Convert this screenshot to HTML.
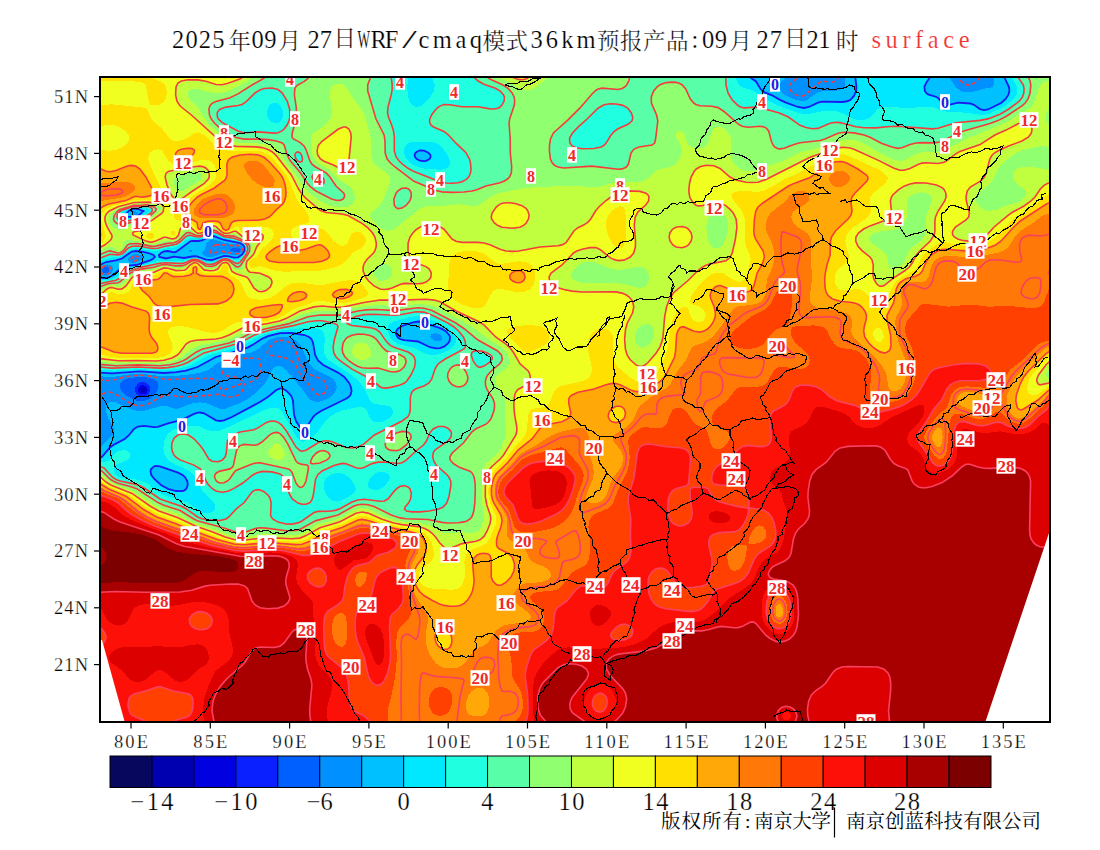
<!DOCTYPE html><html><head><meta charset="utf-8"><title>WRF/cmaq surface</title>
<style>html,body{margin:0;padding:0;background:#fff}svg{display:block}text{font-family:'Liberation Serif','Noto Serif CJK SC',serif}</style></head><body>
<svg width="1100" height="850" viewBox="0 0 1100 850">
<rect width="1100" height="850" fill="#fff"/>
<defs><clipPath id="mc"><rect x="100" y="77" width="950" height="645"/></clipPath></defs>
<g clip-path="url(#mc)">
<g shape-rendering="crispEdges"><rect x="100" y="77" width="950" height="645" fill="#0000b0"/>
<path fill="#0000e0" d="M96,73 1054,73 1054,725 96,725ZM142,387.8 140.8,389 140.9,391 142,392 144,391.9 144.9,391 145,389 144,387.9Z"/>
<path fill="#0a20ff" d="M96,73 1054,73 1054,725 96,725ZM140,386.1 138.2,389 138.2,391 139.3,393 142,394.5 144,394.4 146,393.3 147.5,391 147.6,389 146.7,387 144,385.3 142,385.2Z"/>
<path fill="#0060ff" d="M96,73 1054,73 1054,725 96,725ZM140,382.5 138,383.6 135.5,387 135,391 135.9,393 137.4,395 140,396.5 144,396.8 146,396.1 149.3,393 150.4,389 149.9,387 148.8,385 146,382.8 144,382.1Z"/>
<path fill="#0090ff" d="M96,73 1054,73 1054,725 96,725ZM106,266.9 104,267.5 102.6,269 102.2,271 104,273.2 106,273.5 107.3,273 109.1,271 109.1,269 108,267.6ZM136,376.9 125.9,379 122,381 120.4,383 119.9,385 120.5,389 122,391.5 125.6,395 134,399.9 138,401.1 142,401.2 146,400.3 150,398.3 155.9,393 157.3,391 158.6,387 158.3,383 156.9,381 153.1,379 146,377.3ZM230,248.9 228.6,249 230,249.2 231.4,251 236,252.4 238,252.4 240,251.5 240.7,249 238,247.3Z"/>
<path fill="#00c0ff" d="M96,73 789.6,73 788.9,75 787.1,77 782,80.7 780.2,83 779.4,85 779.8,89 782.4,93 786,95.7 793.3,99 802,101.4 806,100.7 816,93.5 820,91.6 824,91 836,91 842,88.9 844.3,87 845.3,85 845.4,73 948.9,73 950.4,79 956,87.5 960.8,91 964,92 968,92.3 974,91.6 984,88.7 992,87.4 993.7,85 994,83 993.1,73 1054,73 1054,725 96,725 96,451.6 98,451 100,449.1 104.2,443 110.8,437 113.7,433 114.1,431 113.4,427 108,417.7 106.4,413 106,407 107.9,403 110,401.9 114,402 118,403.3 130,409.1 138,411 146,410.4 162,405.6 166,406 174,408.6 178,408.7 190,404 196,402.7 200,402.4 208,403.7 220,409 224,409.1 240,403 247.5,399 253.1,395 259.9,389 264,384.4 267.6,379 272.7,369 274.9,367 278,366 282,366.8 286,369.9 302.1,389 308,397.4 310,399.5 312.5,401 316,401.8 320,401.6 328,398.6 332,395.8 334.7,393 336,390.5 336.7,387 336.1,383 333.2,379 330,376.8 316,370.1 310.2,365 306.7,359 301.8,347 297.1,341 292,338.1 288.4,337 284,336.5 277.2,337 271.2,339 267.6,341 258.2,349 254.9,351 250,352.7 238,355.4 225.7,359 218,363 208,370 204,371.7 198,373.3 182,375.4 168,376.4 162,376.3 140,373.6 130,374.3 114,376.8 108,376.9 96,375.9ZM104,264.9 101,267 99.8,269 99.5,271 100,273 101.9,275 104,275.8 108,275.4 111.4,273 112.6,271 113,269 112.4,267 110.1,265 108,264.4ZM132,212.4 131,215 134,215.5 136.2,215 138.3,213 138,212.2 136,211.3 134,211.2ZM190,249.8 188.8,251 190,252.3 192,251.9 192.9,251 192,249.9ZM208,240.9 206.3,243 205,249 201.9,253 202.8,255 207.7,257 212.6,257 220,254.4 224,253.6 234,255 238,254.8 240,254 242.7,251 243.2,249 242.8,247 240,244.6 232,244 224,242.6 214,239.4 212,239.4ZM432,333.9 430.6,335 430.4,337 431.8,339 434,340.4 438,341.4 440,341 442.2,339 442.4,337 440,334.3 436,333.1ZM132,254.9 129.2,257 127.8,259 128.1,261 132,262.8 136,262.6 139.6,261 142.5,259 143.8,257 141.3,255 138,254.2 134,254.3Z"/>
<path fill="#00e8ff" d="M96,73 747.5,73 748.1,75 749.6,77 756,81.5 760.5,89 764,92.2 772,95.3 780,99.9 786,102.6 798,107 804,108 808.9,107 818,102.7 822,101.7 842,102 846,101.5 850,100.1 854,96 856.1,91 856.4,87 854.9,73 930.9,73 930.1,77 926,83.3 924.4,87 924.9,91 926.2,93 928,94.4 936.5,97 938,98 942.4,103 946,104.7 950,104.6 958,102.7 970,103.5 974,104.8 980,109.1 984,110.2 988,109.5 1001.1,103 1005.7,99 1008.3,95 1009.4,91 1009,87 1004.2,77 1003.5,73 1054,73 1054,725 96,725 96,458.7 100,458 102,456.9 110,447.4 114,444.6 124.7,439 129.2,435 134,428.9 138,426.5 144,425.8 154,427.1 158,426.9 168,423.4 182,419.8 194,413.9 198,412.6 200,412.5 204,413.3 216,420.3 220,421 224,420.4 232,417 260,402 267.8,397 276,390.3 280,388.4 282,388.4 286,390.4 290.6,395 292,397.6 293,401 294,414.5 296,421 300,427.2 302,428.3 304,428.3 306,427.1 308,425 313.1,417 316,414.2 321,411 346,398.8 348.7,397 350.5,395 351.6,391 350.9,387 349.1,383 344.3,377 338,372.6 323.2,365 318,360.5 315.1,355 313.1,343 311.4,339 309.1,337 304.4,335 292.2,333 280,333.2 268,336.1 261.6,339 254,344.1 248,347.4 242,349.6 215.8,357 197.5,367 186,370.6 176,372.2 164,373 140,371.3 112,373.4 96,372.3ZM134,208.7 128.7,211 126,213.8 123.8,215 124,215.4 126,216.7 134.1,217 138,215.6 141.5,213 142,211.9 144.3,211 142,210.7 137.8,209ZM210,236.4 202,240.4 198,241 192,240.9 190,241.5 176,251.9 174,252.4 168,251 164,251.4 160.9,253 158.9,255 159.4,257 166,258.5 174,256.6 184,258 192,256.5 196,256.2 206,259.7 212,260 224,255.9 228,256.1 234,257.6 238,257.3 242,254.6 244.4,251 244.4,247 243.1,245 240,243.1 224,240 214,236.1ZM412,322.7 402,326 397.6,329 396.4,331 396,333 396.3,335 398,337.6 400,339 404,340.2 418,341.5 430,347.2 436,348.4 440,348.1 444,346.6 448,343.4 449.6,341 450,337 449.1,335 446,331.5 442,328.9 422,322 418,321.5ZM418,151 415.3,153 414.6,155 415.1,157 416.7,159 420,160.7 424,161.2 426,160.8 429.5,159 430.6,157 430.4,155 428,152.4 424,150.7 420,150.5ZM154,466.4 151.1,469 150.5,471 151.3,475 154.3,479 161,485 168,488.8 176,491 182,491.2 184,490.6 186.2,489 187.8,485 187.3,481 184.9,477 182.6,475 178,472.6 160,466.3 156,465.9ZM130,252.7 122,258.5 116,260.4 106,262 100,264.9 96.6,269 96.2,273 97.3,275 102,277.8 104,278.1 108,277.7 113.6,275 118,270.8 124,266.8 128,265.7 136.1,265 150,260.3 152.9,259 155,257 153.5,255 148.5,253 142,251.6 136,251 132,251.7Z"/>
<path fill="#20ffe0" d="M96,73 408,73 407.3,89 408.7,99 410,102.2 412.2,105 414,106.3 418,107 422,105.4 426,102 430.4,97 433.9,91 434.8,85 431.6,77 430.8,73 735.3,73 735.6,77 736.8,81 739.3,85 741.6,87 752,90.2 764,98.1 776,104.5 784,107.8 798,113 804,114.1 810,113.8 824,110.9 830,110.8 836,111.3 842,113 854,119 860,120.3 864,120 868,118.5 870.3,117 878,108.9 882,107 886,106.5 906,108.1 930,106.7 934,107.5 942,110.6 946,111.5 968,112.8 982,115 988,114.2 1000,108.9 1006,105.4 1013.7,99 1016.5,95 1017.3,91 1016.9,87 1015.1,83 1011.1,77 1010.2,73 1054,73 1054,725 96,725 96,462.7 104,462.2 108.1,461 110,459.4 114,454 118.5,451 124,450.1 127.7,451 129.9,453 130.4,455 129.9,457 128.5,459 124,461.7 116,464.4 113.8,467 114,471 114.8,473 118,476.3 120,477.4 124,478.4 136,479.5 142,480.9 148,484.1 158,491.7 163.7,495 188,502.6 192,505.2 198.7,511 202,512.8 206,513.5 210,513.1 213.8,511 214.9,509 215,505 214.2,503 202.7,491 196.6,479 194,475.1 188,470.3 176,464.8 170,461.3 167.3,459 164.7,455 163.3,449 164,441 166.8,435 172,430.4 180,427.3 194,425.6 200,426.5 206,429.6 210,430.9 214,431.3 220,430.5 232,425.6 262,411 270,408.3 276,407.5 278,407.9 280,409 282,411.3 294,432.8 298,439 300,440.8 302,441.6 304,441.6 309.8,439 314.7,435 318.3,431 325.4,421 329.6,417 336.3,413 342,410.6 356,407.4 360,407.1 364,407.7 366.1,409 369.5,417 372,420.5 374,421.8 378,422.6 384,421.3 388.3,419 392.3,415 393.1,411 392,408.4 390.6,407 388,405.8 376,404 372,402.8 370,400.7 366.7,393 363.5,387 358.6,381 348.8,373 332,362.5 327.5,359 325.8,357 324.2,353 324,349 324.9,339 324,333.5 322.3,331 320,329.4 316,328.2 310,327.8 300,328.4 280,330.6 268,333.1 257.7,337 248,342.6 242,345.5 234,348.2 210,354.8 205,357 190.9,365 185.4,367 178,368.8 162,370.4 140,369.1 114,370.6 96,369.4 96,279.6 104,280.4 111.3,279 116.3,277 124,271 128,268.8 158,261.1 172,260.7 182,261.1 194,257.9 198,258.4 206,261.9 210,262.4 214,261.8 222,257.9 226,257.4 230,258.3 234,260.1 236,260.5 238,260.2 240,258.9 244,254.7 245.9,251 246.2,249 245,245 242,242.6 236,240.6 224,238.2 216,234.5 212,233.7 210,234.2 202,238.1 200,238.5 190,238 187.4,239 180,244.7 176,246.9 172,248.1 164,248.8 156,251.3 140,248.6 136,248.4 132,248.9 130,249.8 122,255.9 118,256.9 110,257.7 104,259.9 96,263.9ZM130,208.9 124,211 120.7,213 119.6,215 120,217.3 122,219 124,219.3 136,218 142,214.9 148,213.4 150,211 149.5,209 146,207.7 142,208.2 134,207.6ZM274,102.7 272,103.2 270,104.5 268.3,107 267.3,111 267.2,115 268.4,119 270,121 273.5,123 276,123.3 278,123 280,121.9 282,119.7 283.1,117 283.3,113 282,108.3 280,105.3 278,103.6ZM410,142.5 406,145 404.8,147 404,149.1 403.8,153 405,157 406.3,159 410,162.6 414,165.3 418,167.1 424,168.6 438,169.6 442,169.5 446,168.5 448.5,167 449.7,165 450,161 447.7,155 442,147.1 438,144 434,142.5 426,141.5 416,141.5ZM338,472.8 332,474.2 328,476.4 325.4,479 323.9,483 324.3,489 325.6,493 327.8,497 332,500.5 336,501.6 340.3,501 348.5,497 353.6,493 355,491 355.7,489 354.8,485 352.1,481 348.3,477 344,474.1 340.8,473ZM376,473 373.1,475 369.7,479 368,483 367.7,485 368.3,487 370.6,489 376,490.2 380,489.3 384,486.5 388.8,481 390,477 389.3,475 388,473.7 384,471.9 380,471.6ZM410,317 394,321.5 390.4,323 388.4,325 387.7,329 389,335 391.3,339 396,342.9 400,344.6 414,348.1 426,354.1 432,354.9 438,354.4 444,352.6 450.6,349 454.6,345 456.3,341 456.2,337 455.3,335 452.1,331 446.9,327 440,323.4 424,316.4 418,315.6Z"/>
<path fill="#58ffa8" d="M96,73 390.4,73 392,83 392.2,89 391.2,95 388,107 387.5,113 388.4,117 391.7,125 393.5,131 394.3,137 394.3,151 396.1,157 399.1,161 403.4,165 408,168.3 414,171.6 440,181.7 446,183 452,183.3 458,182.8 462,181.7 466,179.6 468.7,177 470.5,173 471,169 470.5,163 469.5,159 466,152.7 456,143.2 448,134.5 444,131.4 433.6,127 430.9,125 429.8,123 429.6,121 429.9,119 431.6,115 434.5,111 438,107.4 440,106.1 444,104.6 450,104.7 462,106.8 478,106.8 490,108.9 494,109 498,108.2 500,107 502,105 504.1,101 504.4,97 503.6,95 500.2,91 496,88.6 484,84.2 478.2,81 473.9,77 472.5,73 725.7,73 726,85 728,93 732,99.7 738,105.5 740,106.7 744,107.9 756,107.1 760,107.5 779.3,113 788.4,117 800,125.3 806,127.6 812,128.8 818,128.4 830,123.2 836,122.3 840,122.6 856,126.8 864,127.7 876,127.9 890,126.5 898,126.3 932,128.9 938,128.3 956,122.8 980,120.4 988,118.9 1000,114.2 1008.9,109 1019.5,101 1022.5,97 1023.8,93 1024.1,89 1023.4,85 1017.9,77 1016.7,73 1054,73 1054,725 96,725 96,466.2 100,466.5 104,468 112.2,477 116,479.5 120,481.1 134,483.9 140,485.8 145.7,489 160,499 182,506.5 186,508.7 197.6,517 202,518.7 208,519.9 220,520.5 226.1,519 228.9,517 236,509.2 244,502.8 252,492 254,490.5 258,489.6 260,489.9 264,491.7 267.9,495 269.3,497 270.3,499 271.1,503 270.6,515 271.2,517 272.7,519 278,522.1 286,524 292,524.1 298,522.9 302,521 314,512.5 318,511.4 330,511.2 336,510.1 340,508.7 352,502.1 358,500 364,499.3 380,501.3 384.2,501 388,499 394,491.4 398,487.7 400,486.5 404,485.6 408.1,487 410,489 411.3,493 410.6,499 408.5,503 405.2,507 404.5,509 406.5,511 412,511.9 420,511.9 429.3,511 438.8,509 443.1,507 446.7,503 448.9,497 451,485 450.7,481 448.9,477 446,473.8 436.1,465 433.7,461 432.7,457 433.2,453 434.2,451 436.2,449 448,441 451,437 451.5,433 450.7,431 448,428.2 444,426.5 438,426.5 433.1,429 430,432.6 426.4,441 423.5,445 416,451 406,460.4 402,462.8 398,463.5 384,462 378,462.1 372,463.6 364,467.4 360,468.5 356,467.8 346,463.8 342,463.4 334,465.5 322.1,471 318,474.4 315.6,479 313.3,495 312,499.7 310,502.6 306,504.3 302,504.3 298,503.1 292.3,499 288.9,493 286,481 284,477 280,473.9 272,471.9 262,471.4 256.4,473 252.8,475 242.8,483 234,488.4 228,491.2 222,492.3 216,491 212,488.5 208,484.2 206,480.8 202,471.3 200,468.7 194,465.1 180,459.9 175.7,457 174,455 172.2,451 171.6,447 172,443 174,438.3 178,434.9 180,434.2 184,433.9 188.5,435 194,438.8 199.7,445 202.8,449 208.7,459 212,461.2 218,461.7 222,460.3 225.1,457 226.3,453 227.4,441 229.9,437 232,435.4 240,431.9 254,429.7 258,427.9 266,422.7 270,421.3 274,421.1 278,422.2 282,425.3 286.4,431 296,447.1 300,450.7 302,451.2 306,450.2 318,442.7 324,440.9 328,440.9 332,441.7 346,447.5 352,448 358,446.9 364,443.9 374.4,435 402.2,421 407.7,417 409,415 410.2,411 410.4,397 411.4,393 412.7,391 415.4,389 424,386 429,383 431.8,379 435,369 437.3,365 439.3,363 445.2,359 464,349 465.4,347 465.6,345 465.1,341 463.4,337 458.6,331 454.1,327 447.8,323 434,316 424,312.1 416,311.7 400,314.8 394,315.3 374,314.3 364,314.6 356,316.4 350.2,319 347.7,321 346.8,323 348,324 352,325.5 370,327.6 376,329.3 380,332.3 386,341.1 390,345.1 394,347.3 408,352 412,354.6 414.1,357 415.4,361 414.6,367 410.9,375 406.8,381 404,383.3 400,385 392,387.1 386,388.1 382,387.6 380,386.7 370.7,379 352,369.1 340.4,361 336.1,357 333.8,353 333.1,347 334.5,339 338,327 337.3,325 333.7,323 322,320.7 316,320.7 308,321.7 292,325.9 272,329.7 260,332.9 254.5,335 242,341.6 236,344.1 204,352.9 188,362.3 182,364.7 176,366.3 168,367.6 160,368.1 138,367 112,368.1 96,366.7 96,283.8 102,283.3 116,280.3 120,278.3 126,273 130,270.7 142,267.1 160,263.2 166,262.8 182,263.6 186,262.4 192,259.6 194,259.3 198,259.8 206,264 210,264.5 214,263.9 222,259.2 226,258.6 230,259.9 236,263.4 238,263.4 240,262.2 245.6,255 246.8,253 247.8,249 246.9,245 245,243 242,241.2 234,238.2 224,236.8 216,232.6 212,231.7 210,232.2 204,235.8 200,237 196,236.7 190,235.2 188,235.5 186,236.5 180,242 176,244.2 164,246.5 158,248.2 152,248.5 138,246 132,246.2 128,248.2 124,252.6 122,254 118,254.9 110,254.2 100,258.3 96,259.3ZM132,207 122,210.2 120,211.3 118.2,213 117.2,215 116.9,217 118,219.5 120,221 124,221.6 136,219.4 142,216.7 148.3,215 151,213 152.2,211 152.2,209 150,207 148,206.3 140,206.8 136,206.4ZM264,88.5 260,89.9 255,93 246,101.9 242,104.4 238,105.5 226,107.1 220,109.3 218.2,111 217.2,113 217.4,117 218.4,119 222,122.4 226,124.8 237.9,131 242,132.3 246,132.7 258,131.9 274,133.1 278,132.7 282,130.9 284.2,129 287.1,125 288.9,121 290,117 289.6,109 287.2,101 282.3,93 278,89.6 272,88ZM296,152.5 294.8,155 296,159 298,161.2 300,162.2 302,161.5 302.5,159 301.6,155 300,152.8 298,151.9ZM314,174.3 312.7,175 312,177 313.9,181 315.9,183 320,184.9 322,184.8 323.9,183 324.2,181 323.7,179 322,176.6 318,174.4ZM476,350.7 474,351.1 472,352.4 471.2,355 473.2,361 476,365 478,366.7 480,367.3 484,366.1 488.7,363 492.2,359 492.2,357 490.7,355 487.4,353 482,351.1ZM604,104.7 598,108.2 587.1,119 578,127.1 572.5,133 570.1,137 569.5,139 569.9,143 572,145.7 576,147.7 582,148.7 594,148.5 601.3,147 604,145.4 606,143.3 611,135 614,131.6 618,128.8 628,124.3 631.9,121 632.6,119 632.7,117 631.4,113 628.6,109 626,106.9 622,105.1 616,104 610,103.8Z"/>
<path fill="#90ff70" d="M96,73 267.6,73 267,75 265.5,77 262.7,79 252,85 238,93.9 230,97.7 216,101.5 212,103.4 210,105.6 208.9,109 209.5,115 211.3,119 214.4,123 220,128 230,134.6 236,137.5 244,139.1 260,139.1 268,139.6 276.4,141 282.2,143 284.2,145 287.2,155 290,160.5 300.6,173 307.2,183 310,186.3 314,189.7 320,193.3 331.5,199 338,200.6 342,199.7 344,197.8 344.5,195 343.6,193 336,186 329.9,177 326.2,173 315.6,167 312,164.2 309.9,161 306,149.6 304,145.9 300,142.3 293.4,139 292,137 292.2,133 295.7,121 296.6,115 296.2,107 294.4,95 294.8,89 295.7,87 297.8,85 304,81.7 307.5,79 308.8,77 309.7,73 370.8,73 370,78.7 367.7,85 367.7,91 376,119 384.1,135 385,141 385.2,153 387.2,159 390.5,163 395,167 414,181.3 436,190.5 442,191.9 452,192.4 464,192 472,191 476,190 486,185.9 500,182.7 504.4,181 507.5,179 509.5,177 511.3,173 511.7,167 510.3,153 510.2,139 509.1,123 509.7,119 514.3,105 514.7,101 514.1,97 512.1,93 508,88.4 503,85 489.8,79 487.2,77 485.8,75 485.3,73 630,73 629.4,79 627.9,83 624.6,87 622,88.5 616,89.5 602,88.1 598,89.1 594,91.9 582,105.9 568,119.8 554,132.3 551.1,137 549.7,143 549.5,153 550.4,159 552,162.5 554,164.8 557.8,167 562,167.9 566,168.1 586,166.3 594,166.2 618,169.3 622,168.9 626.4,167 627.9,165 628.7,163 631,153 634,149.1 639.1,147 652,145.1 654.6,143 655.6,139 657.8,121 656.6,115 651.4,103 651.3,97 653.7,91 656.9,87 660,84.7 666,82.6 672,82.1 676,82.4 678.6,83 682,84.7 685.7,89 690.3,99 694,103.3 696,104.5 700,105.8 712,106.3 718,107.6 724,111.5 738,123.9 742,126.3 748,127.2 760,126.3 764,126.9 766,127.9 768.7,131 771.3,141 773.1,145 774.8,147 778,148.7 780,148.9 784,148.2 794,144.4 800,142.8 820,140.5 824.9,139 838,133.2 844,132.3 854,132.9 864,134.9 869.5,137 882,143.4 892,147 898,148.4 902,147.8 910,144.4 916,143 922,142.6 934,142.9 940,142 962,131.4 988,124.3 1000,119.7 1008,115.2 1020.6,107 1025.2,103 1028,99 1030.1,93 1030.8,85 1030.1,81 1027.3,75 1026.9,73 1054,73 1054,725 96,725 96,469.4 100,470.1 102,471.1 110,479 114,481.5 118,483.2 132,487 137.3,489 158,502.6 164,505.2 180,510.6 193.8,519 198,521 224,527.9 238,532.7 244,532.6 256,528.4 260,527.7 266,528.1 286,530.8 296,530.5 300.6,529 316,520.6 338,515 354,506 358,504.7 362,504.2 368,504.8 374,506.5 391.2,515 400,517.9 406,518.7 428,519.5 442,522.4 447.6,523 458,522.8 464,521.9 466.9,521 470.1,519 472,516.6 473.8,511 474.8,503 475.3,491 475.1,483 474.1,477 472.1,473 470,471.2 460,467.6 454,464 451,461 450,459 449.8,457 452.2,453 463.4,443 472,431.8 476,428.8 486,424.1 488,422.5 490.9,419 493.9,411 494.5,407 494.4,403 493.1,399 486.7,389 485.5,385 485.4,381 486.5,377 487.7,375 491.3,371 500,363.5 501.7,361 502.3,359 501.4,355 497.7,351 478,340 464.5,329 455.9,323 432,310.5 424,308.2 418,307.8 396,310.6 376,309.5 366,309.9 358,311 340,315.1 320,315 308,316.8 288,323.9 264,329.2 254,332 248,334.5 238,339.7 229.2,343 202,349.3 196,352.2 186.4,359 182.6,361 177.3,363 170,364.7 160,365.8 138,364.9 116,365.7 96,364 96,287.5 100,286.8 108,283.7 118,282.7 120,281.9 128,274.7 130.4,273 135.1,271 142,269.1 154,267.2 162,264.8 166,264.5 176,265.9 182,265.9 186,264.5 192,260.9 196,260.5 200,262.1 206,266 212,266.4 216,265 222,260.5 226,259.8 229.3,261 236,266.7 238,266.9 240,266.1 242,263.5 248.7,253 249.8,249 249.2,245 247.7,243 244.6,241 234,236.1 224,235.5 220,233.5 216,230.7 212,229.7 210,230.2 204,234.4 200,235.8 196,235.3 190,232.7 188,232.6 186,233.2 178.1,241 174,242.7 166,243.6 156,246.1 152,246.4 138,243.6 130,243.7 127.4,245 123.2,251 120,252.8 117.9,253 110,250.9 108,251.3 100,254.6 96,255.3ZM146,204.8 140,205.5 134,205.4 120,209.5 117.6,211 114.4,215 113.5,219 114.2,221 116,222.9 118,224.1 122,224.7 136,221.2 142,218.5 150,216 155.5,211 156.3,209 154.1,207 148.3,205ZM402,188.3 398,190.8 396.2,193 393.9,199 394.2,205 396,207.7 398,208.6 402,208.1 406,205.4 409.7,201 411.2,197 411.2,193 410,190.4 408.6,189 406,188ZM352.9,335 358,334.1 364,334.2 370,335.4 373.5,337 376.1,339 382.1,347 386,350.7 390,352.4 400,354.7 404.1,357 405.5,359 406,361 405.9,363 404.1,367 400,370.6 398,371.4 394,372 390,371.5 378,368.1 368,368.3 362,367.7 358,366.4 354,364.3 349.2,361 345,357 342.8,353 342.1,349 343.1,343 345.6,339 348,337ZM455.9,365 460,365.1 462.6,367 466,371.8 467.9,377 467.4,381 466,383.5 464,385.4 460,386.9 456,386.5 452,384.5 449,381 447.6,377 448,373 450,369.1 452,367ZM273.1,433 276,432.4 278,432.6 280,433.6 283.5,437 288,444.3 296,461 298,463 302,464.4 307,465 308,465.7 308.4,467 308,471 306,481 304,485.3 302.2,487 300,487.3 298,486 295.9,483 292,472.3 290,469.9 288.4,469 260,462.8 256,463 252,464.1 236,470.4 234,472.5 229.7,479 227.3,481 224,482.7 220,483 218,482.2 216,480.5 214.5,477 214.8,475 216.3,473 220,471.1 230,468.9 232.6,467 233.5,465 236.4,451 238,447.7 240,445.6 244,444.4 254,445.2 258,444.5 262,442 270,434.6ZM396.3,433 402,431.4 406,431.6 408,432.2 409.3,433 410.8,435 411.1,437 410.6,439 406.2,445 400,449.7 396,450.8 390,450.1 387.6,449 385.8,447 385.2,445 385.4,443 387.5,439 389.5,437ZM319.9,451 324,450.6 328,452.3 329.9,455 329.7,457 328.1,459 326,460.4 320,463 314,463.8 312,463.8 310.6,463 310.8,461 312.6,457 316.4,453Z"/>
<path fill="#c0ff40" d="M96,73 255,73 254.5,75 253.2,77 250,79.6 236,87.5 226,91.9 220,93.3 214,93.2 208,92 198.4,89 194,88.7 191.8,89 188.4,91 187.5,93 187.5,95 189.7,99 198,107.4 204.9,119 207.9,123 214,129.1 222,135.5 228,139.3 236,142.2 242,143.1 262,143.6 268,144.7 274,147 276.9,149 280,152.6 286.7,163 296.2,175 303.6,187 308,192 320,200.8 326,204.3 332,206.4 340,207.3 348,206.5 351.5,205 353.5,203 354.4,201 354.9,197 353.5,191 350.7,187 340,180.3 330,170 320,164.4 315.7,161 313.2,157 312.1,153 310.6,139 310.7,137 312,133.9 324,126.1 328.6,121 330.9,117 332,111 329.9,97 329.9,93 330.6,89 331.6,87 334,84.8 338,83.7 342,84.1 344,85 347.9,89 353.5,99 361.5,109 364.6,115 371.1,139 371.1,155 372.5,161 375.6,165 386.6,173 389.9,177 390.4,179 389.6,183 382.8,201 380,205.2 370.7,213 370.1,215 370.5,217 371.7,219 380,227.6 384,230.2 388,230.9 392,230 396,227.9 420,208.7 426,205.9 430,205.5 442,205.9 458,204.2 472,205.9 476,205.9 480,204.6 490.3,197 498,193.2 526,187.8 572,185.5 596,187.5 600,186.9 610,183.7 616,182.5 636,182.3 643.4,181 647.2,179 653,173 656,170.7 660,169.1 672,166.4 676,163.7 678,161.2 681,155 681.9,149 680.7,145 675.8,137 675.5,135 676,133 678,131.2 680,131 682,131.9 684,134 687.1,143 688.6,145 694,148 700,148.6 704,147.2 706.5,145 708.8,141 712,131.6 714,128.5 716,127 718,126.4 722,127.3 726.7,131 730.5,137 731.3,143 730.2,155 732.3,161 735.1,165 738,167.9 742,170.3 746,171.3 752,171.2 758,169.8 768,165.8 782,161.3 802,151.7 822,146.9 840,140.8 846,139.9 854,140.3 860,141.8 892,158.8 898,160.8 902,160.8 906,159.5 916,153.9 920,152.6 924,152.1 936,152.4 942,151.2 964,139.8 1004,123.6 1026,110.8 1031.1,107 1034.8,101 1039,87 1040.1,85 1042,83 1046,81.4 1054,81 1054,105.3 1050,106.9 1048.2,109 1046.4,113 1045.9,117 1046.6,121 1048,123.7 1050,125.6 1054,126.6 1054,147.6 1042,146.2 1036,146.9 1020.3,151 1012.6,155 1000,166.2 996.8,171 990.9,183 986.8,187 977.9,193 976,196.2 975.6,199 976.9,203 980,207.1 984,209.5 988,210.5 992,210.6 996,209.8 1006,205.7 1016,202.8 1020,201.1 1023,199 1024.8,197 1025.7,195 1025.8,193 1025.1,191 1023.6,189 1015.9,183 1013.2,179 1012.6,175 1013,173 1014.1,171 1016,169.2 1020,167.6 1028,166.9 1036,167.6 1048,169.7 1054,170 1054,366.2 1052,366.7 1049.1,369 1047.7,371 1046.2,375 1047,377 1048,377.6 1054,378.4 1054,725 96,725 96,472.5 100,473.5 108,480.6 112,483.2 118,485.7 130,489.4 136,492.2 151.6,503 160,507.7 178,514 191,521 198,524.1 212,528.4 229.1,535 236,537 240,537.5 246,537.2 264,534 290,535.4 298,534.8 302.9,533 318,524.5 338,519.1 342.6,517 354,510.2 358,508.7 362,508.2 370,509.7 385.2,517 396,520.6 404,521.9 420,523.2 426,524.4 432,526.6 440,531.3 444,532.8 448,533.1 460,532.4 474,533 478,531.3 480,529.2 482.1,525 483.6,519 483.6,515 481.7,499 481.5,491 482.1,477 483.6,469 486.6,463 496,454.7 500,449.7 504.2,441 506.1,435 506.3,431 505.3,419 505.4,405 504.9,399 502.7,393 497.9,387 496,383.7 495.3,379 496,377 498,374.4 505.4,369 507.4,367 508.5,365 509.4,361 508.1,355 503.6,349 500,346.2 488.1,339 472,326.7 438,307.9 430,305.2 420,304 398,305.9 380,305.3 370,305.6 360,306.9 340,311 320,310.5 310,312.1 302,314.4 290,320.1 284,322.3 256,328.4 248,330.6 232,338.4 224.6,341 198,345.8 192,348.8 182.3,357 178.9,359 173.7,361 166,362.8 158,363.5 138,362.8 116,363.3 96,361.3 96,291.2 100,290.4 106,286.7 110,285.2 118,285.7 121,285 124,282.9 131.5,275 138,272.1 144,270.8 154,269.6 164,266.2 168,266.4 176,268.2 182,268.2 186,266.8 190.5,263 194,261.6 198,262.3 204,267.3 206,268.2 210,268.7 214,268.2 216,267.4 222,261.9 224,261 226,261 229.7,263 234,269 236,270.1 240,270.5 242.4,269 245.2,261 251.1,253 252.3,249 252.6,245 252.1,243 250,241.2 242,238.1 236,234.4 234,233.8 228,234.7 224,234.3 221.3,233 216,228.7 212,227.7 210,228.1 208,229.3 204,233 200,234.6 196,233.8 190,230 186,229.8 183.7,231 178,238.9 174,240.8 166,240.8 152,244.3 148,244 136,240.7 128,240.2 126,240.6 124,242 122.1,249 120,250.5 118,250.7 112,246.8 110,246.7 100,251 96,251.6ZM132,204.6 118,208.7 114.4,211 110.1,215 109.1,217 109,221 111,225 114,228.1 118,230.1 122,230 132,225.1 138,224 142.1,221 150,218.1 152,216.9 160,211 160.9,209 160.6,207 158,205.3 148,203.6 136,204ZM188,173 179.5,175 175.9,177 174.4,179 173.9,181 174.5,185 176,188.2 178,190.4 180,191.1 182,190.9 186,189.1 199.1,181 201.1,179 202,177 201.8,175 200.1,173 198,172.2 194,172.1ZM380,264.5 376.3,267 374.8,269 374,271.2 374.1,275 376,278 380,280.6 382,280.9 386,280.1 390,277.6 391.9,275 392.5,273 392.1,269 390.9,267 388,264.8 384,263.9ZM584,262.5 578,265.6 574.4,269 571.6,273 571,275 571.1,277 572.4,279 575.5,281 580,282.4 584,283 606,282.5 616,283 622,283.8 636,287.3 640,287.9 644,287 646,285.6 648.7,281 649.2,277 648.3,273 645.7,269 642,266.8 638,266.5 624,269.4 618,269.8 610,268.4 598,263.4 594,262.3 588,261.9ZM716,212.6 712,214.4 709.1,217 707.1,221 706.3,227 707.2,237 709,243 712,247 716,248.5 720,247.3 722,245.4 724,242.4 726,238 727.4,233 728.3,225 727.1,219 724.3,215 720,212.5ZM916,193 911.7,195 909.3,197 907.9,199 906.8,203 907.2,213 906.8,217 905.3,221 902,225.3 898,228.2 894,229.6 882,231.1 876,232.7 871.5,235 869.6,237 869.1,239 869.7,241 871.4,243 882,250.2 886,254.4 887.3,257 889.1,267 891.1,269 894,269.2 896,268.7 899.6,267 902,265 904,262 906.8,255 909,251 912.8,247 922,239.9 925.1,235 925.9,231 925.9,219 926.5,215 931.1,203 931.9,199 931.4,197 930,195.3 926,193.1 920,192.3ZM644,324.4 640,326.6 637.7,329 635.5,333 634.6,337 635,341 637,345 640,347.4 642,347.7 646,346.4 650,343.4 653.2,339 654.4,335 654,329.6 652,325.8 650,324.3 648,323.9ZM495.3,73 548.5,73 547.4,77 546.1,79 540,84.5 532,89.4 526,90.6 522,89.9 510.5,83 498,77 496,75ZM357.8,343 360,342.5 364,342.9 367.8,345 369.5,347 371.1,351 371,355 369.9,357 367.4,359 364,360.2 360,360.1 356,358.2 353.1,355 352.3,353 352.3,349 354.7,345ZM273.1,445 276,443.5 278,443.4 280,444.4 282,446.6 284.1,451 284.8,455 284.4,457 282.8,459 280,460 278,460.1 274,459.2 270.1,457 268.6,455 268.3,453 268.7,451 271,447Z"/>
<path fill="#f0ff20" d="M96,73 245.4,73 244.7,75 243,77 239.9,79 228,83.3 222,84.8 216,84.5 206,81.3 198,79.9 188,79.8 181.3,81 178,83 176,87 175.6,95 176.9,101 179.4,105 181.4,107 191.4,115 218,139 224,143.2 230,145.4 236,146.4 256,146.9 262,147.6 268,149.5 272,151.7 276,155.3 291.3,175 298.6,189 302,194.2 306,198.4 320,210.3 326,212.5 342,214 348,215.5 362,223.4 368,227.9 372.6,233 374.9,237 376.3,243 376.1,247 374.8,251 373.5,253 367.4,259 364.4,263 363.1,267 363.1,271 365.5,277 370,282.5 376,287.2 382,289.4 386,289.4 390,288.6 400,284.4 404,283.4 418,283.8 422,283.4 426,282.1 429.8,279 430.9,277 431.2,273 429.3,269 426,266.6 418,263.7 413.2,261 409.8,257 408,251 408.1,243 410,237 412.8,233 416,229.7 422,225.9 426,225 430,224.8 436,225.5 440,226.7 444,229.2 452,239 456,241.2 462,242.4 478,242.4 484,243 490,244.7 500,249.3 506,251 512,251.4 518.7,251 540,247 558,245.7 562,244.9 566,242.7 574,230.7 578,227.7 584,224.8 588,222.1 590.7,219 595.5,211 598.8,207 606,200.5 613.5,195 620,192.1 628,190.9 638,191.1 645.5,193 648,195 649,197 649.1,199 647.4,203 638,211.8 635.2,217 634.3,225 635.5,241 635.4,247 633.7,253 630.3,257 624,260.1 618,260.6 614,259.6 610,257.6 600,249.4 596,247.6 590,247.6 582,249.3 576.9,251 573.5,253 562,265 551.1,273 549.1,277 549.6,281 552.9,285 558,287.7 564,289.5 572,291.1 582,292 616,291.9 622,293.1 626.3,295 629.2,297 632.5,301 633.8,307 632.5,313 627.3,323 625.6,329 624.6,339 625.4,349 627.1,355 630,359.5 636,364.9 640,366.6 644,365.7 648,362.5 656,353.2 660,346.8 662,341.4 663,337 664.6,317 666.5,307 669.5,299 673.3,293 688,280.5 698,270.5 702,267.3 706,265.2 710,263.9 726,260.7 730,257.6 732.8,251 735.8,237 736.9,225 736.6,221 735.5,217 732,211.5 726,205.8 720,202.7 714,202.4 702,205.7 698,205.9 694,203.8 690.5,199 689.2,195 688.9,191 689.3,185 690.5,179 693,173 696,169.2 698,167.7 702,166 706,165.3 714,165.7 720,168.4 730,177 736,180.1 746,182.2 752,182.5 758,182.2 766,179.4 810,157.3 834,149 840,147.6 844,147.3 850,148 854,149.2 880,161.1 894,168.3 900,170.2 904,170.3 910,168.5 918,164.5 922,163.1 926,162.7 938,163.5 944,162.2 948,159.8 956,153.7 960,151.4 980,144.6 994.9,135 1006,130.1 1018,123.8 1024,122 1028.9,123 1030.8,125 1032,129 1031.4,133 1028.6,137 1022,141 1008,146.2 997.8,151 994,153.3 992,155.3 989.8,159 986.3,173 984,177.6 980.6,181 972,185.7 968.4,189 966.5,193 966,197 966.4,201 969.4,213 968.7,217 966,219.8 955.4,227 952.7,231 952.4,233 952.8,235 954.4,237 957.7,239 962,240.3 967.1,241 972.5,241 978,240.2 982,238.7 987.2,235 994.1,227 1008.3,215 1024,206 1031,201 1035,197 1040.3,189 1044,185.4 1048,183.3 1054,182.3 1054,359.9 1050,361.1 1045.9,365 1038.5,375 1036.9,379 1036.8,381 1038,383.9 1040,384.8 1050,382.9 1054,382.6 1054,725 96,725 96,475.7 100,476.8 106,482 110.7,485 132,493.4 150,506 158.9,511 178,517.8 196,526.2 212,531.7 225.2,537 234,539.5 244,540.2 266,537.6 292,538.8 300,538.1 306,535.6 320,527.7 340,521.7 356,513.2 362,512 368,513.1 382,519.2 393.8,523 402,524.6 418,526.6 424,528.3 428,530.2 431.9,533 435.6,537 440,543.2 444,547.1 446,548.1 450,548.6 462,543.6 476,541.2 480,539.8 484,536.4 487.1,531 490,523.8 490.8,519 490.2,515 486.8,505 485.3,497 485.4,485 487.1,475 488.7,471 491.4,467 500.2,459 503.6,455 515.9,435 516.8,431 516.8,427 514.6,415 513.9,407 514,399.9 514.7,395 516,391.8 518,389.5 526,385.1 528,383.2 529.4,381 530.2,377 529.4,373 528.2,371 520,363.8 513.8,353 510,347.8 506,344.1 495.7,337 484,324.9 477.4,321 456.1,311 440,301.8 434,300.1 426,299.3 400,300.1 380,300 364,302.5 342,307.2 336,307.4 322,306 314,306.9 300,311.1 286,318.6 279.6,321 268,323.5 248,326.6 242,328.3 229.1,335 222,337.8 215.9,339 196,340.2 190,341.5 186,344 179.4,353 177.3,355 172,358 164,360.3 156,361 138,360.5 118,360.8 96,358.2 96,295.1 100,294.5 102,293.5 107,289 110,287.6 112,287.5 118,289.2 122,288.9 126,286 132,277.8 136,275 142,273.3 154,272.2 164,267.9 168,268.2 176,270.6 184,270.2 186,269.5 190.2,265 194,262.8 196,262.8 198,263.8 204,269.9 208,270.8 214,270.5 218,268.7 220.5,265 222.6,263 226,262.4 228,263.5 229.2,265 231.6,271 234,272.9 244,276 248,278.3 254,288.1 258,291.2 262,291.7 266,290.5 270.2,287 271.9,283 271.8,281 270.9,279 268.7,277 260,273.2 250,272.2 248,270.7 246.2,267 246.3,263 247.1,261 253,255 254.3,253 256.6,247 262.8,239 263.3,237 262.7,235 260,233.1 256,233.2 250,237.3 246,237.7 242,236.2 236,231.2 234,231.2 228,233.4 224,233.1 220.7,231 216,226.4 212,225.5 208,226.8 204,231.3 202,232.8 200,233.3 198,233.2 196,232.2 190,226.8 188,226.3 184,226.4 182,227.1 180.2,229 178.6,235 176,238 174,238.8 172,238.9 166,237.3 164,237.3 155.8,241 152,242.1 150,242.1 146,241.1 133.1,235 132.6,233 134,231.8 140,230.8 142,229.7 146.6,223 152,220.4 162,213.2 163.4,211 163.7,207 162.6,205 160,203.4 148,202.1 134,202.5 118,206.7 109.4,211 107.1,213 105.7,215 105,217 105,221 107.1,227 111.8,235 112,237 111.3,239 109.6,241 104.6,245 100,247.4 96,248ZM194,166.8 182,169.3 170,171 168,171.7 166,173.4 165.1,177 167,185 171.2,195 174.9,199 178,199.9 182,198.6 192.6,191 204,183.7 208.4,179 209.2,177 209.2,173 208,170.3 206,168.2 204,167 200,166.1ZM916,182.9 910,184 904,186.2 898,190.2 892.8,195 891.4,197 890.4,201 891.6,213 889.9,217 887.5,219 884,220.7 870,225.9 863.6,229 858.4,233 855.9,237 855.7,241 858,246.2 862,250.6 869.9,257 872,259.9 873.3,265 872.9,275 873.8,279 876.1,283 878,285.1 880,286.1 882,286.3 884,285.6 894,277.6 904.4,271 909.4,267 912,263.3 916.3,255 919.7,251 930.3,241 934.1,235 934.9,231 934.9,221 935.5,217 938,211.3 944.7,201 946.1,197 945.8,193 944,189.5 942,187.6 936.5,185 926,183ZM507.8,73 531.6,73 531,75 529.6,77 526,79.1 522,79.8 518,79.4 511.8,77 508.9,75ZM343.3,127 346,127 348.9,129 350.7,133 351.2,137 348.5,165 346.9,169 344,170.3 342,169.8 334,165.2 324,161.2 320.4,159 317.7,155 317.2,151 317.8,147 318.7,145 322,141.3 338,129.3ZM503.2,203 510,202.7 516,203.7 522,205.7 526,208.4 527.9,211 529.1,215 528.5,219 526.2,223 524,225.1 520,227.2 512,228.2 502,227.2 498,225.6 494.3,223 491.6,219 491.2,217 492.1,213 496.2,207 500,204.1ZM676.5,227 682,226.5 686,227.5 688.4,229 691.2,233 692,237 691.2,241 688.4,245 686,246.6 682,247.8 676.1,247 672.9,245 670,241 669.1,237 670,232.6 672.7,229Z"/>
<path fill="#ffe000" d="M96,73 150,73 150.9,77 152,78.1 162,82.1 165.2,85 166,87 166.6,91 166.5,95 165.4,99 164,101.6 160,104.5 156,105.4 150.9,105 149.1,103 148.6,101 146.2,87 145.4,85 143.3,83 140,82 132,81.2 96,81ZM100.1,105 112,104.3 146,107.8 148,110.1 150.3,117 152.9,121 162.3,129 170,139 174,140.8 178.1,141 184,139.7 188,137.6 194,133.3 198,132.4 200,132.8 204,135 208.5,139 216,147.3 220,149.6 228,150.7 256,150.6 262,151.6 266,153.2 270,155.8 273.3,159 286.4,175 289.7,181 296.4,199 299.1,203 306.2,211 309.2,217 309,221 307.2,223 296,226.4 292,229.1 290.9,231 290.8,235 291.8,237 293.7,239 298,241.1 302,241.1 304,240.5 309,237 314,230.3 316,228.8 320,228.2 324,229.5 326,231 334,241.2 338,244.2 342,245.7 344,245.7 345.8,245 347.6,243 350,236.4 352.3,233 356,231.5 360,232.1 364,234.9 365.3,237 366,241 364.5,245 360.1,249 352.5,253 348,259 343.8,263 336,266.8 324,270.2 316,271 300,271 284,271.9 274,270.3 260,266.1 254,267.7 252,267.8 250,267.2 248.5,265 248.5,263 249.5,261 252,259.1 256.4,257 261.4,249 268.9,243 272.1,239 273.5,235 273.5,233 272,229.9 270,228.3 266,226.9 260,226.3 256,226.5 254,227 252,228.2 249.4,233 248,234.4 246,235.2 244,234.7 242,233.1 240,229.1 238,226.9 236,226.5 234,227.2 229.7,231 226,232.1 224,231.7 222,230.3 218,225 216,223.8 212,223.3 208,224 206.4,225 202.2,231 200,231.8 197.1,231 192,224 188,222.6 179.8,221 175.2,219 173.7,217 173.6,215 174.5,213 176.3,211 193.8,195 208,186.2 213.8,181 215.1,179 216.4,175 216,169 214.4,165 212,162.1 210,160.9 206,159.8 200,160.2 188,163.7 182,164.9 178,165 174,164.2 171.3,163 168.7,161 162,150.7 160,149.6 158,149.3 154,150.1 150,152.8 148.7,155 148.3,159 150.9,167 162,190.5 163.3,195 163.5,197 162.8,199 160,199.9 154,200.5 134,200.1 126.3,203 114,205.7 106.3,209 102.5,213 101,217 101,219 101.8,223 105.4,233 105.7,237 104.9,239 102,242.1 100,243.3 96,244.2 96,149 108,150.9 116,149.8 122,147.4 125.6,145 128,142.1 129.1,139 128.5,135 126,131.5 122,128.3 118,126.3 112,124.8 108,124.7 96,127 96,105.2ZM834.9,155 842,154.2 850,156.3 862,162.2 878,169.1 884,173 887.5,177 887.7,179 885.6,183 873.7,193 870.4,197 869.6,201 871.3,211 869.9,215 865.3,219 853.3,227 849.2,231 846.6,235 845.4,241 846,245.4 848.8,255 848.7,259 846,262.6 838,269.6 835.9,273 834.7,277 834.7,281 835.8,285 838,288.2 840,289.6 844,290.6 856,289.1 860,289.5 864,291.7 874,300.7 878,302.7 880,302.8 882,302.2 885.9,299 888,296.1 893.3,285 896,281.6 902,276.9 914,270.6 917.1,267 921,259 923.7,255 928,250.8 936,244.8 940,242.7 944,242.2 962,245.7 972,246.2 980,245.2 986.4,243 990.3,241 995.5,237 1009,223 1016,217 1034,205.4 1048,194.3 1050,193.2 1054,192.4 1054,355 1050,355.9 1048,357.2 1033.4,373 1030.5,377 1028.7,381 1027.2,389 1028.1,393 1030,394.4 1034,395 1038,393.9 1048,387.1 1054,385.9 1054,725 96,725 96,478.9 100,480.2 106,484.8 110,487.1 129.1,495 146,507.3 158,514.2 176,520.5 192,527.4 222,538.6 236,542.2 244,542.6 268,540.3 294,541.7 300,541.4 307,539 322,530.6 340,524.9 356,516.9 360,515.8 366,516.3 382,522.3 392,525.2 418,530.1 424.3,533 428.7,537 431.8,543 433.9,553 433.7,557 431.8,561 422,568.8 420,571.5 418.6,577 419.5,581 420.6,583 424,586.3 430,588.4 452,589.8 458,588.7 460,587.3 462,585 464.4,579 464.9,575 464.4,561 466,555 467.3,553 470,550.7 474,548.6 482,545.8 486.4,543 490,538.1 496.3,523 496.5,517 490.8,505 488.6,497 488.3,491 488.7,485 489.8,479 491.3,475 495.4,469 505.8,459 514,447.7 522.1,439 525.1,435 527.1,429 528,415 530,410.6 534,408.6 544,407 547.9,405 550,402.1 554,391.6 556,389 558,387.5 564,385.1 582,381.4 587,379 590,376 591.4,373 591.8,369 591.4,365 588.5,353 588,345 589.5,337 592,332.9 596,329.7 600,328.3 606,328.8 610,331.3 612.4,335 613.3,339 612.6,355 613.7,361 617.8,367 629.5,377 636,380.8 640,381.7 646,380.5 652.6,377 656,373.9 658.2,371 665.7,355 667.9,347 670.4,329 672,321.8 674,316.3 678,310.2 682,307.4 686,306.8 688,308.8 691,317 694.9,321 698,322.4 700,322.5 703.2,321 704.9,319 705.8,315 704,310.4 700,306.8 692,304.2 690.4,303 690,301 690.9,297 693,293 701.2,283 706,278.3 710,275.2 714,273.3 718,272.5 722,272.8 724,273.6 734,280.2 738,281.7 740,281.7 742.4,281 744,279.9 746.1,277 748.2,271 750.7,259 749.9,255 746.9,249 745.1,243 744.6,237 744.7,219 743.7,215 741.8,211 734,201 731.6,197 731.4,195 732.5,193 738,191 744,190.9 756,191.8 760,191.5 764,190.4 770,187.7 784,179.6 802,171.2 819.8,161 828,157.3ZM876,328.2 874,330.6 873.2,333 873.6,337 876,340.2 878,341.6 880,342 882,341.2 883.3,339 883.8,337 883.1,333 882,330.4 880,328.1 878,327.5ZM617.4,207 620,206.1 622,206.2 623.3,207 624.6,209 625.6,215 626,233 625.7,239 623.9,245 622,247.5 620,248.5 618,248.3 616,247.3 612,243 607.9,235 606.2,227 606.3,221 608,215.9 612,210.8ZM171.7,231 174,230.7 175.7,233 175.1,235 174,235.7 171.3,235 170.5,233ZM149.4,233 152,233 154.5,235 154.2,237 152,238.8 149.4,239 146.5,237 146.4,235 148,233.5ZM467.1,251 476,251.2 482,252.7 486.3,255 494,261.6 498,263.7 502,263.8 518,261.3 524,261.7 528.1,263 532,265.8 534.6,271 535.2,275 535,279 533.4,285 530,289.3 526,291.2 522,292.1 514,291.7 500,288.6 496,289.3 494,290.5 492,292.7 485.2,305 483,307 480,308.3 476,308.4 472,307.7 466,306 460,303.6 455.9,301 451.4,297 450,295 448.5,291 448.1,285 449.4,263 451.2,257 454,254.2 460,251.9ZM192.5,265 194,264.3 196,264.3 197.3,265 202,271.8 204,272.7 210,273.2 216,272.8 220,271.3 222.9,265 224,264.3 226,264.3 226.9,265 227.8,267 227.5,271 228.2,273 230.4,275 237.3,279 239.5,281 242.1,285 246.4,295 250,298 254,299.3 262,299.7 270,297.8 276,294.7 284,287.5 288,284.9 292,283.5 298,282.8 306,283.3 320,285.5 344,280.8 350,280.2 354,280.5 358,281.8 362,284.7 365.9,289 368,293 367.5,295 364.9,297 353.6,301 344,303.3 336,303.5 322,300.7 316,301.3 296,308.1 292,310.1 282,316.8 276.4,319 267.1,321 260,321.9 238,322.2 232,324.3 222,331 216,332.8 212,332.9 206,332.1 192,328.1 184,326.5 178,326 172,326.9 169.1,329 168.2,331 168.1,333 172.1,343 172.7,347 172.4,349 170.3,353 168,354.8 162,357.2 154,358.1 118,357.7 110.9,357 100,354.4 96,354.1 96,300.2 100,299.6 104,297.7 110,292.2 112,292 116,293.7 120,294.4 124,293.9 126.4,293 128,292.1 130,289.8 133.5,281 135,279 138,277 144,275.6 156,274.7 161.5,271 164,269.9 168,270.3 172,272.2 176,273.2 186,272.4 188.5,271ZM512.3,327 518,325.9 526,325.3 534,325.3 540,326.2 544,327.9 547.4,331 549.3,335 549.3,339 548,341.8 546,344.1 540,347.9 530,351.5 526,351.6 524,351.1 520,348.1 508.2,335 507.2,333 507.1,331 508.3,329Z"/>
<path fill="#ffa808" d="M182.1,149 188,148.3 192,148.6 194,149.9 194.5,151 194.1,153 192.6,155 189.9,157 186,158.7 182,159.4 179,159 176.2,157 175.5,155 175.8,153 178,150.6ZM240.2,155 250,154.3 258.4,155 264,157.3 270,162.5 280,173.8 282.2,177 284,181 285.5,187 286,193 285.7,197 284,202 282,204.7 276,210.1 271.5,215 269.1,217 264.9,219 258,220.2 238,220.5 234,221.1 231.2,223 228.8,229 226,230.4 223.1,229 220.3,223 218,221.6 214,221 208,221.3 203.1,223 200.7,229 200,229.4 198.7,229 197.7,227 197.2,223 194.7,221 187,217 185.7,215 185.6,213 187.1,209 191.3,203 197.5,197 202,194.2 214,188.2 223.9,181 225.7,179 227.1,175 226.8,165 227.7,161 229.2,159 232.4,157ZM832.2,163 836,161.8 840,161.3 844,162 848,163.5 864.1,173 866.5,175 867.8,177 867.9,179 865.4,183 855.1,193 852.1,197 851,201 851.8,213 849.9,217 835.4,231 831.5,237 830.6,241 830.1,255 826.4,267 825,275 824.7,283 825.8,291 827.7,295 829.5,297 834,299.7 840,301.3 854.6,303 858,304.2 862,307.3 864.8,311 866.4,315 866.3,319 864.2,327 863.7,331 864.7,337 867.1,341 872,346.3 878,350.9 882,352.6 886,352.8 888,352 890,349.5 890.7,347 891.1,341 890.6,335 887.3,321 886.8,317 887.9,313 894,301.9 895.8,291 897.1,287 899.7,283 904,279.7 908,277.9 916,276 920,273.9 922.3,271 927.6,259 931.3,255 936,251.7 942,249.6 948,249.3 972,251.1 982,249.8 992,246.7 996,244.8 1000,242 1013.7,227 1022,219.8 1046,204.3 1050,202.4 1054,201.7 1054,350.5 1050,351.2 1046,353.6 1030.5,369 1025.1,375 1021.5,381 1018.3,389 1016,397 1015.8,401 1016.3,405 1018,408.6 1020,409.8 1022,409.7 1038,400 1048,390.8 1050,389.7 1054,388.9 1054,725 96,725 96,482.4 100,483.6 108.7,489 126,496.3 144,509.8 156.7,517 176,523.7 190,529.5 218,539.8 234,544 244,544.8 262,543.1 272,542.8 296,544.6 302,544.2 310,541.2 324,533.4 342,527.4 358,520 362,519.4 368,520.5 390,527.4 415.4,533 420,535.2 423.7,539 425.4,543 426.1,547 426,551 425,555 417.2,565 415.2,569 414.1,573 413.9,577 414.5,581 416,585.6 418,589.3 420,592 424,595.5 432,600.3 440,604.2 446,605.8 452,606.5 458,606 462,604.7 466,601.8 468,599.6 470.8,595 472.4,591 473.4,587 474.1,581 472.6,563 474,558.1 477.1,555 480,553.8 484,553.3 488,553.9 490,555.4 491.1,559 491.3,577 492.9,581 496,584.3 498,585.1 500,585.2 502,584.7 506,582.2 511,577 513.8,571 514.5,567 514.3,563 512.1,557 508,553.2 499.4,549 497.3,547 496.6,545 496.7,539 501.5,525 502.1,519 501,515 494.8,505 492.9,501 491.8,497 491.3,491 492.7,481 494.3,477 496.9,473 508,462.2 518,450 532,439 540,428.3 542,426.5 546,424.7 562,421.8 568,418.6 570,416.1 570.8,413 568.7,403 568.8,399 570,396.7 574,393.7 580,391.7 594.2,389 606,384.7 612,383.4 616,383.6 620,384.7 632,390.6 636,391.6 640,391.5 644,390.4 650,387.7 656,384.4 660.8,381 664,377.6 666,374.5 674.6,357 675.6,351 676.6,335 678,330.6 680,327.7 682,326.8 684,326.9 694,331.2 700,332.1 704,331.1 707.5,329 710,326.7 712.7,323 715.2,317 715.4,313 714.3,307 710.9,299 710.1,295 711.5,291 714,288 716,286.5 720,285.5 734,290.6 742,292 748,291.7 750.1,291 752.4,289 754,285.4 756.4,275 758.1,271 762.7,263 764.4,257 763.2,251 755.5,239 753.9,233 753.9,225 754.9,215 756,210.5 758,207 762.8,203 786.8,187 794,183.4 810,177.6 824.7,167ZM440,628.2 437,631 435.2,635 435.1,639 436,642.6 438,646 441.8,649 444,649.6 447.7,649 450.1,647 451.7,643 451.9,639 451,635 448.8,631 446,628.5 442,627.6ZM616,406.3 611.3,409 609.7,411 608.3,415 608.3,417 610,420.4 612,421.8 616,422.6 620,421.7 623.6,419 624.8,417 625.5,413 624.1,409 622,407 620,406.2ZM124.7,167 130,165.4 134,165.6 138,167.5 140,169.2 146,177.2 151.3,187 152.6,191 152.7,193 151.7,195 148,196.4 144,197.2 136,196.2 134,196.7 126,200.6 108,204.2 104,205.9 98,209.9 96,210.5 96,167.6 100,168.5 106,171.2 110,171.7 116,170.6ZM96,227 96,226 98,227.4 99,229 100,231 100.7,235 100,237.2 98,238.8 96,239.3ZM317.2,245 320,244.8 322,245.5 324.3,247 328,251 329.6,255 329.1,257 327.1,259 322,261.3 314,262.5 278,262.5 269.5,261 266.8,259 266,257 266.7,255 270,251.6 276,247.5 280,245.7 284,246.1 294,249.8 300,250.3 306,249.1ZM193.7,267 196.2,267 196.7,269 196.5,273 200,275.4 206,276.3 222,276.4 226,277.9 230,280.7 232.1,283 233.2,285 233.9,289 233.3,293 231.2,297 226,301.2 218,303.9 190,304.5 170,306.6 162,306.6 158,305.9 154,303.2 149.6,297 142,290.1 139.9,287 139.3,283 140.6,281 144,279.9 154,279.9 158,279.2 160,277.9 164,273 166.9,273 172,276.1 174,276.6 184,276.2 190,275 193.2,273 193.1,269ZM515.1,271 520,270.6 522,271.5 524,273.3 525.1,277 524,280 522,281.9 520,282.7 516,282.5 512.6,281 510.4,279 509.7,277 510,275 511.6,273ZM336,291 340,289.6 346,289.3 351.2,291 352.5,293 351.6,295 348.6,297 344,298.4 340,298.8 334,297 332.6,295 333.4,293ZM293.6,293 298,291.7 302,291.8 305.1,293 306.8,295 306.3,297 303.8,299 300,300.5 292,301.8 288,301.3 287.6,301 287.8,299 288.9,297 290.7,295ZM110.6,303 116,302.3 121.5,303 132,307.1 144,310.2 148,312.6 149.6,317 149.1,329 149.6,333 151.4,337 156.3,343 157.8,347 157.8,349 157.1,351 156,352.1 154,353 150,353.4 120,353.2 110.4,351 100,346.8 96,346.3 96,308.9 100,308.3ZM273.4,305 280,304.5 282,304.9 282.3,307 280.2,311 278.3,313 274,315.3 266,317.4 258,317.8 253.8,317 252,316 250.4,315 249.6,313 250.4,311 252,309.6 256,307.8Z"/>
<path fill="#ff7808" d="M249.3,161 256.5,161 260,162.4 263.3,165 273.2,177 274.7,181 274,185.3 272,187.1 270,187.6 264,186.7 258,184.1 252,179.3 246.9,173 244,167 244.1,165 245.2,163ZM836.7,171 840,170.5 844,171.5 848,174.1 850.1,177 850.2,179 847.6,183 844,185.8 840,187.3 836.1,187 834,186.1 830.4,183 829.3,181 829,179 829.5,177 830.7,175 832.9,173ZM105.4,183 120,181.9 128,182.3 130.8,183 134,185 135.1,187 135,189 131,193 124.7,197 96,201.9 96,183.9ZM798.6,191 802,190.7 806,191.8 808,193.2 809.2,195 809.6,197 808.6,201 806,204 793.7,211 792.2,213 791.3,217 792.2,221 794,223.9 797.5,227 807.1,233 808.9,235 810.7,239 811.2,245 810.5,259 812.3,277 809.7,297 810.7,303 812,305 816,307.3 840,311.1 845.9,313 849.1,315 850.8,317 851.6,319 851.9,323 851.3,331 852.2,335 855.4,339 874.6,357 881.4,365 885,371 886.5,375 888.4,387 890,389.6 892,390.9 894,391.2 898,390.4 900,389.1 902,386.8 904.9,381 906.2,375 906.4,367 905.3,359 898,340.9 895.5,325 895.4,321 896.1,317 900.5,309 902,305 902.1,301 900.7,293 901.1,289 902,286.7 905.7,283 908,282.1 912,281.6 922,282.3 926,280.4 928.4,277 931.2,267 933,263 936,259.4 940,257.1 946,256 954,255.9 968,257.9 972,258 998,252.7 1004,250.6 1008.5,247 1014.7,237 1020.1,231 1033,223 1040.5,217 1043.9,215 1054,212.1 1054,345.7 1048,346.9 1044,349.2 1019,373 1014.6,379 1011.5,385 1007.3,395 1006.7,399 1008.1,407 1010.7,413 1014.5,417 1018,418.5 1020,418.5 1024,417 1040,403.7 1048,394.6 1050.3,393 1054,392.1 1054,725 96,725 96,486.1 100,487.1 107.3,491 121.7,497 126,499.9 139.9,511 148,516 156,520 216,541.6 234,546.1 244,546.9 272,545.1 280,545.4 298,547.6 304,547.1 312,544.3 322,538.5 329.6,535 344,530.1 358,524.1 362,523.4 368,524.3 388,529.7 406,533.8 414,536.8 416.7,539 418,541 418.9,545 418.8,549 417.8,553 411.3,565 410.1,571 410.2,579 411.4,585 414,592.2 420,603.4 426.7,613 428.3,617 428.1,621 426.1,631 425.5,637 426.1,643 427.5,649 430,654.8 432.5,659 436,663.2 440,666.2 444,667.7 450,668.4 456,668 460,666.7 465,663 471.9,653 474,650.8 478,648.2 484.7,645 488,642.4 495.7,631 500,627.3 504,625.5 508,624.5 524,622.2 527.8,621 530,619.3 530.8,617 530.2,615 528.6,613 518,604.7 514.1,601 512.6,597 513.7,593 518,587.3 522,584.5 526,583.2 540,582.3 545.5,581 548.9,579 550.4,577 551,575 550,571.5 547.9,569 544,566.7 534.6,563 531.6,561 528.6,557 526,550.9 523.3,547 520.5,545 510,540.2 507.2,537 506.6,533 507.3,523 506.6,517 503.8,511 496.6,501 494.7,495 494.5,491 495.2,485 496.4,481 498.4,477 502,473 510,465.8 518,456.5 522,452.9 536.6,445 550,436.2 556,433.4 562,431.6 576,428.2 582,428 584,428.8 586,430.5 588.3,435 588.9,439 589.2,453 592.7,465 593.6,471 593.6,475 592.8,479 587,493 586.1,497 586.3,499 588,501.9 592,503.2 598,502.5 601.3,501 603.8,499 606.4,495 611.3,481 613.7,477 620,468.7 621.8,465 622.9,461 623,457 622,452.9 620,449.4 614.7,443 613.6,441 613.1,439 613.4,437 614.6,435 617,433 626,427.5 630.9,423 633.6,419 638,408.7 640.9,405 651,397 666,388.3 669.9,385 678,370.5 686.7,359 690,350.5 692,347.3 696,345.1 706,341.8 712,337.4 717.6,331 733.4,309 738,306.5 752,304.8 758,303.1 761.4,301 764,297.8 765.7,293 767,279 772.7,267 774.3,259 774.2,253 773.2,247 771.9,243 767,233 766,229 766,223 767,219 769.1,215 772,211.7 783.3,203 790.8,195 794,192.8ZM938,427.6 936,429.1 934,431.6 932.3,435 931.9,437 932.2,439 933.9,443 936,445.8 938,447.3 940,447.2 941.3,445 942,443 942.6,437 942,431.3 941,429 940,427.6ZM962,392.8 960,394 958,396.1 957,399 957.2,401 957.9,403 959.7,405 963.2,407 973.8,411 978,411.7 982,410.6 984.1,409 986.7,405 987.7,401 987.3,399 985.9,397 983,395 978,393.2 972,392.1 966,392ZM476,688.4 471.8,691 468,696 466,703 466,709 467.7,713 470.1,715 474,716.3 480,716.4 484.1,715 486.4,713 487.7,711 489.3,705 489.5,699 487.7,693 484.1,689 480,687.7ZM778,604 775.9,607 775.5,613 776,615.1 777.6,617 780,617.6 782,616.1 782.5,615 782.9,609 781.3,605 780,603.7ZM212.9,195 218,193.7 222,193.4 226,194.4 229.9,197 233.1,201 234.8,205 235.1,209 233.4,213 231.1,215 227.2,217 222,218 202,218.1 198,217.3 194.4,215 193.3,213 193.9,209 197.9,203 202.9,199Z"/>
<path fill="#ff4000" d="M1053.8,287 1054,340.1 1048,340.6 1044,341.7 1040,343.4 1036,346 1024,359 1010.8,369 1007.8,373 1002,383.2 998,387.1 996,387.9 992,388.4 966,386.3 960,387.2 956,389.1 953.9,391 951.1,395 947.9,405 946,408.7 940,413.1 936,417 926.3,431 924.5,435 924.2,437 924.5,439 926.2,443 934,455.1 938,458.7 940,459.1 942,458.6 944,457.2 945.5,455 946.9,451 949.4,423 951.2,417 954,414.5 958,413.7 962,414.2 976,419 980,419.5 986,418.1 996,412 998,411.5 1000,412 1002,413.4 1007.6,419 1012,421.9 1018,423.8 1022,423.4 1028,420 1035.1,413 1042,407.2 1050,397.3 1054,395.8 1054,725 512.7,725 513.5,723 515.1,721 520,716.2 521.7,713 522.8,707 522.8,701 522,695 520,689.5 514.5,681 512.5,677 511.8,673 511.4,659 507.4,645 507.5,641 508.1,639 509.4,637 511.8,635 516,633.2 522,632.1 534,631.5 538,630.3 540,628.9 542.8,625 544.3,619 543.1,613 540,608.5 531.9,601 530.6,599 530.2,597 531.1,595 534.1,593 538,591.9 552,590.9 558,589.2 562,585.9 568,577.3 571.7,573 576,570.1 584,566 587,563 588.9,559 590.1,551 590.1,541 588.4,527 589.2,521 591.4,517 593.6,515 597,513 608,508.4 610,506.9 613,503 618.3,489 625.6,475 627.9,469 629.2,463 629.7,457 628.1,441 629.6,437 634,433 640,428.5 644,427 658,428.5 663.6,427 665.9,425 667.1,423 670,414.7 672,410.8 674,408.9 676,408 680,407.7 683.6,409 686,410.9 692.6,421 696,424.5 705.3,429 707.3,431 710.5,443 712.6,447 716,449.2 720,449.1 722,448.3 726,445.1 728.8,441 730,437 729.8,435 728.8,433 726,430.4 713.5,425 712.2,423 711.8,421 711.9,417 713.2,413 716,409 726.6,401 736,389.2 738,387.9 742,386.6 758,386.7 764,385.2 766,383.7 768,381.2 773.4,371 776,368.5 778,367.4 784,366.8 796,369 800,369.2 804,368.4 806.5,367 808.4,365 809.7,361 809.2,357 808.2,355 804.8,351 795.2,343 791.8,337 791,333 791.3,329 792.8,327 798,325.9 814,325.4 820,326.1 822.8,327 825.7,329 827.3,331 832.1,341 836,345.4 838.8,347 842,348 854,349.8 858,351.3 860.7,353 866.4,359 868.5,363 870.6,369 871.5,377 869.9,387 869.8,391 870.6,395 871.7,397 873.5,399 876.3,401 882,402.7 890,402.5 898,400.7 904,397.6 908.7,393 912.2,387 914.9,379 915.6,369 914.4,357 912.3,349 906,335.9 905,329 906,323.3 908,319.4 920,305.8 922,304.4 926,303.8 948,306.7 970,304.5 988,306.6 1012,306.2 1030,308 1036,307.9 1040,306.7 1042,305.2 1044,302.1 1048.1,291 1050,288.5ZM742,545 736,545.6 732,546.6 730,547.9 728,551 727.3,557 728,563.9 730,568.7 732,570.2 734,570.8 738,570.1 741.5,567 744,562.5 746.1,555 747,547 746,545.1ZM756,526.9 752.4,531 749.4,537 748.3,543 750,544.1 756,543.6 760,542.5 764,540 766,537 766.4,533 765.9,531 764,527.7 762,526 760,525.4 758,525.7ZM776,596.7 773.4,599 771.4,603 770.5,607 770.4,613 771.3,617 773.7,621 776.3,623 780,623.9 782,623.3 784,621.8 786.1,619 787.6,613 787.3,607 785.6,601 782.5,597 780,595.9 778,595.9ZM779.4,289 782,287.7 786,288 790,290.7 792.1,295 792.5,299 792,305 789.3,321 788,324.1 776,329.7 772,333.2 764,343.2 762,345 758,347.2 752,348.5 744,348.6 738,347.5 733.4,345 731.3,343 729.7,339 729.9,337 731.9,333 735.7,329 750.4,317 764,310 767.9,307 771.2,303 776.1,293ZM553.5,449 560,447.4 562,447.5 565.3,449 579,465 582.7,471 583.7,475 583,481 578,493.8 573.2,509 570,514.8 566,519.6 562,523.2 556,526.8 548,529.4 536,531.7 526,532.5 520,531.8 516,529.1 514.6,527 509.2,511 506.6,507 501.2,501 499,497 498.1,491 499.9,483 504,477.1 512,470.1 520,461.5 524,458.3 532,454.8ZM96,491 96,490.2 100,490.9 119.1,499 136,512.6 146,518.5 154,522.4 186,534.1 212,542.8 224,546.2 234,548.2 244,549 274,547.4 282,548 298,550.8 306,550.5 314,547.9 326.9,541 335.5,537 356.8,529 362,527.9 370,528.6 389.1,533 403.2,537 407.3,539 409.6,541 411.3,545 411.3,547 410.2,551 406.3,559 405.4,565 406.4,579 410.8,601 411.4,611 410.7,615 408.8,619 400,627 398,630.6 396.8,635 396.3,641 396.7,657 396.3,667 393.8,685 388.1,709 387.9,715 388.7,725 96,725ZM342,612.9 340,613 338,613.8 334.5,617 332.7,621 332,629 332.4,635 334.3,641 336,643.8 338,645.7 340,646.7 342,646.9 344,646.1 346,643 346.8,639 347.1,631 346.8,623 346,617.3 344,613.8ZM360,571.8 358,573 356.5,575 355.3,579 355.6,583 356.4,585 358,586.7 360,587 362,586 364.4,583 366.2,579 366.9,575 366.4,573 364,571.6ZM439.7,687 442,686.9 446,687.9 450,690.8 451.9,695 452.3,699 451.5,705 449.3,711 446,714.2 444,715.1 440,715.8 435.7,715 432,712.5 429.4,707 428.9,701 429.9,695 432,691.3 436,688.1Z"/>
<path fill="#fc1008" d="M953.2,365 968,363.4 976,363.7 982,364.7 986,366.3 989.5,369 990.8,371 991.4,373 991.2,375 990.1,377 988,378.6 984,380.1 978,380.7 960,380.7 954,382.4 950.1,385 946.9,389 942,399.4 933.9,409 926.8,421 918.3,433 917,437 918,441 926,452.1 932,462 936,465.4 940,466.2 944,464.9 948,461.6 949.9,459 951.9,453 952.8,437 954,429.9 956,425 958,422.8 960,421.7 964,421.4 976,425.1 982,425.9 986,425.3 994,422.8 998,422.1 1002,423 1008,426 1014,428 1018,428.6 1022,428.3 1026,427.1 1030,424.6 1038,416.5 1046,410.1 1052,402.8 1054,402 1054,725 525.3,725 527.6,715 528.1,709 527.6,695 525.3,677 525.4,673 526.6,667 530,656.3 532.8,651 534.8,649 546,641.2 551.1,635 553,629 554.8,613 556.4,609 558.2,607 567,601 576,589.6 580,586.6 582,586 586,585.9 598,588.2 602,587.9 604.2,587 606,585.6 608,583 611.6,575 614,571.5 616.7,569 626,562.6 628,560.5 629.9,557 631,551 630.4,535 630.8,519 628.3,503 628.2,497 634.1,477 637.3,453 638,450.5 640.1,447 644,444.6 648,444 652,444.2 666,446.7 682,448.2 686,449.6 689.2,453 690.3,457 690.4,461 688.8,481 688,484.7 686,486.1 678,487.9 674,489.8 672,491.4 670,494.1 668.3,499 667.8,507 668.6,515 671,521 674,524.1 678,525.8 680,526 684,525.3 688.3,523 691.3,519 692.3,513 690.2,497 690,491 690.4,489 692,487.6 694,487.2 704,487.2 708,488.6 712.6,497 716,500.1 720,502.1 736,506.1 748,508.2 748.8,509 747.7,515 746.3,519 743.2,525 740,529 738,530.5 734,531.9 720,532.6 716,533.4 712.4,535 710.3,537 708.8,541 708.8,545 711.9,559 712.1,565 709.7,579 708,582.6 706,584.5 702,586.1 694,587.3 688,587.7 682,586.9 678,585 676,583.3 668,571.9 666,570 662,568.1 658,568.2 655.8,569 652,571.8 649.8,575 648.4,579 648,583 648.9,593 651.1,599 653.9,603 656,605 660,607.3 666,608.8 688,611.4 696.7,611 700,609.7 704,606.5 708.2,601 712.4,593 714,590.9 716,589.4 736,583 740,581.2 744,578.3 748.2,573 754,559.7 756,556.3 759.4,553 770,546.4 772,544.5 774.3,541 775.6,537 775.8,531 774.2,523 772,517.6 768.5,513 764,510.3 760,509.2 750,508 749,507 749,497 748.1,493 746,489 742,486.3 738,485.3 720,485.1 714,484.1 712,481.8 711.7,477 713.5,471 716.3,467 730,457 738,449.7 742,446.8 748,445.4 760,446.6 764,446.4 767.9,445 769.8,443 770.7,441 771.3,437 769.7,421 770.6,415 771.7,413 774,410.7 784,405.5 787.1,403 789.5,399 792,391.7 794,388.5 798,385.9 802,385.1 808,385.1 814,386.1 820,388.4 830.1,397 837.2,401 854,405.1 868,411.2 874,412.1 880,411.9 896,408 902,405.7 908,402.4 912.7,399 916.5,395 920.5,389 928,375.4 932,370.7 938,368ZM596,694.8 594,697.1 592.6,701 592.5,705 593.1,707 594.1,709 596.2,711 600,712.1 602,711.6 604,710.3 606.3,707 607.3,703 606.9,699 606.1,697 604.5,695 602,693.5 600,693.1ZM622,624.4 620,625 616,627.6 611.4,633 610.7,635 611,637 613.1,639 618,640.4 624,639.9 626.8,639 630,637.1 632,635 632.8,631 632.2,629 630.8,627 628,625.1 626,624.4ZM778,590.7 774,591.8 772.1,593 768.7,597 767.2,601 766.5,605 766.2,613 767.6,619 770,623.3 774,627.1 778,628.7 780,628.8 784,627.6 786,626 788.4,623 790.6,617 791.1,609 789.9,601 787.1,595 785.1,593 782,591.2ZM532.4,463 540,461.6 550,461.2 556,461.6 562,463.4 567.9,467 572.1,471 574.6,475 575.1,477 575.1,481 573.1,489 569.6,499 566,505.7 562,510.2 556,514.3 541.5,521 534,523.3 526,524.1 522,523.1 519.5,521 517.4,517 513.2,505 505.8,497 504,493.2 503.9,491 506,485.1 509.6,481 524,467.2 528,464.7ZM96,495 98,494.9 102,495.7 114,500.3 118.2,503 126.8,511 132,514.9 143.4,521 152.2,525 188,538.2 214,546 234,550.3 244,551.2 268,549.8 278,550 286,551.3 302,555.3 308,555.4 314,554.2 320,551.8 340,541.3 355.5,535 360,533.6 364,533 370,533.3 382,535.1 388.5,537 393,539 395.6,541 396.6,543 396.6,545 395.8,547 393.8,549 388,552.2 378,555.2 376,556.4 370,562 368,563.1 358,565.2 354.5,567 352.2,569 349.2,573 347.3,577 344.8,587 343.6,597 341.9,601 338,604.7 327.8,611 325.3,615 324.3,619 323.7,627 324,641 324.8,649 326,653 328,656.2 330,658.2 341.1,667 344.3,671 346.5,675 348.5,683 349.4,701 351.3,707 354.9,711 364,716.1 367.8,719 370,721.8 371.1,725 171,725 171.9,723 174.1,721 178,719.4 187.1,717 190.1,715 191.4,713 192.6,709 193.1,703 192.7,699 192,697 190.4,695 188,693.7 173.4,691 160,686.6 156,687.3 148,690.2 134,694.1 130,696.9 128.9,699 128.1,703 128.2,707 130.1,713 131.8,715 134,716.4 145,721 147.2,723 148.1,725 96,725 96,647.8 100,646.4 102,644.6 104.9,641 106.2,637 104.8,633 102,629.4 99.3,627 96,625.7ZM196,612.4 191.7,615 189.4,619 189.7,623 192,626.7 196,629 200,629.8 206,629.1 209.7,627 211.2,625 212.2,621 212,619 210,615.6 206.3,613 204,612.2 200,611.6ZM314,568.6 310.1,571 308.4,573 307.5,575 307.6,579 310,582.6 314,585.5 318,586.9 322,586.4 324.1,585 326.2,581 326.3,577 325,573 322,569.6 320,568.5 318,568.1ZM387.5,569 392,567.6 396,567.6 398,568.7 400,571.4 402,579 403.4,597 402.8,601 401.1,605 398,609 392,614.2 390,618.3 389.5,627 390.6,655 389.6,665 387.6,673 384,680.9 382,683.4 380,684.9 378,685.4 374,684.1 372,682.3 369.8,679 368.1,675 364.1,657 358.1,643 356.2,637 355.2,629 355.3,619 356.3,613 358,608.8 361.5,605 368,600.3 370.6,597 372.1,593 374.8,581 376.4,577 380,572.8Z"/>
<path fill="#dc0000" d="M918.7,405 922,404.7 924,407 924.2,411 923.4,415 920,421.1 912.2,429 909,433 907.3,437 907.3,441 909.2,445 918,451.4 921.4,455 923.6,459 926.5,467 928,469.7 930,471.7 934,473.2 938,473.4 944,471.8 950,467.9 954.1,463 956.1,459 957.1,455 958,436.5 960,431.8 962,430 964,429.3 968,429.5 982,433 988,432.9 1000,431.4 1012,433.5 1020,434.1 1026,433.4 1032,431.3 1035.4,429 1042,423 1044,422.5 1046,423 1050,426.2 1054,427.6 1054,725 534.7,725 533.1,713 532.5,699 532.9,687 534.3,679 536.7,673 542,665 550,656.3 558,650 562,648.2 568,647.4 592,649.1 618,647.6 628,646.2 636,644 646.2,639 658,628.4 662,625.9 666,624.1 672,622.5 678,621.8 698,621.7 702,620.8 706,619.1 712,614.9 730.9,597 746.6,587 751.4,583 754.3,579 759.1,567 762,562.1 766,558.6 776.2,553 778.6,551 781.3,547 783.3,541 785.6,527 788.2,517 787.9,513 783.8,503 781.4,493 780,490.7 773.4,485 770.8,481 770.2,477 771.2,473 774.4,469 785,463 788.4,459 789.8,453 789,437 790.3,433 791.9,431 794,429.6 802,426.2 806.6,423 809.5,419 813,411 816,407.5 818,406.7 822,406.7 840,411.7 846.7,415 849.2,417 854.6,423 858,425.7 864,427.8 870,428.1 874,427.5 878,426.3 892.2,417ZM596,684.4 590.3,689 585.8,695 583.7,701 583.7,707 585.1,711 586.4,713 590,716.2 596,719 602,719.4 608,716.9 612.3,713 615.1,707 615.8,703 615.7,699 613.6,693 610.7,689 608,686.5 602,683.4 600,683.2ZM772,586.6 767.3,589 765.4,591 763.4,595 762.5,599 761.6,607 762.3,617 763.5,621 765.6,625 770,630.2 776,633.4 780,634 782,633.8 786,632.2 788,630.8 791.1,627 792.9,623 793.9,619 794.5,613 794.2,605 793.4,599 791.1,593 788,589.2 786,587.8 780,585.8 776,585.8ZM784,712.5 782.4,715 782.4,717 783.5,719 786,720.4 788,720.3 790,719.2 791.2,717 791.2,715 790.1,713 788,711.8 786,711.7ZM541.2,471 548,470.4 554,470.7 558,471.5 561.3,473 564,475.2 566.3,479 566.8,483 566.4,487 565,493 563.4,497 560.6,501 558,503.2 554,505.3 548,507.1 540,508.8 535.3,509 534,508.7 532,507 531.3,495 529.4,481 530.7,477 532.4,475 536,472.7ZM96,503 96,501.1 102,501.4 108,503 114,506.9 123,515 130,519.3 148,527 164.6,533 182,540.4 188,542.3 214,548.7 238,553.2 248,553.5 270,552.4 280,552.9 288.2,555 292.7,557 295.5,559 297.1,561 298,565 295.9,577 297,583 300.9,589 311,599 313.1,603 313.5,607 313.3,617 316,635 315.1,653 315.9,659 318.7,665 322,668.9 328.4,675 330,677.2 331.6,681 332.1,685 331.5,691 327.7,705 326.8,711 326.8,715 328.4,725 205.3,725 203.2,715 202.9,709 204.3,699 207.4,689 214.2,673 216,670.6 228.6,661 231.6,657 232.8,653 232.6,647 229.5,633 228.5,619 226.8,613 223.6,609 220,606.6 212,603.6 204,602.2 198,601.9 192,602.4 178,605.1 172,605.7 152,604.3 144,604.3 138,605.7 134,608.5 128,620.3 124,624.2 122,625.1 118,625.6 114,624.5 110,622.3 106,618 102,609.6 100,607.1 96,605.6ZM710.2,513 712,511.9 716,511.1 722,511.8 725.6,513 728.8,515 730.3,517 730.3,519 728.8,521 724.2,523 720,523.4 716,523 712,521.4 709.5,519 708.9,517 709,515ZM360.1,543 364,541.9 366,541.9 370,543 372.8,545 373.4,547 373,549 371,553 368.1,557 364,559.2 354,560 342,569.4 340,569.9 338,569.2 335,565 333.9,561 334.4,557 335.7,555 338,552.8 342,550.7 352,548.4ZM599.9,605 604,605.8 608,607.9 610.5,611 610.9,615 608.9,619 606,622.1 602,625 598,626.1 594.8,625 592,622.2 589.9,617 589.9,613 591.3,609 593.1,607 596,605.5ZM368,625 370,624 372,623.8 376,624.9 378,626.3 380.3,629 382.9,635 384.2,643 384.2,655 382.8,661 382,662.8 380,665 377.8,665 376,663.5 374,660.1 366.1,639 365.3,635 365.3,631 366,628ZM189.5,645 198,644.3 201.1,645 204,646.5 206,648.5 207.5,651 208.6,655 208.7,659 207.2,663 205.3,665 196,671 188,679.2 185,681 182,681.9 180,682 176,680.9 172,678.3 164,671.2 160,669.9 158,670.2 154,672.2 146.5,679 143.2,681 138,682.2 134,681.6 129.5,679 122,670.4 111.8,663 109.8,661 108.7,659 108.6,657 109.4,655 112,651.9 116.4,649 122,647.2 140,647.3 158,646.1 176,647.5 182,646.9Z"/>
<path fill="#a80000" d="M843.3,447 850,446.3 872,445.7 878,446.2 882,447.7 885.5,451 890.1,459 893.4,463 898,465.8 906,468.6 908,470.3 912,480.8 914,483.8 918,486.7 922,487.7 926,487.7 932,486.5 942,482.6 952,476 962,466.7 966,464.3 970,464.3 980,467.6 986,468.4 1006,467.1 1016,467.5 1022,469.1 1025.3,471 1027.4,473 1029.7,477 1030.7,483 1029.6,529 1030.4,537 1032,540.7 1033.8,543 1038,545.9 1044,547.3 1054,547 1054,725 889.9,725 888.5,711 890.6,691 890.7,683 889.8,677 887.9,673 884,669.2 878,667 848,666.5 841.8,667 836,669.5 832.5,673 825.8,683 822,686.4 815.3,691 811.4,695 808.7,701 807.5,709 807.7,715 809.8,725 790.5,725 793.7,723 795.4,721 796.8,717 796.8,715 795.2,711 793.4,709 790,707 786,706.3 782,707.3 779.7,709 778.1,711 776.7,715 777.1,719 778.1,721 780,723.3 782.8,725 612,725 613.1,723 619.4,717 622.7,713 625.4,707 626.7,699 625.4,693 623,689 609.9,675 606.5,669 606.2,665 607.4,661 608.8,659 612,656.6 615.5,655 620,653.9 644,651.1 656,648 662,644.7 672.1,635 676,632.7 680,631.4 686,630.9 702,630.9 708,629.8 718,626.9 722,626.4 734,627.8 738,627.6 742,626.6 750,622.3 752,621.9 754,622.3 756,623.6 766,635.5 770,638.5 776,641.4 780,642.1 786,640.8 790,638.6 793.6,635 795.8,631 797,627 798.5,615 797.9,599 797,593 795.7,589 793.1,585 788,581.9 782,580.3 773.5,579 770,577.5 768.4,575 768.5,573 770,569.7 772.5,567 776,564.9 784.6,561 787.5,559 789.3,557 791.1,553 793.4,539 795.6,533 798,529.5 805,523 807.9,519 809.2,515 809.5,511 807.9,497 808.2,491 809.7,481 812,474.4 816,469.7 826,462.4 835.2,451 838,448.9ZM96,513 96,511.1 100,511.3 104,512.4 113.8,519 120,522 159.1,535 176,543.5 184,546.2 240,556.3 250,556.7 272,555.7 278,556.1 282.2,557 286.1,559 288.1,561 289.3,565 288.8,569 286.3,577 285.7,581 286.1,585 289.8,597 289.1,601 285.6,605 282,607 278,608.1 268,608.7 260,607.7 256,605.7 253.2,603 251.1,599 248.6,591 246,587 242,584.9 236,584 210,585.2 204,586.4 192,590.3 180,592 144,592.3 116,591.5 96,592.5ZM296.2,629 300,628.5 302,629.4 305.3,633 306.7,637 307,643 305.9,655 306,661 307.5,669 311,679 311.9,685 309.7,709 309.9,715 311.2,725 214.7,725 212,711.2 212.7,703 216,693.6 220,686.8 223,683 228.7,677 242.6,665 245.8,661 250.5,653 254,649.1 256,648 260,647 274,647.5 280,646.2 284.1,643 292,632.1ZM562.9,665 570,663.8 578,664.6 583.9,667 586.3,669 587.7,671 588.4,673 587.7,677 583.8,683 572.4,697 570.5,701 569.8,705 570.2,709 572.6,713 584.1,721 586.4,723 587.7,725 547.7,725 547,723 542,717.5 540,714.5 538.3,709 537.6,701 538,694.5 540,687.7 544,681.6 554,671.3 558,667.7Z"/>
<path fill="#7c0000" d="M96,525 96,524.5 100,525.3 106,528.4 112,530.4 134.1,533 144,535.3 154.1,539 157.8,541 168,548.4 176,551.6 186,553.2 218,556.1 232.2,559 236.6,561 238,562.8 238.5,565 238.3,567 237.4,569 236,570.4 234,571.3 230,572 222,572.2 206,570.5 200,570.7 194.7,573 184,580.7 180,582.1 176,582.8 140,582.8 116,582.2 96,583.4 96,566.3 100,565.4 102,564.3 105.1,561 106.7,557 106,553 103.2,549 100,547 96,546.3Z"/></g>
<path fill="none" stroke="#f43c3c" stroke-width="1.6" stroke-dasharray="4,3" d="M800.9,73 798.4,77 791.2,83 789.7,85 789.2,87 789.6,89 790.9,91 792.9,93 796.1,95 800,96.2 802,96.2 804.8,95 820,81.9 824,81.3 832,82.2 836,81 838,78.1 838.6,73M959.6,73 959.4,77 960.9,81 964,84 968,85.1 972,84.3 977.2,81 980.4,77 980.8,73M216,244.9 214,245.5 212,248 210.7,251 211,253 214,253.1 218,251.7 222,251.3 234,253.6 238,253.7 240,252.8 241.7,251 242.4,249 241.7,247 238,245.2 232,245.7 228,244.8 216,244.9M134,256.5 132.7,257 131.3,259 133.4,261 136,260.7 138.5,259 138.4,257 136,256.3 134,256.5M104,266.1 102.6,267 101.1,269 100.8,271 101.6,273 104,274.6 106,274.8 108,274.1 110,272.4 110.8,271 111,269 109.9,267 108,265.9 106,265.6 104,266.1M278,340.6 273.7,343 269.9,347 267.5,351 267.3,353 268,354 270,355.1 284,357.5 288,358.9 291.7,361 295.5,365 300,373.9 302,376.8 307.6,383 315.2,393 318,394.7 320,395 324.4,393 326.2,391 327.4,387 326,382.9 324.2,381 321.1,379 310,374.6 304.9,371 300.8,365 295.8,351 292,345 290.1,343 286.8,341 284,340.3 278,340.6M96,397.3 98,396.7 106,392.2 110,392 114,393.4 130,403.2 136,405.3 140,405.7 144,405.2 148,403.9 162,396.4 166,395.4 170,395.3 180,396.6 186,396.9 208,395.4 218,394.3 220,394.4 228,397 234,396.6 238.6,395 240.9,393 242.3,391 244,384.4 254,380.4 258,377.1 260.2,371 260.3,361 259.3,359 256,358 244,358.4 239.8,359 234.1,361 227.3,365 225.2,367 223,371 222.7,373 223.6,375 226,375.8 235.6,377 238,377.9 240.1,379 241.9,381 242.6,383 238.3,385 224,389.8 222,389.7 220,387.9 217.5,381 216,379.4 212,378.6 194,378.4 166,379.6 152,376.5 140,375 126,376.6 112,380.5 106,380.5 96,379.2M96,431.5 97.9,429 98.2,427 97.7,423 96,419.5"/>
<path fill="none" stroke="#1a1af0" stroke-width="1.8" d="M747.5,73 748.1,75 749.6,77 756,81.5 760.5,89 764,92.2 772,95.3 780,99.9 786,102.6 798,107 804,108 808.9,107 818,102.7 822,101.7 842,102 846,101.5 850,100.1 854,96 856.1,91 856.4,87 854.9,73M930.9,73 930.1,77 926,83.3 924.4,87 924.9,91 926.2,93 928,94.4 936.5,97 938,98 942.4,103 946,104.7 950,104.6 958,102.7 970,103.5 974,104.8 980,109.1 984,110.2 988,109.5 1001.1,103 1005.7,99 1008.3,95 1009.4,91 1009,87 1004.2,77 1003.5,73M418,151 415.3,153 414.6,155 415.1,157 416.7,159 420,160.7 424,161.2 426,160.8 429.5,159 430.6,157 430.4,155 428,152.4 424,150.7 420,150.5 418,151M134,208.7 128.7,211 126,213.8 123.8,215 124,215.4 126,216.7 134.1,217 138,215.6 141.5,213 142,211.9 144.3,211 142,210.7 137.8,209 134,208.7M210,236.4 202,240.4 198,241 192,240.9 190,241.5 176,251.9 174,252.4 168,251 164,251.4 160.9,253 158.9,255 159.4,257 166,258.5 174,256.6 184,258 192,256.5 196,256.2 206,259.7 212,260 224,255.9 228,256.1 234,257.6 238,257.3 242,254.6 244.4,251 244.4,247 243.1,245 240,243.1 224,240 214,236.1 210,236.4M130,252.7 122,258.5 116,260.4 106,262 100,264.9 96.6,269 96.2,273 97.3,275 102,277.8 104,278.1 108,277.7 113.6,275 118,270.8 124,266.8 128,265.7 136.1,265 150,260.3 152.9,259 155,257 153.5,255 148.5,253 142,251.6 136,251 132,251.7 130,252.7M412,322.7 402,326 397.6,329 396.4,331 396,333 396.3,335 398,337.6 400,339 404,340.2 418,341.5 430,347.2 436,348.4 440,348.1 444,346.6 448,343.4 449.6,341 450,337 449.1,335 446,331.5 442,328.9 422,322 418,321.5 412,322.7M96,458.7 100,458 102,456.9 110,447.4 114,444.6 124.7,439 129.2,435 134,428.9 138,426.5 144,425.8 154,427.1 158,426.9 168,423.4 182,419.8 194,413.9 198,412.6 200,412.5 204,413.3 216,420.3 220,421 224,420.4 232,417 260,402 267.8,397 276,390.3 280,388.4 282,388.4 286,390.4 290.6,395 292,397.6 293,401 294,414.5 296,421 300,427.2 302,428.3 304,428.3 306,427.1 308,425 313.1,417 316,414.2 321,411 346,398.8 348.7,397 350.5,395 351.6,391 350.9,387 349.1,383 344.3,377 338,372.6 323.2,365 318,360.5 315.1,355 313.1,343 311.4,339 309.1,337 304.4,335 292.2,333 280,333.2 268,336.1 261.6,339 254,344.1 248,347.4 242,349.6 215.8,357 197.5,367 186,370.6 176,372.2 164,373 140,371.3 112,373.4 96,372.3M154,466.4 151.1,469 150.5,471 151.3,475 154.3,479 161,485 168,488.8 176,491 182,491.2 184,490.6 186.2,489 187.8,485 187.3,481 184.9,477 182.6,475 178,472.6 160,466.3 156,465.9 154,466.4"/>
<path fill="none" stroke="#f43c3c" stroke-width="1.6" d="M390.4,73 392,83 392.2,89 391.2,95 388,107 387.5,113 388.4,117 391.7,125 393.5,131 394.3,137 394.3,151 396.1,157 399.1,161 403.4,165 408,168.3 414,171.6 440,181.7 446,183 452,183.3 458,182.8 462,181.7 466,179.6 468.7,177 470.5,173 471,169 470.5,163 469.5,159 466,152.7 456,143.2 448,134.5 444,131.4 433.6,127 430.9,125 429.8,123 429.6,121 429.9,119 431.6,115 434.5,111 438,107.4 440,106.1 444,104.6 450,104.7 462,106.8 478,106.8 490,108.9 494,109 498,108.2 500,107 502,105 504.1,101 504.4,97 503.6,95 500.2,91 496,88.6 484,84.2 478.2,81 473.9,77 472.5,73M725.7,73 726,85 728,93 732,99.7 738,105.5 740,106.7 744,107.9 756,107.1 760,107.5 779.3,113 788.4,117 800,125.3 806,127.6 812,128.8 818,128.4 830,123.2 836,122.3 840,122.6 856,126.8 864,127.7 876,127.9 890,126.5 898,126.3 932,128.9 938,128.3 956,122.8 980,120.4 988,118.9 1000,114.2 1008.9,109 1019.5,101 1022.5,97 1023.8,93 1024.1,89 1023.4,85 1017.9,77 1016.7,73M264,88.5 260,89.9 255,93 246,101.9 242,104.4 238,105.5 226,107.1 220,109.3 218.2,111 217.2,113 217.4,117 218.4,119 222,122.4 226,124.8 237.9,131 242,132.3 246,132.7 258,131.9 274,133.1 278,132.7 282,130.9 284.2,129 287.1,125 288.9,121 290,117 289.6,109 287.2,101 282.3,93 278,89.6 272,88 264,88.5M604,104.7 598,108.2 587.1,119 578,127.1 572.5,133 570.1,137 569.5,139 569.9,143 572,145.7 576,147.7 582,148.7 594,148.5 601.3,147 604,145.4 606,143.3 611,135 614,131.6 618,128.8 628,124.3 631.9,121 632.6,119 632.7,117 631.4,113 628.6,109 626,106.9 622,105.1 616,104 610,103.8 604,104.7M296,152.5 294.8,155 296,159 298,161.2 300,162.2 302,161.5 302.5,159 301.6,155 300,152.8 298,151.9 296,152.5M314,174.3 312.7,175 312,177 313.9,181 315.9,183 320,184.9 322,184.8 323.9,183 324.2,181 323.7,179 322,176.6 318,174.4 314,174.3M132,207 122,210.2 120,211.3 118.2,213 117.2,215 116.9,217 118,219.5 120,221 124,221.6 136,219.4 142,216.7 148.3,215 151,213 152.2,211 152.2,209 150,207 148,206.3 140,206.8 136,206.4 132,207M96,283.8 102,283.3 116,280.3 120,278.3 126,273 130,270.7 142,267.1 160,263.2 166,262.8 182,263.6 186,262.4 192,259.6 194,259.3 198,259.8 206,264 210,264.5 214,263.9 222,259.2 226,258.6 230,259.9 236,263.4 238,263.4 240,262.2 245.6,255 246.8,253 247.8,249 246.9,245 245,243 242,241.2 234,238.2 224,236.8 216,232.6 212,231.7 210,232.2 204,235.8 200,237 196,236.7 190,235.2 188,235.5 186,236.5 180,242 176,244.2 164,246.5 158,248.2 152,248.5 138,246 132,246.2 128,248.2 124,252.6 122,254 118,254.9 110,254.2 100,258.3 96,259.3M476,350.7 474,351.1 472,352.4 471.2,355 473.2,361 476,365 478,366.7 480,367.3 484,366.1 488.7,363 492.2,359 492.2,357 490.7,355 487.4,353 482,351.1 476,350.7M96,466.2 100,466.5 104,468 112.2,477 116,479.5 120,481.1 134,483.9 140,485.8 145.7,489 160,499 182,506.5 186,508.7 197.6,517 202,518.7 208,519.9 220,520.5 226.1,519 228.9,517 236,509.2 244,502.8 252,492 254,490.5 258,489.6 260,489.9 264,491.7 267.9,495 269.3,497 270.3,499 271.1,503 270.6,515 271.2,517 272.7,519 278,522.1 286,524 292,524.1 298,522.9 302,521 314,512.5 318,511.4 330,511.2 336,510.1 340,508.7 352,502.1 358,500 364,499.3 380,501.3 384.2,501 388,499 394,491.4 398,487.7 400,486.5 404,485.6 408.1,487 410,489 411.3,493 410.6,499 408.5,503 405.2,507 404.5,509 406.5,511 412,511.9 420,511.9 429.3,511 438.8,509 443.1,507 446.7,503 448.9,497 451,485 450.7,481 448.9,477 446,473.8 436.1,465 433.7,461 432.7,457 433.2,453 434.2,451 436.2,449 448,441 451,437 451.5,433 450.7,431 448,428.2 444,426.5 438,426.5 433.1,429 430,432.6 426.4,441 423.5,445 416,451 406,460.4 402,462.8 398,463.5 384,462 378,462.1 372,463.6 364,467.4 360,468.5 356,467.8 346,463.8 342,463.4 334,465.5 322.1,471 318,474.4 315.6,479 313.3,495 312,499.7 310,502.6 306,504.3 302,504.3 298,503.1 292.3,499 288.9,493 286,481 284,477 280,473.9 272,471.9 262,471.4 256.4,473 252.8,475 242.8,483 234,488.4 228,491.2 222,492.3 216,491 212,488.5 208,484.2 206,480.8 202,471.3 200,468.7 194,465.1 180,459.9 175.7,457 174,455 172.2,451 171.6,447 172,443 174,438.3 178,434.9 180,434.2 184,433.9 188.5,435 194,438.8 199.7,445 202.8,449 208.7,459 212,461.2 218,461.7 222,460.3 225.1,457 226.3,453 227.4,441 229.9,437 232,435.4 240,431.9 254,429.7 258,427.9 266,422.7 270,421.3 274,421.1 278,422.2 282,425.3 286.4,431 296,447.1 300,450.7 302,451.2 306,450.2 318,442.7 324,440.9 328,440.9 332,441.7 346,447.5 352,448 358,446.9 364,443.9 374.4,435 402.2,421 407.7,417 409,415 410.2,411 410.4,397 411.4,393 412.7,391 415.4,389 424,386 429,383 431.8,379 435,369 437.3,365 439.3,363 445.2,359 464,349 465.4,347 465.6,345 465.1,341 463.4,337 458.6,331 454.1,327 447.8,323 434,316 424,312.1 416,311.7 400,314.8 394,315.3 374,314.3 364,314.6 356,316.4 350.2,319 347.7,321 346.8,323 348,324 352,325.5 370,327.6 376,329.3 380,332.3 386,341.1 390,345.1 394,347.3 408,352 412,354.6 414.1,357 415.4,361 414.6,367 410.9,375 406.8,381 404,383.3 400,385 392,387.1 386,388.1 382,387.6 380,386.7 370.7,379 352,369.1 340.4,361 336.1,357 333.8,353 333.1,347 334.5,339 338,327 337.3,325 333.7,323 322,320.7 316,320.7 308,321.7 292,325.9 272,329.7 260,332.9 254.5,335 242,341.6 236,344.1 204,352.9 188,362.3 182,364.7 176,366.3 168,367.6 160,368.1 138,367 112,368.1 96,366.7"/>
<path fill="none" stroke="#f43c3c" stroke-width="1.6" d="M267.6,73 267,75 265.5,77 262.7,79 252,85 238,93.9 230,97.7 216,101.5 212,103.4 210,105.6 208.9,109 209.5,115 211.3,119 214.4,123 220,128 230,134.6 236,137.5 244,139.1 260,139.1 268,139.6 276.4,141 282.2,143 284.2,145 287.2,155 290,160.5 300.6,173 307.2,183 310,186.3 316,191 331.5,199 336,200.3 340,200.4 343.1,199 344.4,197 344.5,195 343.6,193 336,186 329.9,177 326.2,173 315.6,167 312,164.2 309.9,161 306,149.6 304,145.9 300,142.3 293.4,139 292,137 292.2,133 295.7,121 296.6,115 296.2,107 294.4,95 294.8,89 295.7,87 297.8,85 304,81.7 307.5,79 308.8,77 309.7,73M370.8,73 370,78.7 367.7,85 367.7,91 376,119 384.1,135 385,141 385.2,153 387.2,159 390.5,163 395,167 414,181.3 436,190.5 442,191.9 452,192.4 464,192 472,191 476,190 486,185.9 500,182.7 504.4,181 507.5,179 509.5,177 511.3,173 511.7,167 510.3,153 510.2,139 509.1,123 509.7,119 514.3,105 514.7,101 514.1,97 512.1,93 508,88.4 503,85 489.8,79 487.2,77 485.8,75 485.3,73M630,73 629.7,77 628.8,81 626.6,85 624.6,87 622,88.5 618,89.5 602,88.1 598.2,89 596,90.2 592,94 580,107.9 568,119.8 553.4,133 550.5,139 549.5,145 549.4,151 550.4,159 552,162.5 554.2,165 558,167.1 564,168 592,166.1 618,169.3 622,168.9 626,167.3 627.9,165 628.7,163 631,153 634,149.1 639.1,147 652,145.1 654.6,143 655.6,139 657.8,121 656.6,115 651.4,103 651.3,97 653.7,91 656.9,87 660,84.7 666,82.6 672,82.1 676,82.4 678.6,83 682,84.7 685.7,89 690.3,99 694,103.3 696,104.5 700,105.8 712,106.3 718,107.6 724,111.5 738,123.9 742,126.3 748,127.2 760,126.3 764,126.9 766,127.9 768.7,131 771.3,141 773.1,145 774.8,147 778,148.7 780,148.9 784,148.2 794,144.4 800,142.8 820,140.5 824.9,139 838,133.2 844,132.3 854,132.9 864,134.9 869.5,137 882,143.4 892,147 898,148.4 902,147.8 910,144.4 916,143 922,142.6 934,142.9 940,142 962,131.4 990,123.6 998,120.6 1006,116.5 1022,105.9 1025.2,103 1028,99 1030.1,93 1030.8,85 1030.1,81 1027.3,75 1026.9,73M402,188.3 398,190.8 396.2,193 393.9,199 394.2,205 396,207.7 398,208.6 402,208.1 406,205.4 409.7,201 411.2,197 411.2,193 410,190.4 408.6,189 406,188 402,188.3M146,204.8 140,205.5 134,205.4 120,209.5 117.6,211 114.4,215 113.5,219 114.2,221 116,222.9 118,224.1 122,224.7 136,221.2 142,218.5 150,216 155.5,211 156.3,209 154.1,207 148.3,205 146,204.8M96,287.5 100,286.8 108,283.7 118,282.7 120,281.9 128,274.7 130.4,273 135.1,271 142,269.1 154,267.2 162,264.8 166,264.5 176,265.9 182,265.9 186,264.5 192,260.9 196,260.5 200,262.1 206,266 212,266.4 216,265 222,260.5 226,259.8 229.3,261 236,266.7 238,266.9 240,266.1 240.9,265 248.7,253 249.5,251 249.7,247 249.2,245 247.7,243 244.6,241 236,236.9 234,236.1 224,235.5 220,233.5 216,230.7 212,229.7 210,230.2 204,234.4 200,235.8 196,235.3 190,232.7 188,232.6 186,233.2 178.1,241 174,242.7 166,243.6 156,246.1 152,246.4 138,243.6 130,243.7 127.4,245 123.2,251 120,252.8 117.9,253 110,250.9 108,251.3 100,254.6 96,255.3M352.9,335 358,334.1 364,334.2 370,335.4 373.5,337 376.1,339 382.1,347 386,350.7 390,352.4 400,354.7 404.1,357 405.5,359 406,361 405.9,363 404.1,367 400,370.6 398,371.4 394,372 390,371.5 378,368.1 368,368.3 362,367.7 358,366.4 354,364.3 349.2,361 345,357 342.8,353 342.1,349 343.1,343 345.6,339 348,337 352.9,335M455.9,365 460,365.1 462.6,367 466,371.8 467.9,377 467.4,381 466,383.5 464,385.4 460,386.9 456,386.5 452,384.5 449,381 447.6,377 448,373 450,369.1 452,367 455.9,365M273.1,433 276,432.4 278,432.6 280,433.6 283.5,437 288,444.3 296,461 298,463 302,464.4 307,465 308,465.7 308.4,467 308,471 306,481 304,485.3 302.2,487 300,487.3 298,486 295.9,483 292,472.3 290,469.9 288.4,469 260,462.8 256,463 252,464.1 236,470.4 234,472.5 229.7,479 227.3,481 224,482.7 220,483 218,482.2 216,480.5 214.5,477 214.8,475 216.3,473 220,471.1 230,468.9 232.6,467 233.5,465 236.4,451 238,447.7 240,445.6 244,444.4 254,445.2 258,444.5 262,442 270,434.6 273.1,433M396.3,433 402,431.4 406,431.6 408,432.2 409.3,433 410.8,435 411.1,437 410.6,439 406.2,445 400,449.7 396,450.8 390,450.1 387.6,449 385.8,447 385.2,445 385.4,443 387.5,439 389.5,437 396.3,433M319.9,451 324,450.6 328,452.3 329.9,455 329.7,457 328.1,459 326,460.4 320,463 314,463.8 312,463.8 310.6,463 310.8,461 312.6,457 316.4,453 319.9,451M96,469.4 100,470.1 102,471.1 110,479 114,481.5 118,483.2 132,487 137.3,489 158,502.6 164,505.2 180,510.6 193.8,519 198,521 224,527.9 238,532.7 244,532.6 256,528.4 260,527.7 266,528.1 286,530.8 296,530.5 300.6,529 316,520.6 338,515 354,506 358,504.7 362,504.2 368,504.8 374,506.5 391.2,515 400,517.9 406,518.7 428,519.5 442,522.4 447.6,523 458,522.8 464,521.9 466.9,521 470.1,519 472,516.6 473.8,511 474.8,503 475.3,491 475.1,483 474.1,477 472.1,473 470,471.2 460,467.6 454,464 451,461 450,459 449.8,457 452.2,453 463.4,443 472,431.8 476,428.8 486,424.1 488,422.5 490.9,419 493.9,411 494.5,407 494.4,403 493.1,399 486.7,389 485.5,385 485.4,381 486.5,377 487.7,375 491.3,371 500,363.5 501.7,361 502.3,359 501.4,355 497.7,351 478,340 464.5,329 455.9,323 432,310.5 424,308.2 418,307.8 396,310.6 376,309.5 366,309.9 358,311 340,315.1 320,315 308,316.8 288,323.9 264,329.2 254,332 248,334.5 238,339.7 229.2,343 202,349.3 196,352.2 186.4,359 182.6,361 177.3,363 170,364.7 160,365.8 138,364.9 116,365.7 96,364"/>
<path fill="none" stroke="#f43c3c" stroke-width="1.6" d="M245.4,73 244.7,75 243,77 239.9,79 228,83.3 222,84.8 216,84.5 206,81.3 198,79.9 188,79.8 181.3,81 178,83 176,87 175.6,95 176.9,101 179.4,105 181.4,107 191.4,115 218,139 224,143.2 230,145.4 236,146.4 256,146.9 262,147.6 268,149.5 272,151.7 276,155.3 291.3,175 298.6,189 302,194.2 306,198.4 320,210.3 326,212.5 342,214 348,215.5 362,223.4 368,227.9 372.6,233 374.9,237 376.3,243 376.1,247 374.8,251 373.5,253 367.4,259 364.4,263 363.1,267 363.1,271 365.5,277 368.6,281 374,285.9 380,289 384,289.5 388,289.1 392,287.9 400,284.4 404,283.4 418,283.8 422,283.4 426,282.1 429.8,279 430.9,277 431.2,273 429.3,269 426,266.6 418,263.7 413.2,261 409.8,257 408,251 408.1,243 410,237 412.8,233 416,229.7 422,225.9 426,225 430,224.8 436,225.5 440,226.7 444,229.2 452,239 456,241.2 462,242.4 478,242.4 484,243 490,244.7 500,249.3 506,251 512,251.4 518.7,251 540,247 558,245.7 562,244.9 566,242.7 574,230.7 578,227.7 584,224.8 588,222.1 590.7,219 595.5,211 598.8,207 606,200.5 613.5,195 620,192.1 628,190.9 640,191.4 646,193.3 648,195 649,197 648.6,201 645.7,205 638,211.8 635.2,217 634.3,225 635.5,241 635.4,247 633.7,253 630.3,257 624,260.1 618,260.6 614,259.6 610,257.6 600,249.4 596,247.6 590,247.6 582,249.3 576.9,251 573.5,253 562,265 551.1,273 549.1,277 549.6,281 552.9,285 558,287.7 564,289.5 572,291.1 582,292 616,291.9 622,293.1 626.3,295 629.2,297 632.5,301 633.8,307 632.5,313 627.3,323 625.6,329 624.6,339 625.4,349 627.1,355 630,359.5 636,364.9 640,366.6 644,365.7 648,362.5 656,353.2 660,346.8 662,341.4 663,337 664.6,317 666.5,307 669.5,299 673.3,293 688,280.5 698,270.5 702,267.3 706,265.2 710,263.9 726,260.7 730,257.6 732.2,253 735.4,239 736.9,227 736.1,219 733.2,213 730,209.3 726,205.8 720,202.7 714,202.4 702,205.7 698,205.9 696,205.2 693.2,203 690,197.8 689,193 688.9,189 689.6,183 691.1,177 694.4,171 696.3,169 700,166.7 706,165.3 714,165.7 720,168.4 730,177 736,180.1 746,182.2 752,182.5 758,182.2 766,179.4 810,157.3 834,149 840,147.6 844,147.3 850,148 854,149.2 880,161.1 894,168.3 900,170.2 904,170.3 910,168.5 918,164.5 922,163.1 926,162.7 938,163.5 944,162.2 948,159.8 956,153.7 960,151.4 980,144.6 994.9,135 1006,130.1 1018,123.8 1024,122 1028,122.6 1030.8,125 1032,129 1031.4,133 1028.6,137 1022,141 1008,146.2 997.8,151 994,153.3 992,155.3 989.8,159 986.3,173 984,177.6 980,181.4 970.3,187 967.2,191 966,197 966.4,201 969.4,213 968.7,217 966,219.8 955.4,227 952.7,231 952.4,233 952.8,235 954.4,237 957.7,239 962,240.3 968,241.1 974,240.9 978,240.2 981.5,239 984.9,237 994.1,227 1008,215.3 1012,212.5 1024,206 1031,201 1035,197 1040.3,189 1044,185.4 1048,183.3 1054,182.3M531.6,73 531,75 529.6,77 526,79.1 522,79.8 518,79.4 511.8,77 508.9,75 507.8,73M343.3,127 346,127 348.9,129 350.7,133 351.2,137 348.5,165 346.9,169 344,170.3 342,169.8 334,165.2 324,161.2 320.4,159 317.7,155 317.2,151 317.8,147 318.7,145 322,141.3 338,129.3 343.3,127M194,166.8 182,169.3 170,171 168,171.7 166,173.4 165.1,177 167,185 171.2,195 174.9,199 178,199.9 182,198.6 192.6,191 204,183.7 208.4,179 209.2,177 209.2,173 208,170.3 206,168.2 204,167 200,166.1 194,166.8M916,182.9 910,184 904,186.2 898,190.2 892.8,195 891.4,197 890.4,201 891.6,213 889.9,217 887.5,219 884,220.7 870,225.9 863.6,229 858.4,233 855.9,237 855.7,241 858,246.2 862,250.6 869.9,257 872,259.9 873.3,265 872.9,275 873.8,279 876.1,283 878,285.1 880,286.1 882,286.3 884,285.6 894,277.6 904.4,271 909.4,267 912,263.3 916.3,255 919.7,251 930.3,241 934.1,235 934.9,231 934.9,221 935.5,217 938,211.3 944.7,201 946.1,197 945.8,193 944,189.5 942,187.6 936.5,185 926,183 916,182.9M503.2,203 510,202.7 516,203.7 522,205.7 526,208.4 527.9,211 529.1,215 528.5,219 526.2,223 524,225.1 520,227.2 512,228.2 502,227.2 498,225.6 494.3,223 491.6,219 491.2,217 492.1,213 496.2,207 500,204.1 503.2,203M676.5,227 682,226.5 686,227.5 688.4,229 691.2,233 692,237 691.2,241 688.4,245 686,246.6 682,247.8 676.1,247 672.9,245 670,241 669.1,237 670,232.6 672.7,229 676.5,227M96,295.1 100,294.5 102,293.5 107,289 110,287.6 112,287.5 118,289.2 122,288.9 126,286 130.9,279 132.8,277 138,274.3 144,273 154,272.2 164,267.9 168,268.2 176,270.6 184,270.2 186,269.5 190.2,265 194,262.8 196,262.8 198,263.8 204,269.9 210,270.8 214,270.5 217.7,269 220.5,265 222.6,263 226,262.4 227.4,263 229.2,265 232,271.5 236,273.8 246.4,277 248.6,279 254,288.1 258,291.2 262,291.7 266,290.5 270.2,287 271.9,283 271.8,281 270.9,279 268.7,277 260,273.2 250,272.2 248,270.7 246.2,267 246.3,263 247.1,261 253,255 254.3,253 256.6,247 262.8,239 263.3,237 262.7,235 260,233.1 256,233.2 250,237.3 246,237.7 242,236.2 236,231.2 234,231.2 228,233.4 224,233.1 220.7,231 216,226.4 212,225.5 208,226.8 204,231.3 202,232.8 200,233.3 198,233.2 196,232.2 190,226.8 188,226.3 184,226.4 182,227.1 180.2,229 178.6,235 176,238 174,238.8 172,238.9 166,237.3 164,237.3 155.8,241 152,242.1 150,242.1 146,241.1 133.1,235 132.6,233 134,231.8 140,230.8 142,229.7 146.6,223 152,220.4 162,213.2 163.4,211 163.7,207 162.6,205 160,203.4 148,202.1 134,202.5 118,206.7 109.4,211 107.1,213 105.7,215 105,217 105,221 107.1,227 111.8,235 112,237 111.3,239 109.6,241 104.6,245 100,247.4 96,248M1054,359.9 1050,361.1 1045.9,365 1038.5,375 1036.9,379 1036.8,381 1038,383.9 1040,384.8 1050,382.9 1054,382.6M96,475.7 100,476.8 106,482 110.7,485 132,493.4 150,506 158.9,511 178,517.8 196,526.2 212,531.7 225.2,537 234,539.5 244,540.2 266,537.6 292,538.8 300,538.1 306,535.6 320,527.7 340,521.7 356,513.2 362,512 368,513.1 382,519.2 393.8,523 402,524.6 418,526.6 424,528.3 428,530.2 431.9,533 435.6,537 440,543.2 444,547.1 446,548.1 450,548.6 462,543.6 476,541.2 480,539.8 484,536.4 487.1,531 490,523.8 490.8,519 490.2,515 486.8,505 485.3,497 485.4,485 487.1,475 488.7,471 491.4,467 500.2,459 503.6,455 515.9,435 516.8,431 516.8,427 514.6,415 513.9,407 514,399.9 514.7,395 516,391.8 518,389.5 526,385.1 528,383.2 529.4,381 530.2,377 529.4,373 528.2,371 520,363.8 513.8,353 510,347.8 506,344.1 495.7,337 484,324.9 477.4,321 456.1,311 440,301.8 434,300.1 426,299.3 400,300.1 380,300 364,302.5 342,307.2 336,307.4 322,306 314,306.9 300,311.1 286,318.6 279.6,321 268,323.5 248,326.6 242,328.3 229.1,335 222,337.8 215.9,339 196,340.2 190,341.5 186,344 179.4,353 177.3,355 172,358 164,360.3 156,361 138,360.5 118,360.8 96,358.2"/>
<path fill="none" stroke="#f43c3c" stroke-width="1.6" d="M182.1,149 188,148.3 192,148.6 194,149.9 194.5,151 194.1,153 192.6,155 189.9,157 186,158.7 182,159.4 179,159 176.2,157 175.5,155 175.8,153 178,150.6 182.1,149M240.2,155 250,154.3 258.4,155 264,157.3 270,162.5 280,173.8 282.2,177 284,181 285.5,187 286,193 285.7,197 284,202 282,204.7 276,210.1 271.5,215 269.1,217 264.9,219 258,220.2 238,220.5 234,221.1 231.2,223 228.8,229 226,230.4 223.1,229 220.3,223 218,221.6 214,221 208,221.3 203.1,223 200.7,229 200,229.4 198.7,229 197.7,227 197.2,223 194.7,221 187,217 185.7,215 185.6,213 187.1,209 191.3,203 197.5,197 202,194.2 214,188.2 223.9,181 225.7,179 227.1,175 226.8,165 227.7,161 229.2,159 232.4,157 240.2,155M96,167.6 100,168.5 106,171.2 110,171.7 116,170.6 128,165.8 132,165.4 136,166.3 140,169.2 146,177.2 151.3,187 152.6,191 152.7,193 151.7,195 148,196.4 142,197.2 136,196.2 134,196.7 126,200.6 108,204.2 104,205.9 98,209.9 96,210.5M96,226 98,227.4 100,230.9 100.7,235 100,237.2 98,238.8 96,239.3M317.2,245 320,244.8 322,245.5 324.3,247 328,251 329.6,255 329.1,257 327.1,259 322,261.3 314,262.5 278,262.5 269.5,261 266.8,259 266,257 266.7,255 270,251.6 276,247.5 280,245.7 284,246.1 294,249.8 300,250.3 306,249.1 317.2,245M193.7,267 196.2,267 196.7,269 196.5,273 200,275.4 206,276.3 222,276.4 226,277.9 230,280.7 232.1,283 233.2,285 233.9,289 233.3,293 231.2,297 226,301.2 218,303.9 190,304.5 170,306.6 162,306.6 158,305.9 154,303.2 149.6,297 142,290.1 139.9,287 139.3,283 140.6,281 144,279.9 154,279.9 158,279.2 160,277.9 164,273 166.9,273 172,276.1 174,276.6 184,276.2 190,275 193.2,273 193.1,269 193.7,267M515.1,271 520,270.6 522,271.5 524,273.3 525.1,277 524,280 522,281.9 520,282.7 516,282.5 512.6,281 510.4,279 509.7,277 510,275 511.6,273 515.1,271M336,291 340,289.6 346,289.3 351.2,291 352.5,293 351.6,295 348.6,297 344,298.4 340,298.8 334,297 332.6,295 333.4,293 336,291M293.6,293 298,291.7 302,291.8 305.1,293 306.8,295 306.3,297 303.8,299 300,300.5 292,301.8 288,301.3 287.6,301 287.8,299 288.9,297 290.7,295 293.6,293M273.4,305 280,304.5 282,304.9 282.3,307 280.2,311 278.3,313 274,315.3 266,317.4 258,317.8 253.8,317 252,316 250.4,315 249.6,313 250.4,311 252,309.6 256,307.8 273.4,305M96,308.9 100,308.3 110,303.2 116,302.3 122,303.1 132,307.1 146,311.1 148.3,313 149.6,317 149.1,329 149.6,333 151.4,337 156.3,343 157.8,347 157.8,349 157.1,351 156,352.1 152,353.3 122,353.3 114,352 102,347.3 96,346.3M1054,350.5 1050,351.2 1046,353.6 1028.5,371 1023.7,377 1019.8,385 1016.4,395 1015.8,401 1017.1,407 1018,408.6 1020,409.8 1022,409.7 1024,408.7 1038,400 1048,390.8 1050,389.7 1054,388.9M616,406.3 611.3,409 609.7,411 608.3,415 608.3,417 610,420.4 612,421.8 616,422.6 620,421.7 623.6,419 624.8,417 625.5,413 624.1,409 622,407 620,406.2 616,406.3M96,482.4 100,483.6 108.7,489 126,496.3 144,509.8 156.7,517 176,523.7 190,529.5 218,539.8 234,544 244,544.8 262,543.1 272,542.8 296,544.6 302,544.2 310,541.2 324,533.4 342,527.4 358,520 362,519.4 368,520.5 390,527.4 415.4,533 420,535.2 423.7,539 425.4,543 426.1,547 426,551 425,555 417.2,565 415.2,569 414.1,573 413.9,577 414.5,581 416,585.6 418,589.3 420,592 424,595.5 432,600.3 440,604.2 444,605.4 450,606.3 456,606.3 460,605.5 464,603.5 468,599.6 470.8,595 472.4,591 473.4,587 474.1,581 472.6,563 474,558.1 477.1,555 480,553.8 484,553.3 488,553.9 490,555.4 491.1,559 491.3,577 492.9,581 496,584.3 498,585.1 500,585.2 502,584.7 506,582.2 511,577 513.8,571 514.5,567 514.3,563 512.1,557 508,553.2 499.4,549 497.3,547 496.6,545 496.5,541 497.2,537 500.9,527 502.1,521 501,515 493.8,503 492.3,499 491.5,495 491.4,489 492.2,483 494,477.6 496,474.1 508,462.2 518,450 532,439 540,428.3 542,426.5 546,424.7 562,421.8 568,418.6 570,416.1 570.8,413 568.7,403 568.8,399 569.7,397 572,394.9 578,392.2 594,389.1 606,384.7 612,383.4 616,383.6 620,384.7 632,390.6 636,391.6 640,391.5 644,390.4 650,387.7 656,384.4 660.8,381 664,377.6 666,374.5 674.6,357 675.6,351 676.6,335 678,330.6 680,327.7 682,326.8 684,326.9 694,331.2 700,332.1 704,331.1 707.5,329 710,326.7 712.7,323 715.2,317 715.4,313 714.3,307 710.9,299 710.1,295 711.5,291 715.2,287 718,285.7 720,285.5 734,290.6 742,292 748,291.7 750.1,291 752,289.5 754,285.4 757.2,273 762.7,263 764.4,257 763.2,251 755.5,239 754.2,235 753.8,231 754.4,219 755.8,211 758,207 762.8,203 788,186.3 794,183.4 810,177.6 826,166.2 832,163.1 836,161.8 842,161.5 846.8,163 857.8,169 866.5,175 867.8,177 867.9,179 867,181 855.1,193 852.1,197 851.3,199 851,203 852,211 851.1,215 848.1,219 835.4,231 831.5,237 830.6,241 830.1,255 827,265 825.3,273 824.7,279 825,287 825.8,291 827.7,295 832,298.7 840,301.3 852,302.5 856,303.4 859.3,305 862,307.3 864.8,311 866.4,315 866.3,319 864.2,327 863.7,331 864.7,337 868.8,343 874,348 880,351.9 884,352.9 886,352.8 889.1,351 890.2,349 891,345 890.6,335 886.9,319 887.1,315 893.6,303 896.3,289 898.2,285 900,282.7 906,278.7 916,276 920,273.9 922.3,271 925.5,263 928,258.5 932,254.4 938,250.8 942,249.6 946,249.3 968,251.1 976,250.8 986,248.7 995.6,245 1001.1,241 1013.7,227 1020.4,221 1046,204.3 1050,202.4 1054,201.7M440,628.2 437,631 435.2,635 435.1,639 436,642.6 438,646 441.8,649 444,649.6 447.7,649 450.1,647 451.7,643 451.9,639 451,635 448.8,631 446,628.5 442,627.6 440,628.2"/>
<path fill="none" stroke="#f84060" stroke-width="1.6" d="M109,189 120,188.9 122.9,191 121.9,193 116.2,195 106,195.9 100.8,195 100.4,193 102.9,191 109,189M216.1,199 220,198.9 222,199.6 224.1,201 225.7,203 227.1,207 227,209 226.3,211 224.3,213 218,214.7 210,214.9 204,214.6 199.9,213 199.6,211 200.2,209 203.8,205 210.4,201 216.1,199M1054,267.3 1050,270.1 1048.4,273 1050,274.4 1054,275.2M1030,278.2 1026,281.2 1024,283.9 1021.5,289 1021.1,293 1022.1,295 1024.7,297 1030,298.6 1034,298.7 1037.5,297 1039.8,293 1040.8,287 1041,281 1040,278.6 1038,277.7 1034,277.5 1030,278.2M778,340.8 776,343 774.1,347 773.2,351 773.3,353 774,354 776,355.2 788,357.4 792,357.8 794.7,357 794,355 788,349.1 782,340.8 780,340.1 778,340.8M1054,343.1 1048,343.9 1042,347 1015.8,371 1011,377 1002,392.9 1000,395.7 998,397 989.3,393 982,390.8 972,389.2 964,389.2 960,390.3 956,393.1 953.7,397 953,403 954.6,407 957.5,409 974,415 980,416 983.7,415 986.7,413 990.7,409 996,402.2 998,400.6 1000,401.7 1006.7,413 1009.8,417 1014,420 1016.7,421 1020,421.3 1022,420.8 1026,418.6 1042,404.4 1048,396.8 1050.1,395 1054,393.8M722,357.9 720.1,359 719.5,363 721.6,369 724,371.9 725.8,373 730,374.4 748,377.5 756,377.4 760,375 762.2,371 764.1,363 764.2,361 763,359 760,358.1 726,357.6 722,357.9M704,372 702,373.2 701.2,375 700.6,379 700.6,393 700,395.1 697.4,399 696.9,401 698,408.9 700,411.8 702,410.7 704.8,403 706.6,401 716,397.4 719.7,395 722,391 722.8,387 722.6,381 722,378.7 720,375.7 716,373.5 712,372.3 708,371.6 704,372M942,418.7 940,419.1 938,420.4 934,424.9 928.8,433 927.8,437 928,439 929.7,443 934,449.9 938,454 940,454.5 942,453.5 944,450.1 945.5,441 945.6,431 945,423 944,420 942,418.7M96,488.1 100,489 120,497.7 124.8,501 138,511.8 146.5,517 154.6,521 214,542.2 224,545.1 234,547.2 244,547.9 264,546.4 274,546.3 282,546.8 298,549.2 304,548.9 312,546.4 330,536.9 346,531.2 356,527 362,525.6 370,526.6 403.8,535 409.3,537 412.5,539 414.3,541 415.1,543 415.5,547 414,552.7 408.9,563 408,569 408.1,577 410.4,589 419,615 419.8,619 419.9,623 418,636 416,639.6 410,635.1 408,634.4 406,634.4 404,635.1 402.3,637 401.6,639 401,645 401.6,663 400.9,697 401.5,725M776,600.4 773.4,605 772.6,609 772.6,613 773.8,617 775.2,619 778,621 780,621.1 782,620.3 784.6,617 785.6,613 785.2,607 784,603 782,600.2 780,599.1 778,599.2 776,600.4M480.1,659 482,657.9 486,657.1 490,657.7 492.8,659 494.2,661 494.8,665 493,671 491,673 486.6,675 482,675.8 476,675.9 472.5,675 472.4,673 475.8,665 478,661.2 480.1,659M420.3,725 419.5,719 419.2,711 419.7,685 421.3,675 422,673.4 424,672.9 429.7,675 436,676.4 458,678 463.3,679 463.9,681 460,696.8 457,721 455.8,725M498.5,725 500,719 502,715.9 510,714.5 514,712.7 516,710.8 516.9,709 518,706.2 518.4,703 518,697.9 516,694.3 514,692.6 510,691.2 504,691.5 502.2,691 500.3,687 498.6,677 498.5,665 497.7,655 498.6,643 500.5,637 504,632.9 510,629.7 516,628.2 530,626.6 534,625.4 537.1,623 538.8,619 538.1,615 535,611 523.4,601 521.2,597 521.3,595 522.2,593 524,591 528,588.9 534,587.5 548,585.9 552,584.7 555,583 557.1,581 559.5,577 562.3,563 564,561.2 572,559.6 576,558.1 578,556.7 579.2,555 580.4,551 580,542.3 578,534.6 576,531.1 574,530.8 572,531.6 556.3,541 556,543 558.5,549 559.5,555 559.1,557 558,558 556,558.5 550,558.1 544.5,557 541.1,555 540,553.1 539.9,551 540.5,549 542,546.5 545.8,543 546.5,541 541,539 520,537.1 516,535.8 512.7,533 511,529 509.4,519 507.5,513 497.6,499 496.4,495 496.3,489 497.6,483 500,478.2 502.9,475 511.8,467 520,457.8 526,453.7 544,446.2 560,437.8 570,435.9 574,435.9 577.5,437 579.2,439 579.7,441 579.3,451 579.9,455 586.6,467 587.9,471 588.3,475 587.2,481 582.1,493 580.3,499 579.7,505 580.2,511 582,512.8 584,512.4 600,506.8 606,503.3 610,498.1 615.1,485 622.3,473 625.6,465 626.5,459 626,453 621.2,441 621,439 621.5,437 623.1,435 633,427 640,418.5 644,415 648,413.7 656,414 656.6,413 656.8,405 658.5,401 660.3,399 664,397 668,396.1 684,394.5 685.3,393 682,388.6 680.8,383 681.4,379 684,375 688,372.6 697.2,369 698.6,367 701.5,359 703.7,357 714,354 715.3,353 716.4,351 719,341 720.6,337 724.4,331 730,324.8 744,313.8 748,311.7 760.2,307 764,304.5 767.1,301 769.3,297 774,283.3 778,278.5 782.3,275 784,273 784.6,271 782,262.1 781.1,255 781,239 782,231.9 784,232.1 797.5,237 800,239.2 801.5,243 801.3,249 797.1,269 797.5,273 799.9,281 800.4,285 800.4,293 798.9,309 799.3,313 800.2,315 802,316.5 806,317.6 830,316.7 836,317.5 839.4,319 840.8,321 841.2,323 840.1,333 841.2,337 842.8,339 845.9,341 854,344.3 860,347.7 864,351 869.9,357 876.3,367 879.2,375 879.6,379 878.5,389 879,393 880,395 882.7,397 886,397.9 890,398.2 898,396.8 901.3,395 903.6,393 908,386.3 910.8,377 911,367 909.5,357 907.4,351 901.5,339 900,333.4 899.5,329 899.6,323 900.5,319 902,316 907.1,309 908.3,305 907.4,301 903.8,293 903.9,289 905.6,287 908,284.8 910,284.5 914.1,285 924,288.7 926,288.6 928,287.7 930.5,285 932.5,281 936.2,267 939.3,263 944,261.1 950,260.9 954,261.6 956.8,263 960.4,267 963.4,269 966,270 970,270.4 974,270.1 978,268.8 980.6,267 986,261.6 990,260.1 998,259.7 1016,262.2 1020,262 1021.3,261 1021.7,259 1019.7,251 1019.6,245 1020.6,241 1022,238.6 1024,236.9 1028,235.4 1032,235.2 1040,236 1046,235.3 1051.6,233 1054,230.7"/>
<path fill="none" stroke="#f84060" stroke-width="1.6" d="M532.4,463 540,461.6 550,461.2 556,461.6 562,463.4 567.9,467 572.1,471 574.6,475 575.1,477 575.1,481 573.1,489 569.6,499 566,505.7 562,510.2 556,514.3 541.5,521 534,523.3 526,524.1 522,523.1 519.5,521 517.4,517 513.2,505 505.8,497 504,493.2 503.9,491 506,485.1 509.6,481 524,467.2 528,464.7 532.4,463M96,494.8 104,496.3 114,500.3 118.2,503 126.8,511 132,514.9 143.4,521 152,524.9 188,538.2 214,546 234,550.3 244,551.2 268,549.8 278,550 286,551.3 302,555.3 308,555.4 314,554.2 320,551.8 340,541.3 355.5,535 360,533.6 364,533 370,533.3 382,535.1 388.5,537 393,539 395.6,541 396.6,543 396.6,545 395.8,547 393.8,549 388,552.2 378,555.2 376,556.4 370,562 368,563.1 358,565.2 354.5,567 352.2,569 349.2,573 347.3,577 344.8,587 343.6,597 341.9,601 338,604.7 327.8,611 325.3,615 324.3,619 323.7,627 324,641 324.8,649 326,653 328,656.2 330,658.2 341.1,667 344.3,671 346.5,675 348.5,683 349.4,701 351.3,707 354.9,711 364,716.1 367.8,719 370,721.8 371.1,725M314,568.6 310.1,571 308.4,573 307.5,575 307.6,579 310,582.6 314,585.5 318,586.9 322,586.4 324.1,585 326.2,581 326.3,577 325,573 322,569.6 320,568.5 318,568.1 314,568.6M387.5,569 392,567.6 396,567.6 398,568.7 400,571.4 402,579 403.4,597 402.8,601 401.1,605 398,609 392,614.2 390,618.3 389.5,627 390.6,655 389.6,665 387.6,673 384,680.9 382,683.4 380,684.9 378,685.4 374,684.1 372,682.3 369.8,679 368.1,675 364.1,657 358.1,643 356.2,637 355.2,629 355.3,619 356.3,613 358,608.8 361.5,605 368,600.3 370.6,597 372.1,593 374.8,581 376.4,577 380,572.8 387.5,569M778,590.7 774,591.8 772.1,593 768.7,597 767.2,601 766.5,605 766.2,613 767.6,619 770,623.3 774,627.1 778,628.7 780,628.8 784,627.6 786,626 788.4,623 790.6,617 791.1,609 789.9,601 787.1,595 785.1,593 782,591.2 778,590.7M196,612.4 191.7,615 189.4,619 189.7,623 192,626.7 196,629 200,629.8 206,629.1 209.7,627 211.2,625 212.2,621 212,619 210,615.6 206.3,613 204,612.2 200,611.6 196,612.4M622,624.4 620,625 616,627.6 611.4,633 610.7,635 611,637 613.1,639 618,640.4 624,639.9 626.8,639 630,637.1 632,635 632.8,631 632.2,629 630.8,627 628,625.1 626,624.4 622,624.4M96,647.8 100,646.4 102,644.6 104.9,641 106.2,637 104.8,633 102,629.4 99.3,627 96,625.7M596,694.8 594,697.1 592.6,701 592.5,705 593.1,707 594.1,709 596.2,711 600,712.1 602,711.6 604,710.3 606.3,707 607.3,703 606.9,699 606.1,697 604.5,695 602,693.5 600,693.1 596,694.8M171,725 171.9,723 174.1,721 178,719.4 187.1,717 190.1,715 191.4,713 192.6,709 193.1,703 192.7,699 192,697 190.4,695 188,693.7 173.4,691 160,686.6 156,687.3 148,690.2 134,694.1 130,696.9 128.9,699 128.1,703 128.2,707 130.1,713 131.8,715 134,716.4 145,721 147.2,723 148.1,725M525.3,725 527.6,715 528.1,709 527.6,695 525.3,677 525.4,673 526.6,667 530,656.3 532.8,651 534.8,649 546,641.2 551.1,635 553,629 554.8,613 556.4,609 558.2,607 567,601 576,589.6 580,586.6 582,586 586,585.9 598,588.2 602,587.9 604.2,587 606,585.6 608,583 611.6,575 614,571.5 616.7,569 626,562.6 628,560.5 629.9,557 631,551 630.4,535 630.8,519 628.3,503 628.2,497 634.1,477 637.3,453 638.8,449 640,447.1 642,445.5 646,444.2 650,444 666,446.7 680,447.8 686,449.6 689.2,453 690.3,457 690.4,461 688.8,481 688,484.7 686,486.1 678,487.9 674,489.8 672,491.4 670,494.1 668.3,499 667.8,507 668.6,515 671,521 674,524.1 678,525.8 680,526 684,525.3 688.3,523 691.3,519 692.3,513 690.2,497 690,491 690.4,489 692,487.6 694,487.2 704,487.2 708,488.6 712.6,497 716,500.1 720,502.1 736,506.1 748,508.2 748.8,509 747.7,515 746.3,519 743.2,525 740,529 738,530.5 734,531.9 720,532.6 716,533.4 712.4,535 710.3,537 708.8,541 708.8,545 711.9,559 712.1,565 709.7,579 708,582.6 706,584.5 702,586.1 694,587.3 688,587.7 682,586.9 678,585 676,583.3 668,571.9 666,570 662,568.1 658,568.2 655.8,569 652,571.8 649.8,575 648.4,579 648,583 648.9,593 651.1,599 653.9,603 656,605 660,607.3 666,608.8 688,611.4 694,611.4 700,609.7 703.5,607 708.2,601 712.4,593 714,590.9 716,589.4 736,583 740,581.2 744,578.3 748.2,573 754,559.7 756,556.3 759.4,553 770,546.4 772,544.5 774.3,541 775.6,537 775.8,531 774.2,523 772,517.6 768.5,513 764,510.3 760,509.2 750,508 749,507 749,497 748.1,493 746,489 742,486.3 738,485.3 720,485.1 714,484.1 712,481.8 711.7,477 713.5,471 716.3,467 730,457 738,449.7 742,446.8 748,445.4 760,446.6 764,446.4 767.9,445 769.8,443 770.7,441 771.3,437 769.7,421 770.6,415 771.7,413 774,410.7 784,405.5 787.1,403 789.5,399 792.3,391 794,388.5 796,386.8 800,385.4 804,385 810,385.4 816,386.7 822,389.8 830.1,397 837.2,401 854,405.1 868,411.2 874,412.1 880,411.9 890,409.7 900,406.5 906,403.6 912,399.5 916.5,395 919.3,391 929.7,373 932,370.7 935.1,369 940,367.5 954,364.8 966,363.4 978,363.9 982,364.7 986,366.3 989.5,369 991.4,373 991.2,375 990.1,377 987.3,379 980,380.6 960,380.7 954,382.4 950,385.1 946.9,389 942,399.4 933.9,409 926.8,421 918.3,433 917,437 917.2,439 919.2,443 925.2,451 932.9,463 936,465.4 940,466.2 943.8,465 946,463.6 948.5,461 950.8,457 952.1,451 952.8,437 953.7,431 956,425.1 958,422.8 960,421.7 964,421.4 976,425.1 982,425.9 986,425.3 994,422.8 998,422.1 1002,423 1008,426 1014,428 1018,428.6 1022,428.3 1026,427.1 1030,424.6 1038,416.5 1046,410.1 1052,402.8 1054,402"/>
<path fill="none" stroke="#f84060" stroke-width="1.6" d="M96,511.1 100,511.3 104,512.4 113.8,519 120,522 159.1,535 176,543.5 184,546.2 240,556.3 250,556.7 272,555.7 278,556.1 282.2,557 286.1,559 288.1,561 289,563 289.2,567 286.3,577 285.7,581 286.1,585 289.8,597 289.7,599 288,602.7 284,606 278,608.1 268,608.7 260,607.7 255.1,605 252,601 247.7,589 246,587 244,585.7 238,584.1 230,584 210,585.2 204,586.4 192,590.3 180,592 144,592.3 116,591.5 96,592.5M214.7,725 212,711.2 212.7,703 214,698.4 216.3,693 220,686.8 224,681.9 228.7,677 242.6,665 245.8,661 250.5,653 254,649.1 256,648 260,647 274,647.5 280,646.2 284.1,643 292,632.1 294,630.2 298,628.5 300,628.5 302,629.4 304,631.1 306.2,635 307,639 305.9,655 306,661 307.5,669 311,679 311.9,685 309.7,709 309.9,715 311.2,725M547.7,725 547,723 540.3,715 538.3,709 537.7,703 537.7,697 539.5,689 542,684.2 544,681.6 558,667.7 564,664.6 570,663.8 576,664.2 582,666 586.3,669 588.4,673 588.3,675 586.7,679 572.4,697 570.5,701 569.8,705 570.2,709 572.6,713 584.1,721 586.4,723 587.7,725M612,725 613.1,723 619.4,717 622.7,713 625.4,707 626.7,699 625.4,693 623,689 609.9,675 606.5,669 606.2,665 607.4,661 608.8,659 612,656.6 615.5,655 620,653.9 644,651.1 656,648 662,644.7 672.1,635 676,632.7 680,631.4 686,630.9 702,630.9 708,629.8 718,626.9 722,626.4 734,627.8 738,627.6 742,626.6 750,622.3 752,621.9 754,622.3 756,623.6 766,635.5 770,638.5 776,641.4 780,642.1 786,640.8 790,638.6 793.6,635 795.8,631 797,627 798.5,615 797.9,599 797,593 795.7,589 793.1,585 788,581.9 782,580.3 773.5,579 770,577.5 768.4,575 768.5,573 770,569.7 772.5,567 776,564.9 784.6,561 787.5,559 789.3,557 791.1,553 793.4,539 795.6,533 798,529.5 805,523 807.9,519 809.2,515 809.5,511 807.9,497 808.2,491 809.7,481 812,474.4 816,469.7 826,462.4 835.2,451 840,447.9 848,446.4 870,445.7 876,445.9 880.5,447 883.7,449 885.5,451 890.1,459 894,463.5 898,465.8 906,468.6 908,470.3 912,480.8 914,483.8 918,486.7 922,487.7 926,487.7 932,486.5 942,482.6 952,476 962,466.7 966,464.3 970,464.3 978,467.1 984,468.3 990,468.4 1010,467.1 1018,467.9 1022,469.1 1025.3,471 1028,473.7 1029.7,477 1030.6,481 1029.6,529 1030,535 1031.1,539 1034,543.2 1036.3,545 1040,546.7 1044,547.3 1054,547M790.5,725 793.7,723 795.4,721 796.8,717 796.8,715 795.2,711 793.4,709 790,707 786,706.3 782,707.3 779.7,709 778.1,711 776.7,715 777.1,719 778.1,721 780,723.3 782.8,725M889.9,725 888.5,711 890.6,691 890.7,683 889.8,677 887.9,673 884,669.2 878,667 848,666.5 841.8,667 836,669.5 832.5,673 825.8,683 822,686.4 815.3,691 811.4,695 808.7,701 807.5,709 807.7,715 809.8,725"/>
<path fill="#fff" d="M99,640 L102,640 L125,723 L99,723Z"/>
<path fill="#fff" d="M1051,533 L1049,533 L985,723 L1051,723Z"/>
<path fill="none" stroke="#000" stroke-width="1.1" stroke-linejoin="miter" shape-rendering="crispEdges" d="M100,276.7 102.6,277.6 106.7,278.3 109.6,277.0 113.7,273.7 115.2,274.3 119.3,270.9 123.3,270.0 129,269.1 132.7,268.3 136.2,266.5 140,266.7 141.5,264.5 142.3,260.8 143.3,256.7 141.3,252.9 138.3,251.7 141.6,247.8 143.3,243.3 141.6,237.5 142.2,234.4 140,230.0 139,227.8 137.3,224.6 134.7,220.9 133.2,218.0 132.8,212.1 130,210.0 132.6,208.4 138.7,208.2 141.4,207.0 144.7,206.5 148.3,206.0 151.8,205.4 156.4,205.4 160,203.3 164.7,206.3 168.3,206.7 171.5,204.8 173,199.0 175.7,198.0 176.7,193.3 178,189.5 177.6,184.4 178.1,181.5 176.5,176.0 177.3,173.3 182.6,174.7 184.5,174.0 189.6,172.0 193.5,173.8 199.4,171.5 202.8,171.4 206.7,172.7 210.7,171.1 214.5,171.9 216.7,170.9 220,168.3 219.3,163.4 220,159.6 218.7,157.0 219.8,152.6 219.3,150.0 219.1,147.0 221.7,141.7 224.5,141.4 229.5,138.0 231.5,136.7 235.4,135.3 238.3,133.3 242.7,133.3 248,132.5 250.6,132.8 255,131.7 255.7,136.7 258.7,138.6 263.3,141.7 268.4,144.1 270.8,144.9 274.1,148.9 276.6,151.3 281.7,153.3 286.2,153.3 290,156.0 293.1,158.9 296.1,161.6 298.3,165.0 301,168.6 301.1,169.5 305.1,175.2 306.7,176.7 304.8,179.9 304.7,182.8 303.3,186.7 302.5,189.9 302.1,194.5 301.5,197.6 301.7,201.7 305,202.8 306.7,206.7 311.1,208.2 314.4,207.5 320.1,208.4 323.3,210.0 326.3,210.1 331.7,209.4 334.5,210.4 339.9,210.9 343.9,210.4 346.7,211.7 349.5,213.8 354.5,214.9 355.9,215.6 360.1,217.4 364.3,221.0 366.7,221.7 369.1,222.7 374.3,225.5 376.7,226.7 379.3,229.6 378.9,232.7 382.5,236.0 383.3,240.0 384.1,243.1 385.6,246.4 388.3,248.9 388.3,253.3 390.6,254.6 396.9,254.8 399.4,254.7 403.3,253.3 408.7,252.7 412.2,254.7 416,253.9 419,253.6 422.9,252.9 428,253.8 432.8,253.3 437.1,255.4 440,255.0 445.4,256.6 449.5,256.1 451,257.0 455.7,256.0 461.3,257.1 464.7,258.8 469.5,257.4 473.3,258.3 476.3,260.7 480.7,261.7 484,261.3 488.2,264.5 490.9,265.7 496.8,267.0 500.2,265.9 503.4,269.8 506.7,270.0 509.2,269.6 513.8,270.6 518.1,270.8 523.1,269.6 524.8,270.3 530,271.7 532.6,269.1 538.8,270.2 539.9,267.8 544.2,265.9 548.1,265.6 552.5,263.5 555,262.1 558.5,261.5 563.3,260.0 567.9,259.3 569.9,258.4 574.8,259.4 579.9,258.4 583.9,258.9 586.8,257.8 590.9,258.5 594.6,258.2 598.7,256.5 602.9,257.6 606.7,256.7 608.1,253.8 611.8,252.5 616,248.3 618.5,246.9 620,243.3 622.6,241.9 625.5,241.7 630.5,240.7 633.3,238.3 633.5,235.1 632.7,231.2 630.1,227.6 629.2,222.6 630,220.0 633.1,214.7 633.2,211.0 636.7,208.3 641.8,208.7 643.3,212.0 647.6,213.4 653.2,214.7 656.7,215.0 661.4,212.9 664.2,208.9 667.5,208.0 670.6,204.5 673.3,203.3 677.8,204.4 679.5,202.4 684.7,203.7 687.5,201.5 691.3,202.6 696.6,201.8 699.2,201.6 703.3,201.7 704.9,198.5 706,195.7 710.7,192.4 712,188.7 713.3,186.7 717.9,186.1 721.8,184.1 725.3,183.1 730.5,180.3 733.3,180.0 735.9,179.6 742.2,177.8 744.6,177.2 747.6,174.7 751.5,174.5 755.6,172.3 760,172.0 758,170.4 754.2,166.6 752,164.1 749.7,160.0 745.8,157.6 740.5,155.2 737.1,154.6 733,153.3 727.7,154.5 723.8,157.5 720,158.3 714.9,159.5 711.9,158.0 707.9,158.3 705,157.2 700,156.7 697.4,154.0 695,150.0 698,146.4 699.6,144.7 700.8,139.2 702,137.3 705.3,134.7 706.7,130.0 710,125.9 710.2,122.6 713.3,120.0 716.5,121.4 722.7,122.8 725.1,123.6 730,123.3 733.3,121.4 738.5,118.7 740.4,119.3 744.9,116.2 749.7,115.5 753.3,113.3 753,109.5 755.4,106.6 756.7,103.3 757.7,100.0 761.9,95.8 762.5,91.4 763.6,89.5 765,86.6 769.3,80.7 770,78.3M100.7,179.3 106.4,178.3 110.3,178.8 113.3,177.9 118.3,176.7 116,180.4 112.1,183.0 110,185.0 106.7,186.4 100.7,186.7M505,85.0 509,83.1 512.8,83.1 517.3,83.3 520.8,81.1 524.9,81.7 527.4,81.7 532.7,78.7 537.4,78.0 540,78.3 536.2,80.9 533.6,82.4 530.4,84.0 526.1,85.1 522,88.7 520,90.0 517,88.9 513.2,87.1 508,85.9 505,85.0M388.3,253.3 387.8,255.3 385,259.2 383.3,263.3 381.2,265.0 377,267.2 374.7,270.4 371.7,271.7 368.3,275.1 364.5,275.7 361.5,277.5 360.5,281.7 356.7,283.3 353.1,285.0 351.1,289.4 349.6,292.1 346.3,293.0 343.3,296.7 339.7,296.6 336.7,298.3 336.6,302.8 335.5,306.2 337.1,309.9 337,316.8 336,320.0M403.3,253.3 406.3,257.1 406.8,261.9 408.7,267.3 410,270.0 413.1,272.7 415,276.7 410,280.0 413.7,282.6 415.6,286.0 416.5,288.8 421.1,290.6 423.3,293.3 426.7,291.9 429.1,290.9 432,289.6 436.7,288.3 441.6,288.7 445.8,290.8 450,290.0 452,292.3 451.7,296.7 449.7,299.6 444.5,301.3 442.1,302.9 440,306.7 444.3,309.6 447.8,311.1 453.1,310.6 456.7,313.3 461.1,315.3 464.6,317.3 467.4,317.8 471,321.3 474.5,321.4 476.7,323.3M336,320.0 340.9,319.6 343.1,317.9 347.2,318.1 351.5,318.6 356.7,318.3 361.3,319.4 364.5,320.7 368.1,321.2 373.5,322.0 376.7,323.3 379.1,326.4 384,326.7 386.3,329.1 390.3,330.1 391.9,332.0 397.5,333.7 400,336.7 400.4,331.3 400.3,326.8 401.7,323.3 405,323.1 407.5,323.8 411.5,325.8 414.8,325.2 419.5,327.2 423.3,328.3 427.3,325.7 429.7,325.5 431.9,325.9 436.7,323.3 439.2,324.3 443.3,326.8 447.1,329.5 448.9,330.9 454,333.8 456.7,336.7 460.2,340.7 462,345.0 466.8,345.9 468.2,347.3 473.4,349.9 475.5,349.8 480,353.9 483.3,352.5 485.1,354.3 490,357.0 490.3,358.9 491.3,364.1 494,367.0 493.9,370.1 492.8,374.9 490,379.0 492.9,384.3 494,387.0M336.7,321.7 334.3,321.2 328.7,323.9 326.9,323.2 321.2,326.4 317,326.0 313.9,327.8 312,327.2 307.7,329.8 303.3,330.0 301,331.8 297.9,332.9 293.1,334.2 290,336.7 293.1,340.0 293.8,342.4 296.7,346.7 300.7,348.1 304,348.6 306.7,350.0 307.8,352.3 309.5,355.2 310,360.0 306.6,362.4 303.3,363.3 305.5,366.3 306.7,371.7 304.2,376.9 303.3,380.0 299.3,380.6 295.6,378.7 290,378.3 287,380.7 281.7,381.7 277.5,379.3 273.1,377.4 272,374.5 267.2,372.5 263.3,371.7 258.7,374.6 256.7,376.7 252.1,375.6 248,377.6 245.5,375.9 240.6,379.0 236.8,378.0 233.6,378.9 230,378.3 227,380.8 223.4,380.7 219,382.1 217.6,383.9 213.3,386.7 208,389.2 204.6,390.1 200.4,389.9 196.9,392.1 194.2,392.6 190,393.3 186.6,393.2 181.2,391.1 177.3,388.4 173.3,388.3 171,391.9 166.7,395.0 163.9,394.3 159.3,395.3 156.1,394.4 151.2,395.8 146.7,396.2 144.9,396.0 140.9,396.8 136.7,396.7 133.6,399.6 133.7,402.9 130,406.7 125.8,406.1 121.2,407.0 119.3,409.4 115.1,410.8 110,410.0 108.3,408.0 106,403.1 105.1,401.2 101.7,396.7M110,410.0 111.9,413.8 111.9,417.5 113.1,422.9 111.6,426.8 111.8,428.2 113.3,433.3 113.1,436.9 111.7,442.1 109.4,446.6 110,450.0 110.6,454.0 112,459.1 114.5,461.9 115,466.7 116.8,468.8 120.7,470.8 123,475.5 127.6,478.8 130,480.0 134.8,483.3 136.3,483.4 139.4,486.5 143.4,489.0 146.2,492.1 150,493.3 153.3,488.3 156.8,489.4 162.8,491.7 165.2,491.3 170,493.3 174.3,494.5 175.6,498.8 180.1,500.3 182,503.1 186.7,506.7 190.8,507.7 194.8,509.8 196.7,510.0 200.6,511.1 200.8,513.5 204,517.0 206.7,520.0 210.4,520.1 216.7,520.0 217.7,522.8 220.3,527.6 223.3,530.0 227.5,530.4 230.9,532.0 236.7,533.3 240.4,535.0 244.6,536.5 246.7,536.7 249.3,533.4 254.1,533.1 256.7,530.0 260.6,531.5 264.6,530.4 267.4,530.2 272.7,533.4 277.3,532.7 280,533.3 283.8,533.5 287.6,531.4 290,530.0 293.7,530.1 297,529.0 302.6,531.5 306.1,529.7 310,530.0 312.9,533.2 316.7,536.7 320.9,534.9 323.3,533.3 326.3,535.6 326.1,540.0 328,544.4 330.9,547.9 332,548.6 333.3,553.3 337.7,552.6 341.6,551.0 346.5,552.1 350,550.0 352.1,548.3 356.3,545.6 361.2,544.7 363.8,540.2 367.9,538.0 370,536.7 373,536.0 376.1,532.7 381.3,533.0 382.8,529.7 386,527.3 390,526.7 390.9,531.4 393.3,533.3 396.5,531.4 401.3,529.8 406.7,530.0 408.4,527.4 410,523.3 414.3,524.8 417.6,524.1 420,526.7 420.7,532.1 421.4,534.0 424,538.0 425.5,541.3 426.7,546.7 425.2,552.1 424.3,555.9 423.7,560.2 424.5,563.1 423.3,566.7 422.2,568.7 423.3,573.3 421.6,575.7 417.4,581.0 416.9,582.0 413.3,586.7 413.6,590.1 410.7,592.2 410,596.7 410.2,602.6 410.5,604.5 411.7,610.0 414.5,607.8 419,609.0 423.3,606.7 424.3,609.1 429.1,614.9 430,616.7 432.8,619.9 432.2,626.1 434,629.3 434.8,631.3 436.7,636.7 437.9,640.8 440.8,643.6 441.5,646.8 443.3,650.0 446.5,651.8 451,652.5 453.6,656.3 456.7,656.7 461.9,655.7 466.4,657.7 468.2,656.0 473.3,656.7 473.1,651.4 476.1,648.4 476.5,643.5 474.6,641.8 476.7,636.7 482,637.0 486.1,634.5 490,633.3 494.1,634.3 496.8,637.6 500,640.0 501.8,637.9 505.2,635.2 508.2,632.3 511,630.8 515.7,629.4 518.2,626.7 520,623.3 523.4,624.1 527.3,620.8 532,622.0 535.5,621.1 540,620.0 541.6,624.7 544.3,626.6 546.7,630.0 548.4,634.4 551.5,636.7 551.5,640.3 553.3,643.3 555.3,645.1 561,648.1 562,650.4 566.3,652.7 570,653.3M281.7,381.7 281.7,384.6 282.6,390.4 282.7,394.1 283.3,396.7 284.8,400.4 284.4,405.0 285.5,408.8 286.7,413.3 288.8,417.8 290.3,418.9 290.8,423.0 293.3,426.7 297,427.8 298.7,430.6 303.3,433.3 306,433.6 310.1,437.9 313.4,439.0 317.6,441.0 321.2,441.5 323.3,443.3 327.8,442.8 332.4,444.3 335.2,446.5 338.7,445.1 343.3,446.7 348.7,447.5 351,446.4 356.7,448.3 359.6,446.3 364.4,446.3 366.7,446.7 369.3,449.0 373.4,451.8 377,455.2 379.8,456.1 383.3,460.0 388.1,461.8 388.8,462.3 394.1,465.2 396.7,465.0 396.5,460.2 398.8,458.1 400,455.0 404.5,453.2 406.2,449.2 410,446.7 409.1,443.4 406.9,437.4 406.7,433.3 406.6,429.3 407.5,425.7 410,420.0 414.5,421.3 417.6,421.4 423.3,423.3 424.3,427.7 425.7,429.3 426.7,433.3 431.5,435.8 433.4,436.4 436.1,440.5 438.9,441.4 443.3,443.3 448.1,441.8 453,442.3 456.7,440.0 461.1,438.2 462.5,433.7 466.5,431.9 470,430.0 470.7,427.8 472.5,424.3 476.3,418.9 477.9,416.4 477.5,412.4 480,410.0 480.6,406.7 483.7,404.5 487,398.8 487.7,396.5 489,392.8 491.3,390.9 494,387.0M410,446.7 412.8,448.0 415.8,451.5 420.2,453.4 423.3,456.7 425.6,460.0 427.2,465.3 427.4,469.9 430,473.3 430.2,477.2 431.2,481.3 431.2,483.4 432.7,489.6 432.3,492.6 432.1,497.4 433.3,500.0 435,503.6 436.5,510.3 436.7,513.3 435.1,519.3 434.4,521.3 433.3,526.7 437.3,527.9 440,530.0 444.7,530.3 446.8,530.1 453.1,529.9 456.1,531.1 460,530.0 461.3,533.7 463.2,538.4 463.5,539.9 466.7,545.0 466.8,549.7 470,552.3 471.8,556.9 472.6,559.0 473.3,563.3 475.8,563.2 482,561.5 485.2,561.5 488.5,561.3 493.3,560.0 496.8,558.0 498.8,556.8 502.8,555.6 506.7,553.3 510.2,554.1 514.7,555.3 520,556.7 520.2,559.7 518.7,565.0 519.1,569.2 519,572.2 520.1,578.8 521.1,581.7 519.7,584.5 520,590.0 521,592.8 524.7,595.5 526.4,599.9 526.7,603.3 530.7,604.3 536.4,605.7 539.4,608.4 543.3,610.0 541.3,612.5 542.6,617.5 540,620.0M596.7,336.7 599.6,334.8 599.9,331.2 604.1,326.7 605.4,325.9 607.3,322.2 610,318.3 612.9,318.3 617.1,317.3 621.7,316.7 622.6,314.5 624.9,310.0 626,306.4 626.7,303.3 630.9,301.5 633.5,301.4 636.7,300.0 640.5,298.2 644,299.6 648.3,299.5 653.4,299.7 658.6,298.6 661.3,296.2 666,297.8 670,296.7 672.4,291.3 671.2,289.2 673.3,283.3 671.5,280.0 668.3,276.7 671.9,272.7 674.3,271.4 677.4,266.9 680,265.0 681.1,268.1 685.6,269.4 686.7,273.3 689.2,271.0 695.6,271.0 698.6,271.8 703,268.6 706.7,268.3 710.6,264.0 712.7,263.4 716.7,260.0 720.1,257.5 725.6,257.3 730,256.7 733.1,258.8 734.3,263.0 735.9,266.5 736.7,270.0 739.7,272.0 740.9,274.9 745.1,277.0 746.7,280.0 747.5,275.6 748.8,271.1 751.9,267.6 753.3,263.3 757.5,263.8 759.7,264.1 765,266.7 767.3,262.5 770.7,259.3 773.3,256.7 777.8,256.4 781.2,256.2 784.5,254.6 787.6,252.9 792.7,253.6 794.4,254.2 799.5,252.7 803,251.7 806.1,248.6 811.2,246.8 812.6,247.3 815.2,243.9 819.6,241.2 823,240.0 822.9,235.7 818.9,231.9 817.5,228.6 818.7,225.2 816.3,220.0 810.5,221.1 806.8,221.1 803,221.7 801.6,217.4 800.2,214.6 799.3,211.8 799.7,206.7 796.1,204.2 794.3,197.7 793,195.0 797.8,194.9 802,194.6 805.6,193.2 809.8,194.3 814.8,192.6 816.2,194.4 822.8,193.4 826.3,193.7 829.7,193.3 826,191.2 823.3,187.9 819.1,188.0 815.6,185.2 813,183.3 815,180.7 819,179.6 821.3,176.7 819.3,175.5 813.7,173.9 811.3,173.3 807.2,170.3 806,169.2 803,166.7 805.6,163.4 808.5,161.0 813,158.8 817.5,157.4 819.2,154.6 821.6,153.1 826.3,150.0 830.4,146.8 833.6,143.8 836.3,141.7 838.8,138.1 842.1,136.4 846.3,133.3 847.4,130.0 846.5,126.1 848.3,120.9 849,117.1 849.7,113.3 850.5,109.7 853.5,107.3 855.9,102.4 857.5,100.9 858.7,98.1 859.7,93.3 855.3,91.4 854.2,86.6 849.7,85.0 845.8,87.6 840.7,88.6 838.4,88.6 833,90.0 827.6,88.8 825.3,89.1 819.4,88.8 816.9,87.9 811.3,88.3 808.8,86.3 808.6,81.3 808,78.3M673.3,283.3 674.1,286.6 670.7,292.5 670.6,294.5 672,298.5 670,303.3 673.7,305.3 674.4,307.4 677.6,311.0 680,313.3 677.5,316.7 675,321.0 674.7,324.1 672.1,325.3 668.2,329.1 666.7,333.3 665,338.5 666.5,342.2 664.7,343.6 663.6,347.2 664.3,351.7 661.8,357.5 661.7,360.0 662.1,365.0 663.6,368.0 664.3,372.4 666.7,375.0 670.4,375.5 675.2,377.3 678,376.9 682.9,377.6 686.7,380.0 691.1,376.2 693.3,373.3 694.6,369.8 696.8,366.7 700.4,364.0 702.2,360.7 705,359.1 707.2,356.1 709.6,351.2 711,350.3 714.3,345.9 716.7,343.3 720.1,342.7 723,339.6 726.3,336.9 730,336.7 729.3,332.5 728.3,328.2 727.4,324.8 726.7,320.0 723.3,318.1 720.5,314.4 718.2,310.9 716.7,306.7M693.3,303.3 695.3,299.4 698.8,299.0 702.4,296.5 705.5,291.3 706.7,290.0 710.5,289.6 715.8,291.5 719.9,293.4 723.3,293.3 723.1,298.0 721.1,301.8 717.1,307.0 716.7,310.0 718.8,310.4 724.3,312.7 727.2,313.6 730,316.7 728.5,321.3 727.3,324.7 729.3,327.8 728,333.4 726.7,336.7M746.7,280.0 749.1,284.1 751.3,285.2 751.8,290.1 756.1,292.5 756.7,296.7 760.3,293.6 764.4,292.5 766.7,291.2 768.9,289.4 773.3,286.7 778.7,286.6 781.6,283.6 786.7,283.3 788.3,287.2 791.7,288.3 794.6,291.9 796.6,293.5 799.7,296.7 799.2,301.5 796.4,303.4 797,309.4 794.6,312.4 793,316.7 791.9,319.0 787.1,320.5 785.1,324.5 783,326.7 786.8,326.4 791.8,323.2 796,322.0 799.7,320.0 803.4,317.5 806.4,315.0 810.7,311.6 813,310.0 817.9,309.1 822,308.0 825,308.8 829.6,307.7 833,308.3 835.6,304.4 839.9,303.0 843,300.0 843.5,295.7 846.1,294.7 848.9,290.2 850.4,287.1 853,283.3M833,308.3 837.3,310.9 838.2,312.3 842.9,313.2 846.3,316.7 846.2,320.2 843.7,325.1 843.6,328.7 843.4,332.8 841.3,336.7 843,340.0 846.4,340.4 850.9,342.9 854.8,344.5 857.1,345.3 861.4,347.1 866.3,350.0 868.6,353.6 868,357.3 870.5,358.7 871.3,363.3 870.4,366.7 869.5,370.6 865.7,375.1 864.7,380.0 866.1,385.0 865.6,386.9 865.4,392.6 864.7,397.3 866.3,400.0 871.3,401.0 874.9,399.7 879.7,398.3 881.7,397.5 885.3,399.2 889.1,398.8 894,398.8 899.1,397.9 903.3,395.7 906.3,396.7 906.6,392.6 908.2,389.7 910.6,386.2 911.8,382.3 911.1,378.0 913.3,375.1 913.3,370.0 914.7,366.7 913.6,362.0 913,357.4 910.9,355.0 908.2,351.3 907.6,348.6 906.3,343.3 904.7,340.2 901.9,337.8 897,334.3 896.2,331.4 893.2,326.3 889.7,323.3 886.3,320.9 883.8,318.4 882.4,315.8 879.7,312.0 881.8,308.4 885.9,306.5 886.8,303.2 889.7,300.0 892.3,297.6 895.3,293.8 899.4,292.8 901.5,288.2 902.6,286.8 906.3,283.3 909.9,280.4 910.8,277.3 914.4,273.0 917.3,269.9 919.7,266.7 922.8,264.5 926.5,259.5 927.9,259.0 930.8,254.9 933,251.7 938.5,249.7 942.7,250.9 946.3,250.0 950.7,247.8 955,245.5 958.9,244.2 963,243.3 968.2,243.7 970.7,243.0 974.3,241.7 977.5,242.2 983.2,241.3 986.3,240.0 988.4,239.1 991.5,236.4 996.3,233.0 999.4,233.6 1003.4,229.9 1007.3,228.2 1009.7,226.7 1013.7,223.6 1014,222.5 1016.7,217.6 1021.6,214.4 1023.7,213.9 1026.3,210.0 1029.4,207.2 1032.8,206.2 1035.1,203.2 1037.2,200.2 1042.1,199.5 1041.9,194.8 1046.3,193.3M868,78.3 868.8,82.9 870.4,84.7 873.8,88.3 876.1,92.9 876.3,96.7 879.6,101.4 879.6,105.1 882.3,107.1 884.7,111.7 882.5,116.5 883,120.0 886.9,120.4 891.5,121.2 894.1,121.9 897.6,125.3 901.8,124.1 904.7,126.7 908.6,128.4 913,128.3 915,131.1 920,132.6 922.6,132.0 925.3,135.3 928.2,135.5 933,138.3 934.5,143.1 935.4,146.7 935.1,150.5 936.2,153.2 936.3,156.7 939.4,156.4 941.7,158.1 946.3,160.0 950.2,157.5 955.7,157.5 959,157.2 961.5,155.8 966.3,153.3 971.8,151.8 973.3,152.6 979.7,151.8 982.3,150.4 985.5,148.4 990.5,149.2 993.6,148.9 997.5,148.2 1003,146.0 1000.5,150.5 1000.6,154.4 997.9,157.1 996.3,160.0 993.2,163.5 990.1,166.2 989.1,166.2 986.3,170.0 986.3,173.4 982.4,177.3 980.9,181.3 981.6,187.5 979.7,190.0 978,194.4 976.5,197.3 973.1,199.2 971.3,203.3 969.5,206.8 969.7,210.0 964.6,209.5 960.8,207.7 957.3,206.6 953,205.0 949,206.3 947.7,208.3 944.7,212.6 941.3,213.3 941.2,218.4 942.1,222.1 942,225.3 942.7,227.4 942.4,232.3 942.5,236.3 944,240.4 943,243.3 940.6,245.0 936.9,249.3 933,251.7M839.7,201.7 845.2,199.8 847,202.3 851.8,201.0 856.3,200.0 859.9,201.9 862.8,204.7 866.3,206.7 872.8,206.8 876.3,206.7 878.3,209.4 879.2,213.7 879.7,216.7 883.8,219.5 885.1,221.4 890,221.0 892.9,222.2 895.6,226.0 899.7,226.7 902.5,231.1 903.1,232.2 906.3,236.7 909.9,235.3 914.9,233.4 919,232.9 921.7,232.2 926.3,230.0 928.4,232.8 932.1,233.6 936.3,237.6 939.7,240.0 943,243.3M823,240.0 826.7,241.9 831,245.3 833,246.7 835.3,246.9 841,249.8 843,251.7 843.5,254.5 847,258.2 847.6,263.5 849.7,266.7 850.1,271.3 852.7,275.9 852.6,279.5 853,283.3 855.8,281.7 860.1,279.6 863,278.1 865.5,275.9 869.7,273.3 874.5,273.6 875.6,278.1 879.7,278.3 882.9,279.3 888.8,277.0 893,278.3 893.4,271.8 893,268.3 898.5,267.2 903.1,268.4 906.3,266.7 908,263.6 910.8,261.9 913.4,257.1 916.3,256.6 919.5,252.3 923,250.0 926.2,250.7 929.4,252.5 933,251.7M476.7,323.3 480.4,322.4 486.1,320.9 488.2,321.8 492.8,321.2 498.5,318.8 501.2,317.2 507,317.4 510,316.7 510.8,319.1 511.7,324.5 512.6,326.8 515,330.0 512.4,332.6 509.2,334.7 505.3,338.5 503.3,340.0 507.8,342.7 509.2,346.2 512.4,346.5 517,351.0 520.2,351.3 523.3,355.0 528.6,353.1 530.6,354.8 535.9,353.3 537.6,352.7 542.5,349.4 546.7,350.0 549.2,348.0 548.6,343.2 552.9,339.5 553.3,336.7 550.2,334.2 548.1,331.5 546.9,327.7 543.3,323.3 547.3,321.1 550.6,321.0 553.3,319.7 556.7,318.3 555.7,321.1 557.1,325.4 554.2,331.0 555,333.3 557.4,337.2 559.2,338.9 561.5,344.3 563.7,347.9 566.7,350.0 570.1,350.5 573.7,348.5 577.6,347.0 582.8,347.0 586.7,346.7 589.3,342.5 591.1,339.5 595.4,335.4 596.7,333.3 599.1,331.0 602.2,325.9 606.2,322.2 606.3,318.6 610,316.7M625,315.0 623.6,320.1 622,322.4 622.3,325.9 618.8,331.7 617.8,335.3 616.8,339.6 616.7,343.3 617.2,347.1 614.9,351.5 615.6,353.7 613.7,358.5 613.9,362.1 613.3,366.7 614.1,370.0 615.2,374.3 613.5,377.4 613.5,381.8 615,386.7 615.6,390.3 613.7,395.8 614.7,399.1 612,401.7 612.3,405.4 611.7,410.0 613.3,412.5 615.1,417.4 618.2,419.8 620,423.3 621,428.1 622.8,430.8 623.3,436.7 620.4,436.6 615.1,438.1 612.4,436.3 606.3,436.5 603.7,436.3 600,436.7 598.8,440.7 599.3,445.1 600.1,447.5 601,451.7 598.8,455.0 598.7,459.3 600,463.3 603.5,468.0 604.9,468.9 606.7,473.3 609.2,475.1 613,479.1 615.2,481.3 619.8,484.5 623.3,486.7 627.6,488.9 630.3,491.0 633.2,494.6 636.7,496.7 639.5,497.6 645,497.4 648.4,500.1 653.3,500.0 655.5,501.7 658,505.4 661,507.5 663.5,509.8 666.7,513.3 670,511.9 672.1,510.2 676.1,509.7 681.3,505.5 684,504.5 686.7,503.3 688.9,502.4 694.6,500.2 697.1,498.7 700.1,495.8 703.3,493.3 702.1,490.2 701.1,484.4 697.5,481.0 696.7,476.7 698.1,471.8 700,468.8 700,463.3 697.2,460.1 693.3,456.7 692.2,451.6 690.9,447.2 689.6,444.6 686.7,440.0 689.4,436.8 693.7,435.4 696.7,433.3 700.6,429.6 704.5,428.1 706.5,426.5 710,423.3 708.6,419.8 706,416.5 703.6,412.6 703.3,410.0 700.9,407.2 695.4,407.7 692.9,405.1 690.2,404.0 686.1,402.5 683.3,400.0 682.5,397.0 684.1,392.4 684.8,388.7 685.6,384.3 686.7,380.0M615,386.7 618,389.1 623,388.7 626.5,392.3 628.5,391.5 634.2,395.2 635.3,396.1 640,396.7 645.3,394.7 648.8,393.4 652.9,392.7 655.9,390.2 660,390.0 662.1,386.9 662.7,381.1 663.8,378.0 666.7,375.0M726.7,336.7 730.3,340.8 732,344.1 731.8,346.3 735,350.0 740.1,353.3 744,355.5 746.9,357.5 750,359.0 754.2,356.8 756,355.0 758.6,355.8 762.5,357.0 768,359.0 771.6,357.0 773.9,355.1 778,355.0 781.6,354.6 786.3,355.5 788.7,353.1 792.7,354.7 798,353.0 802.4,355.0 806,356.0 806.4,358.0 805,363.0 802.7,364.5 798,367.0 794.9,368.2 791.7,369.4 786.8,370.7 784,373.0 781.7,375.9 778,379.0 773,380.6 770,383.0 768.2,386.6 766,391.0 763.3,395.0 760,397.0 762.1,401.2 762.7,404.8 766.3,407.1 765.2,409.1 769.1,414.8 770,417.0 771.7,421.0 772.1,423.8 773.3,430.5 773.1,433.3 776.1,437.5 776,441.0 778.4,443.4 782.3,448.7 785.5,450.3 787.9,454.7 790,457.0 791.6,460.8 794,463.0 789.7,462.8 784.5,465.0 782,465.0 785.8,466.1 786.7,469.5 790.1,473.2 794,475.0 789.9,477.3 787.9,478.5 785.6,480.8 781.5,483.5 778,484.1 776.5,487.8 772,489.0 775.7,488.6 779.6,487.6 781.5,487.9 787.6,486.2 790,487.0 795.4,488.6 798,491.0 798.2,495.8 794.6,498.1 794,503.0 792.2,508.4 788,511.0 787.9,515.3 786.1,519.8 786,524.0 784,527.0 781.9,531.5 782.4,534.2 778,536.6 778,541.0 776.5,544.8 775.3,549.4 772.6,552.0 770,557.0 768.4,560.9 767.9,564.8 764.3,566.9 764.8,568.9 760.4,572.5 760,576.7 758,579.5 755.3,584.3 752.9,585.3 749.9,590.9 746.7,593.3 744,597.1 741,599.0 737.8,601.5 732.2,603.4 730,606.7 728.5,609.0 724.3,613.4 722.2,615.9 718.8,617.8 714.8,619.6 713.3,623.3 708.3,624.8 705.4,624.7 701.7,626.1 697,627.2 693.3,630.0 689.9,630.6 688,632.9 684.3,634.8 679.4,637.7 676,638.4 673.3,640.0 669.3,642.6 665,640.9 660,643.3 656.5,646.3 654.4,646.2 648.9,647.6 647.4,649.0 644.5,650.9 640,653.3 636.7,655.0 631.5,655.6 628.7,656.0 624.6,658.1 622,658.2 616.7,660.0 612.4,661.1 610.3,662.2 606.7,663.3 611.2,665.8 613.3,670.0 612.2,673.2 610.2,676.5 610,680.0 605,676.7 604.4,672.2 605,669.8 605.1,663.3 603.3,660.0 600,656.7 595.2,658.0 589.9,655.5 586.7,656.7 581.2,658.9 578.4,658.1 573,660.3 570,660.0 568.7,663.3 565.7,665.8 561.1,667.4 558.3,670.1 555.7,672.6 553.3,676.7 549.4,681.2 549.3,684.3 545.4,686.6 543.4,690.9 540.2,693.4 538.3,696.7 538.2,701.9 537.3,703.5 537.2,710.4 536.3,713.7 535.9,716.8 536.7,721.7M585,690.0 589.1,687.1 592.4,686.8 595.9,685.5 600,683.0 604.8,683.6 608.3,686.3 611.5,687.0 615,688.0 616.2,692.7 617.6,695.3 618,700.0 616.5,704.4 613.9,708.7 611.4,711.4 610,715.0 606.2,717.0 601.1,718.8 598,720.0 593.2,717.8 590.5,715.9 587,713.0 586.7,710.1 583.5,705.6 583,700.0 583.6,696.7 583,694.4 585,690.0M773.3,596.7 775.8,593.5 779.4,590.9 782.7,588.6 786.7,586.7 789,589.6 791.9,594.7 793.3,596.7 793.9,600.3 792.5,605.4 792,608.4 789.7,613.5 790,616.7 789,620.1 787.6,623.0 786.6,629.3 785.7,630.7 783.4,636.5 780.4,639.8 780,643.3 776.8,639.1 774.1,636.0 773.3,633.3 773.1,629.4 771.7,626.4 768.5,621.9 768.3,616.7 770.5,613.1 769.8,607.7 771.1,604.3 771.6,601.2 773.3,596.7M773.3,716.7 777.1,714.3 779,713.3 784,712.2 786.7,710.0 791.6,711.8 796.3,711.0 800,711.7 801.8,715.5 801.7,717.4 803.3,721.7M193.3,721.7 195.9,719.9 199.9,716.1 202.2,712.9 205,711.7 207,707.9 209.1,705.4 208.6,702.1 210.7,698.4 213.3,693.3 218.9,690.8 221,688.9 227.1,689.1 230,686.7 233.1,683.7 232.9,679.7 234.6,674.5 236.4,671.7 237.8,667.4 240,663.3 243,661.7 245.5,658.1 248.5,655.7 251.8,652.1 252.9,649.4 256.7,648.3 258.6,652.1 261.4,654.3 263.3,656.7 268.8,657.0 271,654.6 275.9,654.0 280.3,652.9 283.8,654.2 287.6,651.9 293.3,651.4 296.7,651.7 300.6,649.0 303.2,645.8 304.6,642.0 306,641.1 310,636.7 312.5,637.1 316.7,640.0 319.1,644.0 319.1,649.0 320.7,650.9 320.4,656.0 322.7,658.6 323.3,663.3 324.8,666.7 326.4,670.9 330.5,672.3 332.5,676.9 333.2,679.8 336.7,683.3 339.8,686.5 341.8,689.2 344.8,693.8 345.7,695.2 347.4,698.5 350,703.3 351.8,706.0 353.2,710.1 354.9,713.7 358,716.9 360,721.7M916,435.0 919.2,433.8 922.7,431.4 923.8,428.0 928,425.0 930.8,425.5 935.2,424.1 939.6,421.5 941.2,422.7 946,421.0 949,424.8 948.6,427.6 952,433.0 952.9,437.1 951.6,440.5 952.9,442.0 952,447.0 951.5,452.4 950.7,456.2 948.2,459.3 946,463.9 946,467.0 943.1,469.4 938,471.4 936,475.0 932.4,474.9 929.2,473.4 926,471.0 925.6,466.3 926.2,462.4 928.4,458.6 928,455.0 928.1,452.2 929.2,449.5 930,445.0 927.3,444.7 923.1,442.0 920,441.0 917.9,439.5 916,435.0M938,421.0 942.3,418.2 944,413.7 948.1,412.3 950,409.0 952.9,405.6 956.3,404.8 958.9,401.1 962.8,399.4 966,397.0 968.5,394.3 973.6,394.8 977.6,391.3 981.2,390.5 986,390.0 990.8,388.7 995.4,388.4 997,387.1 1002,388.0 1006.8,388.0 1010,387.0 1012.6,383.2 1016.3,381.2 1016.7,378.5 1020,377.0 1022.4,374.0 1023.7,369.4 1025,367.0 1029.2,362.1 1029.9,360.6 1033.5,355.3 1035,353.0 1036.5,357.1 1035.6,359.5 1036.4,363.3 1035,367.0 1038.7,365.9 1042.5,361.0 1043.6,358.6 1048,357.0M960,417.0 962.4,417.2 967.1,414.9 970.1,414.0 974,413.0 977.8,414.5 981.7,415.7 987,416.5 990.7,415.2 994,417.0 996.3,415.5 998.6,412.2 1000.6,410.5 1004,407.0 1006.5,405.6 1010,405.0 1010.3,407.8 1007.2,412.8 1008,417.0 1009.8,419.3 1011.7,424.8 1015.2,428.8 1016,431.0 1019.3,426.1 1020.4,423.6 1021.8,421.0 1024.9,417.4 1028,413.0 1029.9,409.0 1030.2,406.2 1032,403.0 1035.1,403.5 1040,407.0 1042.8,403.9 1045.3,403.2 1049,400.0M520,590.0 524.5,589.3 526.2,589.8 530.7,587.4 536,589.3 538.3,587.8 544,587.2 546.7,586.7 550.4,584.0 553.6,584.5 560.1,580.7 563.3,580.0 567.6,579.9 571.8,581.3 575.6,582.6 577.6,583.5 583.3,582.8 586.7,585.0 588.6,581.4 594,580.6 596.5,577.3 600,573.3 604,571.0 606.5,571.0 609.9,568.3 614,565.6 616.5,565.0 620,563.3 621.9,567.2 622.7,569.9 624.9,572.2 626.7,576.7 630.2,580.7 632.2,581.8 634.3,584.5 637,586.7 640,590.0 645.3,588.3 647.1,587.8 650.5,585.5 656.2,585.6 660,583.3 662.7,580.3 668.1,578.5 669.7,578.4 673.3,576.7 677.6,579.1 678.2,581.8 681.5,584.2 685.9,588.2 688.3,590.3 690.9,595.1 693.3,596.7 696.4,597.5 700.5,596.2 706.3,594.9 710.2,594.1 712.6,595.1 716.7,593.3 717.7,596.0 717,601.4 718.2,604.0 720.3,608.8 720,613.3 720.1,616.2 716.9,619.7 716.7,623.3M640,590.0 640,595.0 638.3,596.9 637.2,600.7 635.8,603.8 633.8,610.4 635.1,612.1 633.3,616.7 632.3,619.3 631.6,625.0 630,628.5 627.8,633.6 626.7,636.7 622.8,637.1 618.8,641.3 616,640.3 613.3,643.3 611,645.5 608.1,650.8 605,653.1 603.3,656.7M673.3,576.7 673.9,573.8 673.1,567.3 672.7,564.9 669.6,562.2 670,556.7 668,554.0 666.9,547.1 667.4,544.5 666.7,540.0 668.1,537.6 667.7,534.0 670,530.0 668.6,527.2 668.7,522.2 666.4,518.7 666.7,513.3M716.7,593.3 713.6,589.1 711.5,587.5 708.7,583.2 706.7,580.0 708.9,575.9 709.4,573.1 713,570.5 713.4,567.2 717.2,564.0 717.1,558.7 720,556.7 724.8,555.1 726,553.0 730.2,550.4 732.9,548.3 736.3,545.2 740,543.3 741.1,540.7 744.4,536.0 743.7,532.6 746.7,530.0 749.5,525.8 749.4,523.5 752.7,517.5 755,515.0 757.9,511.8 760.3,509.5 762.3,506.4 763.2,502.9 765.6,499.2 766.9,495.9 768.6,493.3 772,489.0M586.7,530.0 587.4,533.5 591.1,537.6 592.8,539.8 592.1,544.8 594.4,547.8 596.7,550.0 597,553.7 597.9,557.9 599.2,561.9 597.9,565.6 598.2,570.5 600,573.3M620,563.3 620.7,559.6 623.6,556.2 626.2,554.2 626.7,550.0 630.2,548.4 635.4,547.4 639.1,545.5 642.9,544.9 646.7,543.3 651.9,542.2 655.6,541.1 658.1,540.5 664,539.4 666.7,540.0M586.7,530.0 584.9,525.7 585.1,522.2 582.2,517.2 582.9,512.3 580,510.1 580,505.0 581.8,501.2 585.7,501.0 589.5,497.3 593.5,496.2 595.3,491.6 600,490.0 601.4,486.3 602.2,481.5 605.2,476.2 606.7,473.3M494,387.0 496.7,388.3 501.6,390.7 502.6,395.1 506,397.6 510,400.0 513.5,400.5 518.2,397.6 521,396.9 526.8,396.6 530,395.0 533.9,397.5 538,399.7 540.1,403.9 544.2,404.9 547.6,408.3 550,410.0 553,411.1 557.9,412.5 560.3,414.4 563,415.0 569.3,416.4 572.3,417.1 575,420.0 577.5,422.1 580.7,425.5 585.7,425.7 586.4,429.6 591.5,430.5 592.4,431.1 597.4,435.2 600,436.7M703.3,493.3 707.4,494.5 711,496.3 715.6,498.7 720,500.0 722.7,497.5 725.2,496.5 730.3,493.1 732.8,492.4 735,490.0 737.2,490.9 742,492.9 742.9,494.8 747.9,497.6 750,500.0 751.5,497.3 756.1,495.9 757.9,495.0 762.6,491.3 765,490.0 766.6,486.1 767.8,484.1 770.7,481.1 774.5,477.0 775,474.0 777.7,469.9 779.5,467.6 782,465.0M710,423.3 712.8,425.6 718.6,425.9 720.7,428.0 725.6,429.8 730,430.0 733.4,427.2 736.8,426.3 738.6,424.9 741.5,420.9 745,420.0 747.8,419.8 752.7,418.0 756.1,419.3 761,419.1 767,418.5 770,417.0M730,430.0 730,435.5 732,439.4 733.7,442.0 733,447.9 733.5,449.6 735,455.0 736.6,458.2 740.4,462.3 742.5,463.7 747.6,467.3 750,470.0 749.7,474.2 748.6,478.9 747.3,481.6 745,485.0 745.9,488.8 746.7,491.8 748.8,496.1 750,500.0"/>
<rect x="285.0" y="71.2" width="10.0" height="15.5" fill="#fff"/>
<text x="286.0" y="84.8" font-size="17" font-weight="bold" fill="#f02828" textLength="8.0" lengthAdjust="spacingAndGlyphs">4</text>
<rect x="395.0" y="74.2" width="10.0" height="15.5" fill="#fff"/>
<text x="396.0" y="87.8" font-size="17" font-weight="bold" fill="#f02828" textLength="8.0" lengthAdjust="spacingAndGlyphs">4</text>
<rect x="449.0" y="84.2" width="10.0" height="15.5" fill="#fff"/>
<text x="450.0" y="97.8" font-size="17" font-weight="bold" fill="#f02828" textLength="8.0" lengthAdjust="spacingAndGlyphs">4</text>
<rect x="290.0" y="111.2" width="10.0" height="15.5" fill="#fff"/>
<text x="291.0" y="124.8" font-size="17" font-weight="bold" fill="#f02828" textLength="8.0" lengthAdjust="spacingAndGlyphs">8</text>
<rect x="219.0" y="125.2" width="10.0" height="15.5" fill="#fff"/>
<text x="220.0" y="138.8" font-size="17" font-weight="bold" fill="#f02828" textLength="8.0" lengthAdjust="spacingAndGlyphs">8</text>
<rect x="214.5" y="134.2" width="19.0" height="15.5" fill="#fff"/>
<text x="215.5" y="147.8" font-size="17" font-weight="bold" fill="#f02828" textLength="17.0" lengthAdjust="spacingAndGlyphs">12</text>
<rect x="173.5" y="155.2" width="19.0" height="15.5" fill="#fff"/>
<text x="174.5" y="168.8" font-size="17" font-weight="bold" fill="#f02828" textLength="17.0" lengthAdjust="spacingAndGlyphs">12</text>
<rect x="337.5" y="159.2" width="19.0" height="15.5" fill="#fff"/>
<text x="338.5" y="172.8" font-size="17" font-weight="bold" fill="#f02828" textLength="17.0" lengthAdjust="spacingAndGlyphs">12</text>
<rect x="313.0" y="171.2" width="10.0" height="15.5" fill="#fff"/>
<text x="314.0" y="184.8" font-size="17" font-weight="bold" fill="#f02828" textLength="8.0" lengthAdjust="spacingAndGlyphs">4</text>
<rect x="435.0" y="172.2" width="10.0" height="15.5" fill="#fff"/>
<text x="436.0" y="185.8" font-size="17" font-weight="bold" fill="#f02828" textLength="8.0" lengthAdjust="spacingAndGlyphs">4</text>
<rect x="426.0" y="181.2" width="10.0" height="15.5" fill="#fff"/>
<text x="427.0" y="194.8" font-size="17" font-weight="bold" fill="#f02828" textLength="8.0" lengthAdjust="spacingAndGlyphs">8</text>
<rect x="526.0" y="168.2" width="10.0" height="15.5" fill="#fff"/>
<text x="527.0" y="181.8" font-size="17" font-weight="bold" fill="#f02828" textLength="8.0" lengthAdjust="spacingAndGlyphs">8</text>
<rect x="151.5" y="188.2" width="19.0" height="15.5" fill="#fff"/>
<text x="152.5" y="201.8" font-size="17" font-weight="bold" fill="#f02828" textLength="17.0" lengthAdjust="spacingAndGlyphs">16</text>
<rect x="170.5" y="198.2" width="19.0" height="15.5" fill="#fff"/>
<text x="171.5" y="211.8" font-size="17" font-weight="bold" fill="#f02828" textLength="17.0" lengthAdjust="spacingAndGlyphs">16</text>
<rect x="262.5" y="188.2" width="19.0" height="15.5" fill="#fff"/>
<text x="263.5" y="201.8" font-size="17" font-weight="bold" fill="#f02828" textLength="17.0" lengthAdjust="spacingAndGlyphs">16</text>
<rect x="118.0" y="213.2" width="10.0" height="15.5" fill="#fff"/>
<text x="119.0" y="226.8" font-size="17" font-weight="bold" fill="#f02828" textLength="8.0" lengthAdjust="spacingAndGlyphs">8</text>
<rect x="131.5" y="215.2" width="19.0" height="15.5" fill="#fff"/>
<text x="132.5" y="228.8" font-size="17" font-weight="bold" fill="#f02828" textLength="17.0" lengthAdjust="spacingAndGlyphs">12</text>
<rect x="181.0" y="214.2" width="10.0" height="15.5" fill="#fff"/>
<text x="182.0" y="227.8" font-size="17" font-weight="bold" fill="#f02828" textLength="8.0" lengthAdjust="spacingAndGlyphs">8</text>
<rect x="203.0" y="223.2" width="10.0" height="15.5" fill="#fff"/>
<text x="204.0" y="236.8" font-size="17" font-weight="bold" fill="#2020e0" textLength="8.0" lengthAdjust="spacingAndGlyphs">0</text>
<rect x="242.5" y="227.2" width="19.0" height="15.5" fill="#fff"/>
<text x="243.5" y="240.8" font-size="17" font-weight="bold" fill="#f02828" textLength="17.0" lengthAdjust="spacingAndGlyphs">12</text>
<rect x="299.5" y="225.2" width="19.0" height="15.5" fill="#fff"/>
<text x="300.5" y="238.8" font-size="17" font-weight="bold" fill="#f02828" textLength="17.0" lengthAdjust="spacingAndGlyphs">12</text>
<rect x="280.5" y="238.2" width="19.0" height="15.5" fill="#fff"/>
<text x="281.5" y="251.8" font-size="17" font-weight="bold" fill="#f02828" textLength="17.0" lengthAdjust="spacingAndGlyphs">16</text>
<rect x="421.5" y="221.2" width="19.0" height="15.5" fill="#fff"/>
<text x="422.5" y="234.8" font-size="17" font-weight="bold" fill="#f02828" textLength="17.0" lengthAdjust="spacingAndGlyphs">12</text>
<rect x="401.5" y="256.2" width="19.0" height="15.5" fill="#fff"/>
<text x="402.5" y="269.8" font-size="17" font-weight="bold" fill="#f02828" textLength="17.0" lengthAdjust="spacingAndGlyphs">12</text>
<rect x="119.0" y="263.2" width="10.0" height="15.5" fill="#fff"/>
<text x="120.0" y="276.8" font-size="17" font-weight="bold" fill="#f02828" textLength="8.0" lengthAdjust="spacingAndGlyphs">4</text>
<rect x="133.5" y="271.2" width="19.0" height="15.5" fill="#fff"/>
<text x="134.5" y="284.8" font-size="17" font-weight="bold" fill="#f02828" textLength="17.0" lengthAdjust="spacingAndGlyphs">16</text>
<rect x="88.5" y="293.2" width="19.0" height="15.5" fill="#fff"/>
<text x="89.5" y="306.8" font-size="17" font-weight="bold" fill="#f02828" textLength="17.0" lengthAdjust="spacingAndGlyphs">12</text>
<rect x="152.5" y="306.2" width="19.0" height="15.5" fill="#fff"/>
<text x="153.5" y="319.8" font-size="17" font-weight="bold" fill="#f02828" textLength="17.0" lengthAdjust="spacingAndGlyphs">16</text>
<rect x="390.0" y="299.2" width="10.0" height="15.5" fill="#fff"/>
<text x="391.0" y="312.8" font-size="17" font-weight="bold" fill="#f02828" textLength="8.0" lengthAdjust="spacingAndGlyphs">8</text>
<rect x="388.5" y="291.2" width="19.0" height="15.5" fill="#fff"/>
<text x="389.5" y="304.8" font-size="17" font-weight="bold" fill="#f02828" textLength="17.0" lengthAdjust="spacingAndGlyphs">12</text>
<rect x="341.0" y="307.2" width="10.0" height="15.5" fill="#fff"/>
<text x="342.0" y="320.8" font-size="17" font-weight="bold" fill="#f02828" textLength="8.0" lengthAdjust="spacingAndGlyphs">4</text>
<rect x="420.0" y="314.2" width="10.0" height="15.5" fill="#fff"/>
<text x="421.0" y="327.8" font-size="17" font-weight="bold" fill="#2020e0" textLength="8.0" lengthAdjust="spacingAndGlyphs">0</text>
<rect x="242.5" y="318.2" width="19.0" height="15.5" fill="#fff"/>
<text x="243.5" y="331.8" font-size="17" font-weight="bold" fill="#f02828" textLength="17.0" lengthAdjust="spacingAndGlyphs">16</text>
<rect x="235.0" y="338.2" width="10.0" height="15.5" fill="#fff"/>
<text x="236.0" y="351.8" font-size="17" font-weight="bold" fill="#2020e0" textLength="8.0" lengthAdjust="spacingAndGlyphs">0</text>
<rect x="221.5" y="352.2" width="19.0" height="15.5" fill="#fff"/>
<text x="222.5" y="365.8" font-size="17" font-weight="bold" fill="#f02828" textLength="17.0" lengthAdjust="spacingAndGlyphs">−4</text>
<rect x="388.0" y="352.2" width="10.0" height="15.5" fill="#fff"/>
<text x="389.0" y="365.8" font-size="17" font-weight="bold" fill="#f02828" textLength="8.0" lengthAdjust="spacingAndGlyphs">8</text>
<rect x="460.0" y="353.2" width="10.0" height="15.5" fill="#fff"/>
<text x="461.0" y="366.8" font-size="17" font-weight="bold" fill="#f02828" textLength="8.0" lengthAdjust="spacingAndGlyphs">4</text>
<rect x="366.0" y="373.2" width="10.0" height="15.5" fill="#fff"/>
<text x="367.0" y="386.8" font-size="17" font-weight="bold" fill="#f02828" textLength="8.0" lengthAdjust="spacingAndGlyphs">4</text>
<rect x="523.5" y="378.2" width="19.0" height="15.5" fill="#fff"/>
<text x="524.5" y="391.8" font-size="17" font-weight="bold" fill="#f02828" textLength="17.0" lengthAdjust="spacingAndGlyphs">12</text>
<rect x="532.5" y="412.2" width="19.0" height="15.5" fill="#fff"/>
<text x="533.5" y="425.8" font-size="17" font-weight="bold" fill="#f02828" textLength="17.0" lengthAdjust="spacingAndGlyphs">16</text>
<rect x="539.5" y="280.2" width="19.0" height="15.5" fill="#fff"/>
<text x="540.5" y="293.8" font-size="17" font-weight="bold" fill="#f02828" textLength="17.0" lengthAdjust="spacingAndGlyphs">12</text>
<rect x="177.0" y="418.2" width="10.0" height="15.5" fill="#fff"/>
<text x="178.0" y="431.8" font-size="17" font-weight="bold" fill="#2020e0" textLength="8.0" lengthAdjust="spacingAndGlyphs">0</text>
<rect x="770.0" y="76.2" width="10.0" height="15.5" fill="#fff"/>
<text x="771.0" y="89.8" font-size="17" font-weight="bold" fill="#2020e0" textLength="8.0" lengthAdjust="spacingAndGlyphs">0</text>
<rect x="757.0" y="94.2" width="10.0" height="15.5" fill="#fff"/>
<text x="758.0" y="107.8" font-size="17" font-weight="bold" fill="#f02828" textLength="8.0" lengthAdjust="spacingAndGlyphs">4</text>
<rect x="940.0" y="94.2" width="10.0" height="15.5" fill="#fff"/>
<text x="941.0" y="107.8" font-size="17" font-weight="bold" fill="#2020e0" textLength="8.0" lengthAdjust="spacingAndGlyphs">0</text>
<rect x="1019.5" y="112.2" width="19.0" height="15.5" fill="#fff"/>
<text x="1020.5" y="125.8" font-size="17" font-weight="bold" fill="#f02828" textLength="17.0" lengthAdjust="spacingAndGlyphs">12</text>
<rect x="952.0" y="123.2" width="10.0" height="15.5" fill="#fff"/>
<text x="953.0" y="136.8" font-size="17" font-weight="bold" fill="#f02828" textLength="8.0" lengthAdjust="spacingAndGlyphs">4</text>
<rect x="940.0" y="138.2" width="10.0" height="15.5" fill="#fff"/>
<text x="941.0" y="151.8" font-size="17" font-weight="bold" fill="#f02828" textLength="8.0" lengthAdjust="spacingAndGlyphs">8</text>
<rect x="567.0" y="147.2" width="10.0" height="15.5" fill="#fff"/>
<text x="568.0" y="160.8" font-size="17" font-weight="bold" fill="#f02828" textLength="8.0" lengthAdjust="spacingAndGlyphs">4</text>
<rect x="820.5" y="142.2" width="19.0" height="15.5" fill="#fff"/>
<text x="821.5" y="155.8" font-size="17" font-weight="bold" fill="#f02828" textLength="17.0" lengthAdjust="spacingAndGlyphs">12</text>
<rect x="814.5" y="157.2" width="19.0" height="15.5" fill="#fff"/>
<text x="815.5" y="170.8" font-size="17" font-weight="bold" fill="#f02828" textLength="17.0" lengthAdjust="spacingAndGlyphs">16</text>
<rect x="757.0" y="163.2" width="10.0" height="15.5" fill="#fff"/>
<text x="758.0" y="176.8" font-size="17" font-weight="bold" fill="#f02828" textLength="8.0" lengthAdjust="spacingAndGlyphs">8</text>
<rect x="615.0" y="178.2" width="10.0" height="15.5" fill="#fff"/>
<text x="616.0" y="191.8" font-size="17" font-weight="bold" fill="#f02828" textLength="8.0" lengthAdjust="spacingAndGlyphs">8</text>
<rect x="610.5" y="187.2" width="19.0" height="15.5" fill="#fff"/>
<text x="611.5" y="200.8" font-size="17" font-weight="bold" fill="#f02828" textLength="17.0" lengthAdjust="spacingAndGlyphs">12</text>
<rect x="704.5" y="200.2" width="19.0" height="15.5" fill="#fff"/>
<text x="705.5" y="213.8" font-size="17" font-weight="bold" fill="#f02828" textLength="17.0" lengthAdjust="spacingAndGlyphs">12</text>
<rect x="884.5" y="210.2" width="19.0" height="15.5" fill="#fff"/>
<text x="885.5" y="223.8" font-size="17" font-weight="bold" fill="#f02828" textLength="17.0" lengthAdjust="spacingAndGlyphs">12</text>
<rect x="968.5" y="233.2" width="19.0" height="15.5" fill="#fff"/>
<text x="969.5" y="246.8" font-size="17" font-weight="bold" fill="#f02828" textLength="17.0" lengthAdjust="spacingAndGlyphs">12</text>
<rect x="965.5" y="243.2" width="19.0" height="15.5" fill="#fff"/>
<text x="966.5" y="256.8" font-size="17" font-weight="bold" fill="#f02828" textLength="17.0" lengthAdjust="spacingAndGlyphs">16</text>
<rect x="957.5" y="266.2" width="19.0" height="15.5" fill="#fff"/>
<text x="958.5" y="279.8" font-size="17" font-weight="bold" fill="#f02828" textLength="17.0" lengthAdjust="spacingAndGlyphs">20</text>
<rect x="778.5" y="278.2" width="19.0" height="15.5" fill="#fff"/>
<text x="779.5" y="291.8" font-size="17" font-weight="bold" fill="#f02828" textLength="17.0" lengthAdjust="spacingAndGlyphs">20</text>
<rect x="727.5" y="287.2" width="19.0" height="15.5" fill="#fff"/>
<text x="728.5" y="300.8" font-size="17" font-weight="bold" fill="#f02828" textLength="17.0" lengthAdjust="spacingAndGlyphs">16</text>
<rect x="869.5" y="292.2" width="19.0" height="15.5" fill="#fff"/>
<text x="870.5" y="305.8" font-size="17" font-weight="bold" fill="#f02828" textLength="17.0" lengthAdjust="spacingAndGlyphs">12</text>
<rect x="767.5" y="338.2" width="19.0" height="15.5" fill="#fff"/>
<text x="768.5" y="351.8" font-size="17" font-weight="bold" fill="#f02828" textLength="17.0" lengthAdjust="spacingAndGlyphs">20</text>
<rect x="896.5" y="360.2" width="19.0" height="15.5" fill="#fff"/>
<text x="897.5" y="373.8" font-size="17" font-weight="bold" fill="#f02828" textLength="17.0" lengthAdjust="spacingAndGlyphs">16</text>
<rect x="637.5" y="366.2" width="19.0" height="15.5" fill="#fff"/>
<text x="638.5" y="379.8" font-size="17" font-weight="bold" fill="#f02828" textLength="17.0" lengthAdjust="spacingAndGlyphs">12</text>
<rect x="638.5" y="379.2" width="19.0" height="15.5" fill="#fff"/>
<text x="639.5" y="392.8" font-size="17" font-weight="bold" fill="#f02828" textLength="17.0" lengthAdjust="spacingAndGlyphs">16</text>
<rect x="986.5" y="372.2" width="19.0" height="15.5" fill="#fff"/>
<text x="987.5" y="385.8" font-size="17" font-weight="bold" fill="#f02828" textLength="17.0" lengthAdjust="spacingAndGlyphs">24</text>
<rect x="870.5" y="391.2" width="19.0" height="15.5" fill="#fff"/>
<text x="871.5" y="404.8" font-size="17" font-weight="bold" fill="#f02828" textLength="17.0" lengthAdjust="spacingAndGlyphs">20</text>
<rect x="860.5" y="404.2" width="19.0" height="15.5" fill="#fff"/>
<text x="861.5" y="417.8" font-size="17" font-weight="bold" fill="#f02828" textLength="17.0" lengthAdjust="spacingAndGlyphs">24</text>
<rect x="982.5" y="390.2" width="19.0" height="15.5" fill="#fff"/>
<text x="983.5" y="403.8" font-size="17" font-weight="bold" fill="#f02828" textLength="17.0" lengthAdjust="spacingAndGlyphs">12</text>
<rect x="972.5" y="400.2" width="19.0" height="15.5" fill="#fff"/>
<text x="973.5" y="413.8" font-size="17" font-weight="bold" fill="#f02828" textLength="17.0" lengthAdjust="spacingAndGlyphs">20</text>
<rect x="300.0" y="424.2" width="10.0" height="15.5" fill="#fff"/>
<text x="301.0" y="437.8" font-size="17" font-weight="bold" fill="#2020e0" textLength="8.0" lengthAdjust="spacingAndGlyphs">0</text>
<rect x="228.0" y="433.2" width="10.0" height="15.5" fill="#fff"/>
<text x="229.0" y="446.8" font-size="17" font-weight="bold" fill="#f02828" textLength="8.0" lengthAdjust="spacingAndGlyphs">4</text>
<rect x="385.0" y="427.2" width="10.0" height="15.5" fill="#fff"/>
<text x="386.0" y="440.8" font-size="17" font-weight="bold" fill="#f02828" textLength="8.0" lengthAdjust="spacingAndGlyphs">4</text>
<rect x="365.0" y="445.2" width="10.0" height="15.5" fill="#fff"/>
<text x="366.0" y="458.8" font-size="17" font-weight="bold" fill="#f02828" textLength="8.0" lengthAdjust="spacingAndGlyphs">4</text>
<rect x="429.0" y="466.2" width="10.0" height="15.5" fill="#fff"/>
<text x="430.0" y="479.8" font-size="17" font-weight="bold" fill="#f02828" textLength="8.0" lengthAdjust="spacingAndGlyphs">4</text>
<rect x="195.0" y="470.2" width="10.0" height="15.5" fill="#fff"/>
<text x="196.0" y="483.8" font-size="17" font-weight="bold" fill="#f02828" textLength="8.0" lengthAdjust="spacingAndGlyphs">4</text>
<rect x="282.0" y="476.2" width="10.0" height="15.5" fill="#fff"/>
<text x="283.0" y="489.8" font-size="17" font-weight="bold" fill="#f02828" textLength="8.0" lengthAdjust="spacingAndGlyphs">4</text>
<rect x="482.0" y="469.2" width="10.0" height="15.5" fill="#fff"/>
<text x="483.0" y="482.8" font-size="17" font-weight="bold" fill="#f02828" textLength="8.0" lengthAdjust="spacingAndGlyphs">8</text>
<rect x="180.5" y="526.2" width="19.0" height="15.5" fill="#fff"/>
<text x="181.5" y="539.8" font-size="17" font-weight="bold" fill="#f02828" textLength="17.0" lengthAdjust="spacingAndGlyphs">24</text>
<rect x="236.0" y="527.2" width="10.0" height="15.5" fill="#fff"/>
<text x="237.0" y="540.8" font-size="17" font-weight="bold" fill="#f02828" textLength="8.0" lengthAdjust="spacingAndGlyphs">4</text>
<rect x="257.5" y="535.2" width="19.0" height="15.5" fill="#fff"/>
<text x="258.5" y="548.8" font-size="17" font-weight="bold" fill="#f02828" textLength="17.0" lengthAdjust="spacingAndGlyphs">12</text>
<rect x="320.0" y="530.2" width="10.0" height="15.5" fill="#fff"/>
<text x="321.0" y="543.8" font-size="17" font-weight="bold" fill="#f02828" textLength="8.0" lengthAdjust="spacingAndGlyphs">8</text>
<rect x="310.5" y="539.2" width="19.0" height="15.5" fill="#fff"/>
<text x="311.5" y="552.8" font-size="17" font-weight="bold" fill="#f02828" textLength="17.0" lengthAdjust="spacingAndGlyphs">16</text>
<rect x="370.5" y="523.2" width="19.0" height="15.5" fill="#fff"/>
<text x="371.5" y="536.8" font-size="17" font-weight="bold" fill="#f02828" textLength="17.0" lengthAdjust="spacingAndGlyphs">24</text>
<rect x="400.5" y="533.2" width="19.0" height="15.5" fill="#fff"/>
<text x="401.5" y="546.8" font-size="17" font-weight="bold" fill="#f02828" textLength="17.0" lengthAdjust="spacingAndGlyphs">20</text>
<rect x="440.5" y="547.2" width="19.0" height="15.5" fill="#fff"/>
<text x="441.5" y="560.8" font-size="17" font-weight="bold" fill="#f02828" textLength="17.0" lengthAdjust="spacingAndGlyphs">12</text>
<rect x="244.5" y="553.2" width="19.0" height="15.5" fill="#fff"/>
<text x="245.5" y="566.8" font-size="17" font-weight="bold" fill="#f02828" textLength="17.0" lengthAdjust="spacingAndGlyphs">28</text>
<rect x="396.5" y="569.2" width="19.0" height="15.5" fill="#fff"/>
<text x="397.5" y="582.8" font-size="17" font-weight="bold" fill="#f02828" textLength="17.0" lengthAdjust="spacingAndGlyphs">24</text>
<rect x="513.5" y="533.2" width="19.0" height="15.5" fill="#fff"/>
<text x="514.5" y="546.8" font-size="17" font-weight="bold" fill="#f02828" textLength="17.0" lengthAdjust="spacingAndGlyphs">20</text>
<rect x="357.5" y="597.2" width="19.0" height="15.5" fill="#fff"/>
<text x="358.5" y="610.8" font-size="17" font-weight="bold" fill="#f02828" textLength="17.0" lengthAdjust="spacingAndGlyphs">24</text>
<rect x="150.5" y="593.2" width="19.0" height="15.5" fill="#fff"/>
<text x="151.5" y="606.8" font-size="17" font-weight="bold" fill="#f02828" textLength="17.0" lengthAdjust="spacingAndGlyphs">28</text>
<rect x="496.5" y="595.2" width="19.0" height="15.5" fill="#fff"/>
<text x="497.5" y="608.8" font-size="17" font-weight="bold" fill="#f02828" textLength="17.0" lengthAdjust="spacingAndGlyphs">16</text>
<rect x="435.5" y="619.2" width="19.0" height="15.5" fill="#fff"/>
<text x="436.5" y="632.8" font-size="17" font-weight="bold" fill="#f02828" textLength="17.0" lengthAdjust="spacingAndGlyphs">16</text>
<rect x="296.5" y="622.2" width="19.0" height="15.5" fill="#fff"/>
<text x="297.5" y="635.8" font-size="17" font-weight="bold" fill="#f02828" textLength="17.0" lengthAdjust="spacingAndGlyphs">28</text>
<rect x="499.5" y="635.2" width="19.0" height="15.5" fill="#fff"/>
<text x="500.5" y="648.8" font-size="17" font-weight="bold" fill="#f02828" textLength="17.0" lengthAdjust="spacingAndGlyphs">20</text>
<rect x="341.5" y="659.2" width="19.0" height="15.5" fill="#fff"/>
<text x="342.5" y="672.8" font-size="17" font-weight="bold" fill="#f02828" textLength="17.0" lengthAdjust="spacingAndGlyphs">20</text>
<rect x="470.5" y="670.2" width="19.0" height="15.5" fill="#fff"/>
<text x="471.5" y="683.8" font-size="17" font-weight="bold" fill="#f02828" textLength="17.0" lengthAdjust="spacingAndGlyphs">20</text>
<rect x="545.5" y="450.2" width="19.0" height="15.5" fill="#fff"/>
<text x="546.5" y="463.8" font-size="17" font-weight="bold" fill="#f02828" textLength="17.0" lengthAdjust="spacingAndGlyphs">24</text>
<rect x="584.5" y="440.2" width="19.0" height="15.5" fill="#fff"/>
<text x="585.5" y="453.8" font-size="17" font-weight="bold" fill="#f02828" textLength="17.0" lengthAdjust="spacingAndGlyphs">20</text>
<rect x="721.5" y="453.2" width="19.0" height="15.5" fill="#fff"/>
<text x="722.5" y="466.8" font-size="17" font-weight="bold" fill="#f02828" textLength="17.0" lengthAdjust="spacingAndGlyphs">24</text>
<rect x="726.5" y="471.2" width="19.0" height="15.5" fill="#fff"/>
<text x="727.5" y="484.8" font-size="17" font-weight="bold" fill="#f02828" textLength="17.0" lengthAdjust="spacingAndGlyphs">24</text>
<rect x="955.5" y="431.2" width="19.0" height="15.5" fill="#fff"/>
<text x="956.5" y="444.8" font-size="17" font-weight="bold" fill="#f02828" textLength="17.0" lengthAdjust="spacingAndGlyphs">24</text>
<rect x="996.5" y="458.2" width="19.0" height="15.5" fill="#fff"/>
<text x="997.5" y="471.8" font-size="17" font-weight="bold" fill="#f02828" textLength="17.0" lengthAdjust="spacingAndGlyphs">28</text>
<rect x="585.5" y="578.2" width="19.0" height="15.5" fill="#fff"/>
<text x="586.5" y="591.8" font-size="17" font-weight="bold" fill="#f02828" textLength="17.0" lengthAdjust="spacingAndGlyphs">24</text>
<rect x="621.5" y="577.2" width="19.0" height="15.5" fill="#fff"/>
<text x="622.5" y="590.8" font-size="17" font-weight="bold" fill="#f02828" textLength="17.0" lengthAdjust="spacingAndGlyphs">24</text>
<rect x="662.5" y="582.2" width="19.0" height="15.5" fill="#fff"/>
<text x="663.5" y="595.8" font-size="17" font-weight="bold" fill="#f02828" textLength="17.0" lengthAdjust="spacingAndGlyphs">24</text>
<rect x="767.5" y="580.2" width="19.0" height="15.5" fill="#fff"/>
<text x="768.5" y="593.8" font-size="17" font-weight="bold" fill="#f02828" textLength="17.0" lengthAdjust="spacingAndGlyphs">28</text>
<rect x="675.5" y="618.2" width="19.0" height="15.5" fill="#fff"/>
<text x="676.5" y="631.8" font-size="17" font-weight="bold" fill="#f02828" textLength="17.0" lengthAdjust="spacingAndGlyphs">24</text>
<rect x="662.5" y="633.2" width="19.0" height="15.5" fill="#fff"/>
<text x="663.5" y="646.8" font-size="17" font-weight="bold" fill="#f02828" textLength="17.0" lengthAdjust="spacingAndGlyphs">28</text>
<rect x="572.5" y="646.2" width="19.0" height="15.5" fill="#fff"/>
<text x="573.5" y="659.8" font-size="17" font-weight="bold" fill="#f02828" textLength="17.0" lengthAdjust="spacingAndGlyphs">28</text>
<rect x="856.5" y="714.2" width="19.0" height="15.5" fill="#fff"/>
<text x="857.5" y="727.8" font-size="17" font-weight="bold" fill="#f02828" textLength="17.0" lengthAdjust="spacingAndGlyphs">28</text>
</g>
<rect x="100" y="77" width="950" height="645" fill="none" stroke="#000" stroke-width="2"/>
<path d="M94,96.6 H100" stroke="#000" stroke-width="1.2"/>
<text x="54.0" y="102.9" font-size="18.5" fill="#000" text-anchor="start" textLength="34.0" lengthAdjust="spacing" stroke="#fff" stroke-width="0.25">51N</text>
<path d="M94,153.4 H100" stroke="#000" stroke-width="1.2"/>
<text x="54.0" y="159.7" font-size="18.5" fill="#000" text-anchor="start" textLength="34.0" lengthAdjust="spacing" stroke="#fff" stroke-width="0.25">48N</text>
<path d="M94,210.2 H100" stroke="#000" stroke-width="1.2"/>
<text x="54.0" y="216.5" font-size="18.5" fill="#000" text-anchor="start" textLength="34.0" lengthAdjust="spacing" stroke="#fff" stroke-width="0.25">45N</text>
<path d="M94,267.0 H100" stroke="#000" stroke-width="1.2"/>
<text x="54.0" y="273.3" font-size="18.5" fill="#000" text-anchor="start" textLength="34.0" lengthAdjust="spacing" stroke="#fff" stroke-width="0.25">42N</text>
<path d="M94,323.8 H100" stroke="#000" stroke-width="1.2"/>
<text x="54.0" y="330.1" font-size="18.5" fill="#000" text-anchor="start" textLength="34.0" lengthAdjust="spacing" stroke="#fff" stroke-width="0.25">39N</text>
<path d="M94,380.6 H100" stroke="#000" stroke-width="1.2"/>
<text x="54.0" y="386.9" font-size="18.5" fill="#000" text-anchor="start" textLength="34.0" lengthAdjust="spacing" stroke="#fff" stroke-width="0.25">36N</text>
<path d="M94,437.4 H100" stroke="#000" stroke-width="1.2"/>
<text x="54.0" y="443.7" font-size="18.5" fill="#000" text-anchor="start" textLength="34.0" lengthAdjust="spacing" stroke="#fff" stroke-width="0.25">33N</text>
<path d="M94,494.2 H100" stroke="#000" stroke-width="1.2"/>
<text x="54.0" y="500.5" font-size="18.5" fill="#000" text-anchor="start" textLength="34.0" lengthAdjust="spacing" stroke="#fff" stroke-width="0.25">30N</text>
<path d="M94,551.0 H100" stroke="#000" stroke-width="1.2"/>
<text x="54.0" y="557.3" font-size="18.5" fill="#000" text-anchor="start" textLength="34.0" lengthAdjust="spacing" stroke="#fff" stroke-width="0.25">27N</text>
<path d="M94,607.8 H100" stroke="#000" stroke-width="1.2"/>
<text x="54.0" y="614.1" font-size="18.5" fill="#000" text-anchor="start" textLength="34.0" lengthAdjust="spacing" stroke="#fff" stroke-width="0.25">24N</text>
<path d="M94,664.6 H100" stroke="#000" stroke-width="1.2"/>
<text x="54.0" y="670.9" font-size="18.5" fill="#000" text-anchor="start" textLength="34.0" lengthAdjust="spacing" stroke="#fff" stroke-width="0.25">21N</text>
<path d="M131.0,722 V728.5" stroke="#000" stroke-width="1.2"/>
<text x="114.0" y="748.0" font-size="18.5" fill="#000" text-anchor="start" textLength="34.0" lengthAdjust="spacing" stroke="#fff" stroke-width="0.25">80E</text>
<path d="M210.3,722 V728.5" stroke="#000" stroke-width="1.2"/>
<text x="193.3" y="748.0" font-size="18.5" fill="#000" text-anchor="start" textLength="34.0" lengthAdjust="spacing" stroke="#fff" stroke-width="0.25">85E</text>
<path d="M289.6,722 V728.5" stroke="#000" stroke-width="1.2"/>
<text x="272.6" y="748.0" font-size="18.5" fill="#000" text-anchor="start" textLength="34.0" lengthAdjust="spacing" stroke="#fff" stroke-width="0.25">90E</text>
<path d="M368.9,722 V728.5" stroke="#000" stroke-width="1.2"/>
<text x="351.9" y="748.0" font-size="18.5" fill="#000" text-anchor="start" textLength="34.0" lengthAdjust="spacing" stroke="#fff" stroke-width="0.25">95E</text>
<path d="M448.2,722 V728.5" stroke="#000" stroke-width="1.2"/>
<text x="425.7" y="748.0" font-size="18.5" fill="#000" text-anchor="start" textLength="45.0" lengthAdjust="spacing" stroke="#fff" stroke-width="0.25">100E</text>
<path d="M527.5,722 V728.5" stroke="#000" stroke-width="1.2"/>
<text x="505.0" y="748.0" font-size="18.5" fill="#000" text-anchor="start" textLength="45.0" lengthAdjust="spacing" stroke="#fff" stroke-width="0.25">105E</text>
<path d="M606.8,722 V728.5" stroke="#000" stroke-width="1.2"/>
<text x="584.3" y="748.0" font-size="18.5" fill="#000" text-anchor="start" textLength="45.0" lengthAdjust="spacing" stroke="#fff" stroke-width="0.25">110E</text>
<path d="M686.1,722 V728.5" stroke="#000" stroke-width="1.2"/>
<text x="663.6" y="748.0" font-size="18.5" fill="#000" text-anchor="start" textLength="45.0" lengthAdjust="spacing" stroke="#fff" stroke-width="0.25">115E</text>
<path d="M765.4,722 V728.5" stroke="#000" stroke-width="1.2"/>
<text x="742.9" y="748.0" font-size="18.5" fill="#000" text-anchor="start" textLength="45.0" lengthAdjust="spacing" stroke="#fff" stroke-width="0.25">120E</text>
<path d="M844.7,722 V728.5" stroke="#000" stroke-width="1.2"/>
<text x="822.2" y="748.0" font-size="18.5" fill="#000" text-anchor="start" textLength="45.0" lengthAdjust="spacing" stroke="#fff" stroke-width="0.25">125E</text>
<path d="M924.0,722 V728.5" stroke="#000" stroke-width="1.2"/>
<text x="901.5" y="748.0" font-size="18.5" fill="#000" text-anchor="start" textLength="45.0" lengthAdjust="spacing" stroke="#fff" stroke-width="0.25">130E</text>
<path d="M1003.3,722 V728.5" stroke="#000" stroke-width="1.2"/>
<text x="980.8" y="748.0" font-size="18.5" fill="#000" text-anchor="start" textLength="45.0" lengthAdjust="spacing" stroke="#fff" stroke-width="0.25">135E</text>
<text x="172.0" y="48.0" font-size="24.5" fill="#000" text-anchor="start" textLength="52.5" lengthAdjust="spacing" stroke="#fff" stroke-width="0.2">2025</text>
<text x="228.5" y="48.5" font-size="22.5" fill="#000" text-anchor="start" stroke="#fff" stroke-width="0.2">年</text>
<text x="251.5" y="48.0" font-size="24.5" fill="#000" text-anchor="start" textLength="25.0" lengthAdjust="spacing" stroke="#fff" stroke-width="0.2">09</text>
<text x="278.5" y="48.5" font-size="22.5" fill="#000" text-anchor="start" stroke="#fff" stroke-width="0.2">月</text>
<text x="307.5" y="48.0" font-size="24.5" fill="#000" text-anchor="start" textLength="24.5" lengthAdjust="spacing" stroke="#fff" stroke-width="0.2">27</text>
<text x="333.6" y="45.5" font-size="22.4" fill="#000" text-anchor="start" stroke="#fff" stroke-width="0.2">日</text>
<text x="357.5" y="48.0" font-size="24.5" fill="#000" text-anchor="start" textLength="12.5" lengthAdjust="spacingAndGlyphs" stroke="#fff" stroke-width="0.2">W</text>
<text x="370.5" y="48.0" font-size="24.5" fill="#000" text-anchor="start" textLength="28.0" lengthAdjust="spacing" stroke="#fff" stroke-width="0.2">RF</text>
<text x="402.0" y="48.0" font-size="24.5" fill="#000" text-anchor="start" textLength="15.0" lengthAdjust="spacingAndGlyphs" stroke="#fff" stroke-width="0.2">/</text>
<text x="418.5" y="48.0" font-size="24.5" fill="#000" text-anchor="start" textLength="63.5" lengthAdjust="spacing" stroke="#fff" stroke-width="0.2">cmaq</text>
<text x="482.5" y="48.5" font-size="22.5" fill="#000" text-anchor="start" textLength="45.5" lengthAdjust="spacing" stroke="#fff" stroke-width="0.2">模式</text>
<text x="530.5" y="48.0" font-size="24.5" fill="#000" text-anchor="start" textLength="65.0" lengthAdjust="spacing" stroke="#fff" stroke-width="0.2">36km</text>
<text x="597.0" y="48.5" font-size="22.5" fill="#000" text-anchor="start" textLength="91.5" lengthAdjust="spacing" stroke="#fff" stroke-width="0.2">预报产品</text>
<text x="691.5" y="48.0" font-size="24.5" fill="#000" text-anchor="start" stroke="#fff" stroke-width="0.2">:</text>
<text x="702.0" y="48.0" font-size="24.5" fill="#000" text-anchor="start" textLength="25.0" lengthAdjust="spacing" stroke="#fff" stroke-width="0.2">09</text>
<text x="729.5" y="48.5" font-size="22.5" fill="#000" text-anchor="start" stroke="#fff" stroke-width="0.2">月</text>
<text x="756.5" y="48.0" font-size="24.5" fill="#000" text-anchor="start" textLength="25.5" lengthAdjust="spacing" stroke="#fff" stroke-width="0.2">27</text>
<text x="784.0" y="45.5" font-size="22.4" fill="#000" text-anchor="start" stroke="#fff" stroke-width="0.2">日</text>
<text x="806.5" y="48.0" font-size="24.5" fill="#000" text-anchor="start" textLength="24.0" lengthAdjust="spacing" stroke="#fff" stroke-width="0.2">21</text>
<text x="836.0" y="48.5" font-size="22.5" fill="#000" text-anchor="start" stroke="#fff" stroke-width="0.2">时</text>
<text x="871.5" y="48.0" font-size="24.5" fill="#f03030" text-anchor="start" textLength="98.0" lengthAdjust="spacing" stroke="#fff" stroke-width="0.2">surface</text>
<rect x="110.00" y="756" width="41.95" height="31.5" fill="#07075e" stroke="#000" stroke-width="1"/>
<rect x="151.95" y="756" width="41.95" height="31.5" fill="#0000b0" stroke="#000" stroke-width="1"/>
<rect x="193.90" y="756" width="41.95" height="31.5" fill="#0000e0" stroke="#000" stroke-width="1"/>
<rect x="235.86" y="756" width="41.95" height="31.5" fill="#0a20ff" stroke="#000" stroke-width="1"/>
<rect x="277.81" y="756" width="41.95" height="31.5" fill="#0060ff" stroke="#000" stroke-width="1"/>
<rect x="319.76" y="756" width="41.95" height="31.5" fill="#0090ff" stroke="#000" stroke-width="1"/>
<rect x="361.71" y="756" width="41.95" height="31.5" fill="#00c0ff" stroke="#000" stroke-width="1"/>
<rect x="403.67" y="756" width="41.95" height="31.5" fill="#00e8ff" stroke="#000" stroke-width="1"/>
<rect x="445.62" y="756" width="41.95" height="31.5" fill="#20ffe0" stroke="#000" stroke-width="1"/>
<rect x="487.57" y="756" width="41.95" height="31.5" fill="#58ffa8" stroke="#000" stroke-width="1"/>
<rect x="529.52" y="756" width="41.95" height="31.5" fill="#90ff70" stroke="#000" stroke-width="1"/>
<rect x="571.48" y="756" width="41.95" height="31.5" fill="#c0ff40" stroke="#000" stroke-width="1"/>
<rect x="613.43" y="756" width="41.95" height="31.5" fill="#f0ff20" stroke="#000" stroke-width="1"/>
<rect x="655.38" y="756" width="41.95" height="31.5" fill="#ffe000" stroke="#000" stroke-width="1"/>
<rect x="697.33" y="756" width="41.95" height="31.5" fill="#ffa808" stroke="#000" stroke-width="1"/>
<rect x="739.29" y="756" width="41.95" height="31.5" fill="#ff7808" stroke="#000" stroke-width="1"/>
<rect x="781.24" y="756" width="41.95" height="31.5" fill="#ff4000" stroke="#000" stroke-width="1"/>
<rect x="823.19" y="756" width="41.95" height="31.5" fill="#fc1008" stroke="#000" stroke-width="1"/>
<rect x="865.14" y="756" width="41.95" height="31.5" fill="#dc0000" stroke="#000" stroke-width="1"/>
<rect x="907.10" y="756" width="41.95" height="31.5" fill="#a80000" stroke="#000" stroke-width="1"/>
<rect x="949.05" y="756" width="41.95" height="31.5" fill="#7c0000" stroke="#000" stroke-width="1"/>
<text x="130.5" y="810.0" font-size="24.5" fill="#000" text-anchor="start" textLength="43.0" lengthAdjust="spacing" stroke="#fff" stroke-width="0.25">−14</text>
<text x="214.4" y="810.0" font-size="24.5" fill="#000" text-anchor="start" textLength="43.0" lengthAdjust="spacing" stroke="#fff" stroke-width="0.25">−10</text>
<text x="306.8" y="810.0" font-size="24.5" fill="#000" text-anchor="start" textLength="26.0" lengthAdjust="spacing" stroke="#fff" stroke-width="0.25">−6</text>
<text x="397.4" y="810.0" font-size="24.5" fill="#000" text-anchor="start" stroke="#fff" stroke-width="0.25">0</text>
<text x="481.3" y="810.0" font-size="24.5" fill="#000" text-anchor="start" stroke="#fff" stroke-width="0.25">4</text>
<text x="558.5" y="810.0" font-size="24.5" fill="#000" text-anchor="start" textLength="26.0" lengthAdjust="spacing" stroke="#fff" stroke-width="0.25">10</text>
<text x="642.4" y="810.0" font-size="24.5" fill="#000" text-anchor="start" textLength="26.0" lengthAdjust="spacing" stroke="#fff" stroke-width="0.25">14</text>
<text x="726.3" y="810.0" font-size="24.5" fill="#000" text-anchor="start" textLength="26.0" lengthAdjust="spacing" stroke="#fff" stroke-width="0.25">18</text>
<text x="810.2" y="810.0" font-size="24.5" fill="#000" text-anchor="start" textLength="26.0" lengthAdjust="spacing" stroke="#fff" stroke-width="0.25">24</text>
<text x="894.1" y="810.0" font-size="24.5" fill="#000" text-anchor="start" textLength="26.0" lengthAdjust="spacing" stroke="#fff" stroke-width="0.25">28</text>
<text x="661.0" y="828.0" font-size="19.5" fill="#000" text-anchor="start" textLength="81.0" lengthAdjust="spacing">版权所有</text>
<text x="745.0" y="828.0" font-size="19.5" fill="#000" text-anchor="start">:</text>
<text x="754.0" y="828.0" font-size="19.5" fill="#000" text-anchor="start" textLength="77.0" lengthAdjust="spacing">南京大学</text>
<path d="M834.5,807.5 V837.5" stroke="#000" stroke-width="1.2"/>
<text x="846.0" y="828.0" font-size="19.5" fill="#000" text-anchor="start" textLength="195.0" lengthAdjust="spacing">南京创蓝科技有限公司</text>
</svg></body></html>
